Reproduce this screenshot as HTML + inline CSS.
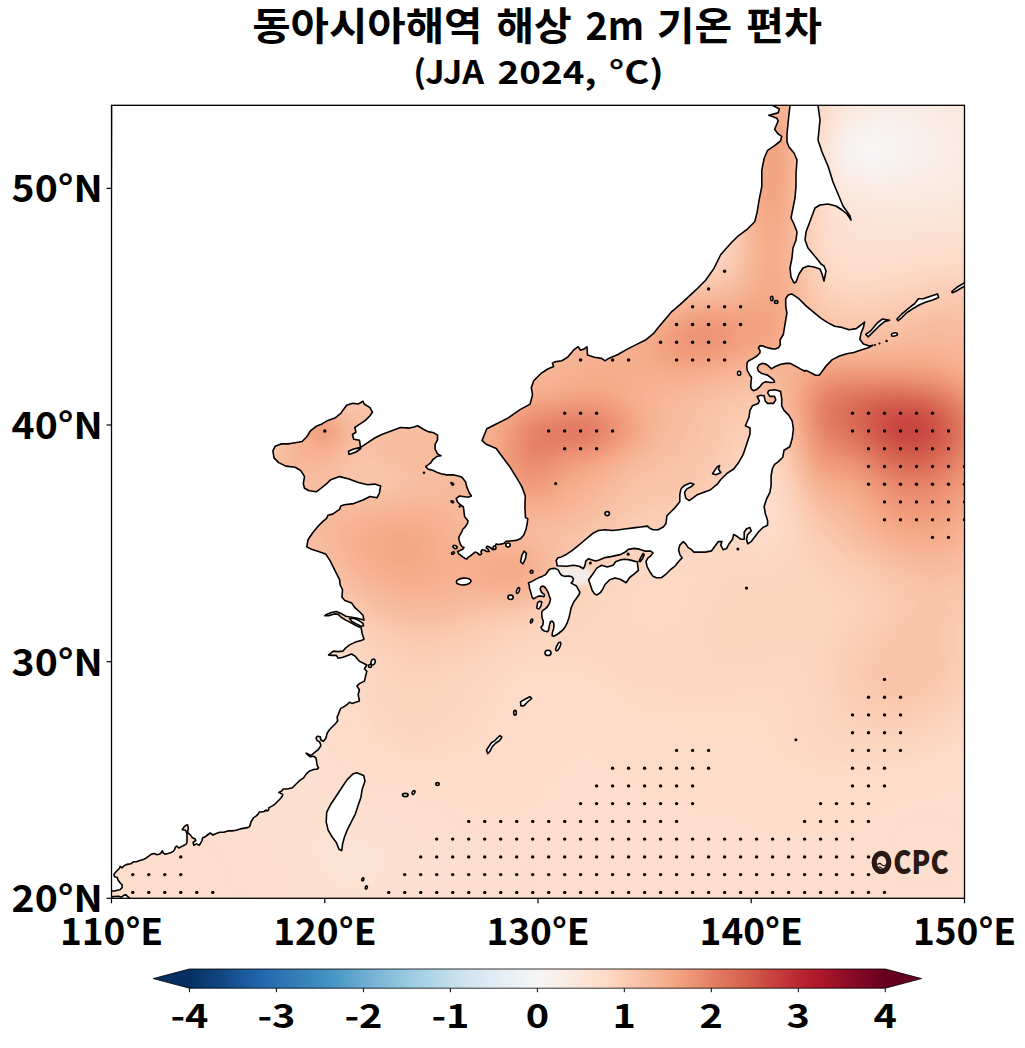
<!DOCTYPE html>
<html><head><meta charset="utf-8"><style>
html,body{margin:0;padding:0;background:#fff;overflow:hidden;width:1025px;height:1048px;}
svg{display:block;}
text{font-family:'Noto Sans CJK KR','Liberation Sans',sans-serif;font-weight:700;fill:#000;}
</style></head><body>
<svg width="1025" height="1048" viewBox="0 0 1025 1048">
<defs>
<clipPath id="ax"><rect x="111.5" y="105.3" width="853.0" height="793.0"/></clipPath>
<filter id="bl" x="40" y="40" width="1000" height="940" filterUnits="userSpaceOnUse"><feGaussianBlur stdDeviation="9"/></filter>
<filter id="bl2" x="500" y="500" width="150" height="150" filterUnits="userSpaceOnUse"><feGaussianBlur stdDeviation="2.5"/></filter>
<linearGradient id="cb" gradientUnits="userSpaceOnUse" x1="189.4" x2="885.3" y1="0" y2="0"><stop offset="0.000" stop-color="#053061"/><stop offset="0.025" stop-color="#0c3d73"/><stop offset="0.050" stop-color="#124984"/><stop offset="0.075" stop-color="#1a5899"/><stop offset="0.100" stop-color="#2065ab"/><stop offset="0.125" stop-color="#2a71b2"/><stop offset="0.150" stop-color="#327cb7"/><stop offset="0.175" stop-color="#3a87bd"/><stop offset="0.200" stop-color="#4393c3"/><stop offset="0.225" stop-color="#569fc9"/><stop offset="0.250" stop-color="#6bacd1"/><stop offset="0.275" stop-color="#7eb8d7"/><stop offset="0.300" stop-color="#90c4dd"/><stop offset="0.325" stop-color="#a2cde3"/><stop offset="0.350" stop-color="#b1d5e7"/><stop offset="0.375" stop-color="#c2ddec"/><stop offset="0.400" stop-color="#d1e5f0"/><stop offset="0.425" stop-color="#dae9f2"/><stop offset="0.450" stop-color="#e4eef4"/><stop offset="0.475" stop-color="#edf2f5"/><stop offset="0.500" stop-color="#f7f6f6"/><stop offset="0.525" stop-color="#f9f0eb"/><stop offset="0.550" stop-color="#fae9df"/><stop offset="0.575" stop-color="#fce2d2"/><stop offset="0.600" stop-color="#fddbc7"/><stop offset="0.625" stop-color="#fbccb4"/><stop offset="0.650" stop-color="#f8bfa4"/><stop offset="0.675" stop-color="#f6b394"/><stop offset="0.700" stop-color="#f3a481"/><stop offset="0.725" stop-color="#ec9374"/><stop offset="0.750" stop-color="#e48066"/><stop offset="0.775" stop-color="#dd7059"/><stop offset="0.800" stop-color="#d6604d"/><stop offset="0.825" stop-color="#cc4c44"/><stop offset="0.850" stop-color="#c43b3c"/><stop offset="0.875" stop-color="#ba2832"/><stop offset="0.900" stop-color="#b1182b"/><stop offset="0.925" stop-color="#9f1228"/><stop offset="0.950" stop-color="#8a0b25"/><stop offset="0.975" stop-color="#790622"/><stop offset="1.000" stop-color="#67001f"/></linearGradient>
</defs>
<text x="252.2" y="40" font-size="39" textLength="230.2" lengthAdjust="spacingAndGlyphs">동아시아해역</text><text x="496.2" y="40" font-size="39" textLength="75.4" lengthAdjust="spacingAndGlyphs">해상</text><text x="585.4" y="40" font-size="39" textLength="58.6" lengthAdjust="spacingAndGlyphs">2m</text><text x="656.8" y="40" font-size="39" textLength="75.4" lengthAdjust="spacingAndGlyphs">기온</text><text x="746.0" y="40" font-size="39" textLength="76.0" lengthAdjust="spacingAndGlyphs">편차</text>
<text x="413.2" y="83.5" font-size="32" textLength="71.0" lengthAdjust="spacingAndGlyphs">(JJA</text><text x="497.6" y="83.5" font-size="32" textLength="98.8" lengthAdjust="spacingAndGlyphs">2024,</text><text x="608.8" y="83.5" font-size="32" textLength="55.0" lengthAdjust="spacingAndGlyphs">°C)</text>
<g clip-path="url(#ax)">
<g filter="url(#bl)"><path fill="#f6f7f7" d="M858 141h12v13h-12zM869 141h12v13h-12z"/><path fill="#f7f6f6" d="M858 153h12v13h-12zM869 153h12v13h-12z"/><path fill="#f7f6f6" d="M879 141h12v13h-12z"/><path fill="#f7f5f4" d="M847 141h12v13h-12zM858 129h12v13h-12zM869 129h12v13h-12zM879 153h12v13h-12z"/><path fill="#f8f4f2" d="M847 153h12v13h-12zM879 129h12v13h-12zM890 141h12v13h-12z"/><path fill="#f8f3f0" d="M890 153h12v13h-12zM890 129h12v13h-12z"/><path fill="#f8f2ef" d="M847 129h12v13h-12zM858 165h12v13h-12zM869 165h12v13h-12zM901 141h12v13h-12z"/><path fill="#f8f2ef" d="M869 117h12v13h-12zM879 165h12v13h-12zM879 117h12v13h-12zM901 153h12v13h-12zM901 129h12v13h-12z"/><path fill="#f8f1ed" d="M837 141h12v13h-12zM847 165h12v13h-12zM858 117h12v13h-12zM890 165h12v13h-12zM890 117h12v13h-12zM911 141h12v13h-12z"/><path fill="#f9f0eb" d="M837 153h12v13h-12zM901 117h12v13h-12zM911 153h12v13h-12zM911 129h12v13h-12z"/><path fill="#f9efe9" d="M901 165h12v13h-12zM911 117h12v13h-12zM922 153h12v13h-12zM922 141h12v13h-12zM922 129h12v13h-12z"/><path fill="#f9eee7" d="M837 129h12v13h-12zM847 117h12v13h-12zM879 106h12v13h-12zM890 106h12v13h-12zM901 106h12v13h-12zM911 165h12v13h-12zM922 117h12v13h-12zM933 153h12v13h-12zM933 141h12v13h-12zM933 129h12v13h-12z"/><path fill="#f9eee7" d="M837 165h12v13h-12zM858 177h12v13h-12zM869 177h12v13h-12zM869 106h12v13h-12zM879 177h12v13h-12zM890 177h12v13h-12zM911 106h12v13h-12zM922 165h12v13h-12zM933 117h12v13h-12zM943 141h12v13h-12z"/><path fill="#f9ede5" d="M858 106h12v13h-12zM901 177h12v13h-12zM911 177h12v13h-12zM922 106h12v13h-12zM933 165h12v13h-12zM943 153h12v13h-12zM943 129h12v13h-12z"/><path fill="#f9ebe3" d="M847 177h12v13h-12zM890 94h12v13h-12zM901 94h12v13h-12zM911 94h12v13h-12zM922 177h12v13h-12zM933 177h12v13h-12zM933 106h12v13h-12zM943 165h12v13h-12zM943 117h12v13h-12zM954 153h12v13h-12zM954 141h12v13h-12zM954 129h12v13h-12z"/><path fill="#faeae1" d="M879 94h12v13h-12zM922 94h12v13h-12zM943 177h12v13h-12zM943 106h12v13h-12zM954 165h12v13h-12zM954 117h12v13h-12z"/><path fill="#fae9df" d="M826 153h12v13h-12zM826 141h12v13h-12zM837 117h12v13h-12zM847 106h12v13h-12zM869 188h12v13h-12zM869 94h12v13h-12zM879 188h12v13h-12zM890 188h12v13h-12zM901 188h12v13h-12zM911 188h12v13h-12zM922 188h12v13h-12zM933 94h12v13h-12zM964 153h12v13h-12zM964 141h12v13h-12zM964 129h12v13h-12z"/><path fill="#fae9df" d="M837 177h12v13h-12zM858 188h12v13h-12zM858 94h12v13h-12zM879 82h12v13h-12zM890 82h12v13h-12zM901 82h12v13h-12zM911 82h12v13h-12zM922 82h12v13h-12zM933 188h12v13h-12zM943 188h12v13h-12zM943 94h12v13h-12zM954 177h12v13h-12zM954 106h12v13h-12zM964 165h12v13h-12zM964 117h12v13h-12z"/><path fill="#fae8de" d="M847 188h12v13h-12zM933 82h12v13h-12zM954 188h12v13h-12zM954 94h12v13h-12zM964 177h12v13h-12zM964 106h12v13h-12zM975 153h12v13h-12zM975 141h12v13h-12zM975 129h12v13h-12z"/><path fill="#fae7dc" d="M826 165h12v13h-12zM826 129h12v13h-12zM869 82h12v13h-12zM879 200h12v13h-12zM890 200h12v13h-12zM901 200h12v13h-12zM901 70h12v13h-12zM911 200h12v13h-12zM911 70h12v13h-12zM922 200h12v13h-12zM933 200h12v13h-12zM943 82h12v13h-12zM975 165h12v13h-12zM975 117h12v13h-12z"/><path fill="#fbe6da" d="M837 188h12v13h-12zM837 106h12v13h-12zM847 94h12v13h-12zM858 200h12v13h-12zM858 82h12v13h-12zM869 200h12v13h-12zM879 70h12v13h-12zM890 70h12v13h-12zM922 70h12v13h-12zM933 70h12v13h-12zM943 200h12v13h-12zM954 82h12v13h-12zM964 188h12v13h-12zM964 94h12v13h-12zM975 177h12v13h-12zM975 106h12v13h-12zM986 165h12v13h-12zM986 153h12v13h-12zM986 141h12v13h-12zM986 129h12v13h-12z"/><path fill="#fbe5d8" d="M847 200h12v13h-12zM869 70h12v13h-12zM890 212h12v13h-12zM901 212h12v13h-12zM911 212h12v13h-12zM922 212h12v13h-12zM943 70h12v13h-12zM954 200h12v13h-12zM964 82h12v13h-12zM975 188h12v13h-12zM975 94h12v13h-12zM986 177h12v13h-12zM986 117h12v13h-12z"/><path fill="#fbe5d8" d="M826 177h12v13h-12zM826 117h12v13h-12zM847 82h12v13h-12zM858 212h12v13h-12zM858 70h12v13h-12zM869 212h12v13h-12zM879 212h12v13h-12zM890 58h12v13h-12zM901 58h12v13h-12zM911 58h12v13h-12zM922 58h12v13h-12zM933 212h12v13h-12zM943 212h12v13h-12zM954 70h12v13h-12zM964 200h12v13h-12zM986 106h12v13h-12zM996 165h12v13h-12zM996 153h12v13h-12zM996 141h12v13h-12zM996 129h12v13h-12z"/><path fill="#fbe4d6" d="M837 200h12v13h-12zM837 94h12v13h-12zM847 212h12v13h-12zM869 58h12v13h-12zM879 58h12v13h-12zM890 224h12v13h-12zM901 224h12v13h-12zM933 58h12v13h-12zM943 58h12v13h-12zM954 212h12v13h-12zM964 70h12v13h-12zM975 200h12v13h-12zM975 82h12v13h-12zM986 188h12v13h-12zM986 94h12v13h-12zM996 177h12v13h-12zM996 117h12v13h-12zM996 106h12v13h-12z"/><path fill="#fbe3d4" d="M826 188h12v13h-12zM837 212h12v13h-12zM847 224h12v13h-12zM847 70h12v13h-12zM858 224h12v13h-12zM858 58h12v13h-12zM869 224h12v13h-12zM879 224h12v13h-12zM890 46h12v13h-12zM901 46h12v13h-12zM911 224h12v13h-12zM911 46h12v13h-12zM922 224h12v13h-12zM922 46h12v13h-12zM933 224h12v13h-12zM954 58h12v13h-12zM964 212h12v13h-12zM975 70h12v13h-12zM986 200h12v13h-12zM986 82h12v13h-12zM996 188h12v13h-12zM996 94h12v13h-12zM1007 177h12v13h-12zM1007 165h12v13h-12zM1007 153h12v13h-12zM1007 141h12v13h-12zM1007 129h12v13h-12zM1007 117h12v13h-12z"/><path fill="#fce2d2" d="M303 851h12v13h-12zM303 839h12v13h-12zM303 827h12v13h-12zM314 875h12v13h-12zM314 863h12v13h-12zM314 851h12v13h-12zM314 839h12v13h-12zM314 827h12v13h-12zM314 815h12v13h-12zM325 875h12v13h-12zM325 863h12v13h-12zM325 851h12v13h-12zM325 839h12v13h-12zM325 827h12v13h-12zM335 886h12v13h-12zM335 875h12v13h-12zM335 863h12v13h-12zM335 851h12v13h-12zM335 839h12v13h-12zM335 827h12v13h-12zM346 886h12v13h-12zM346 875h12v13h-12zM346 863h12v13h-12zM346 851h12v13h-12zM346 839h12v13h-12zM346 827h12v13h-12zM357 886h12v13h-12zM357 875h12v13h-12zM357 863h12v13h-12zM357 851h12v13h-12zM357 839h12v13h-12zM357 827h12v13h-12zM367 875h12v13h-12zM367 863h12v13h-12zM367 851h12v13h-12zM367 839h12v13h-12zM378 875h12v13h-12zM378 863h12v13h-12zM378 851h12v13h-12zM378 839h12v13h-12zM837 224h12v13h-12zM837 82h12v13h-12zM858 236h12v13h-12zM869 236h12v13h-12zM869 46h12v13h-12zM879 236h12v13h-12zM879 46h12v13h-12zM890 236h12v13h-12zM933 46h12v13h-12zM943 224h12v13h-12zM943 46h12v13h-12zM954 224h12v13h-12zM964 58h12v13h-12zM975 212h12v13h-12zM986 212h12v13h-12zM986 70h12v13h-12zM996 200h12v13h-12zM996 82h12v13h-12zM1007 188h12v13h-12zM1007 106h12v13h-12zM1018 165h12v13h-12zM1018 153h12v13h-12zM1018 141h12v13h-12zM1018 129h12v13h-12z"/><path fill="#fce0d0" d="M271 804h12v13h-12zM271 792h12v13h-12zM282 839h12v13h-12zM282 827h12v13h-12zM282 815h12v13h-12zM282 804h12v13h-12zM282 792h12v13h-12zM282 780h12v13h-12zM293 863h12v13h-12zM293 851h12v13h-12zM293 839h12v13h-12zM293 827h12v13h-12zM293 815h12v13h-12zM293 804h12v13h-12zM293 792h12v13h-12zM303 886h12v13h-12zM303 875h12v13h-12zM303 863h12v13h-12zM303 815h12v13h-12zM303 804h12v13h-12zM303 792h12v13h-12zM314 898h12v13h-12zM314 886h12v13h-12zM314 804h12v13h-12zM314 792h12v13h-12zM325 898h12v13h-12zM325 886h12v13h-12zM325 815h12v13h-12zM325 804h12v13h-12zM335 898h12v13h-12zM335 815h12v13h-12zM335 804h12v13h-12zM346 898h12v13h-12zM346 815h12v13h-12zM357 898h12v13h-12zM357 815h12v13h-12zM367 898h12v13h-12zM367 886h12v13h-12zM367 827h12v13h-12zM367 815h12v13h-12zM378 898h12v13h-12zM378 886h12v13h-12zM378 827h12v13h-12zM389 886h12v13h-12zM389 875h12v13h-12zM389 863h12v13h-12zM389 851h12v13h-12zM389 839h12v13h-12zM389 827h12v13h-12zM399 875h12v13h-12zM399 863h12v13h-12zM399 851h12v13h-12zM399 839h12v13h-12zM410 863h12v13h-12zM815 153h12v13h-12zM815 141h12v13h-12zM826 200h12v13h-12zM826 106h12v13h-12zM847 236h12v13h-12zM847 58h12v13h-12zM858 46h12v13h-12zM879 35h12v13h-12zM890 35h12v13h-12zM901 236h12v13h-12zM901 35h12v13h-12zM911 236h12v13h-12zM911 35h12v13h-12zM922 236h12v13h-12zM922 35h12v13h-12zM933 35h12v13h-12zM954 46h12v13h-12zM964 224h12v13h-12zM964 46h12v13h-12zM975 58h12v13h-12zM986 58h12v13h-12zM996 212h12v13h-12zM996 70h12v13h-12zM1007 200h12v13h-12zM1007 94h12v13h-12zM1007 82h12v13h-12zM1018 188h12v13h-12zM1018 177h12v13h-12zM1018 117h12v13h-12zM1018 106h12v13h-12z"/><path fill="#fce0d0" d="M229 780h12v13h-12zM229 768h12v13h-12zM239 792h12v13h-12zM239 780h12v13h-12zM239 768h12v13h-12zM239 756h12v13h-12zM250 815h12v13h-12zM250 804h12v13h-12zM250 792h12v13h-12zM250 780h12v13h-12zM250 768h12v13h-12zM250 756h12v13h-12zM250 744h12v13h-12zM261 827h12v13h-12zM261 815h12v13h-12zM261 804h12v13h-12zM261 792h12v13h-12zM261 780h12v13h-12zM261 768h12v13h-12zM261 756h12v13h-12zM261 744h12v13h-12zM271 851h12v13h-12zM271 839h12v13h-12zM271 827h12v13h-12zM271 815h12v13h-12zM271 780h12v13h-12zM271 768h12v13h-12zM271 756h12v13h-12zM271 744h12v13h-12zM282 886h12v13h-12zM282 875h12v13h-12zM282 863h12v13h-12zM282 851h12v13h-12zM282 768h12v13h-12zM282 756h12v13h-12zM282 744h12v13h-12zM293 910h12v13h-12zM293 898h12v13h-12zM293 886h12v13h-12zM293 875h12v13h-12zM293 780h12v13h-12zM293 768h12v13h-12zM293 756h12v13h-12zM303 910h12v13h-12zM303 898h12v13h-12zM303 780h12v13h-12zM303 768h12v13h-12zM314 922h12v13h-12zM314 910h12v13h-12zM314 780h12v13h-12zM325 922h12v13h-12zM325 910h12v13h-12zM325 792h12v13h-12zM335 922h12v13h-12zM335 910h12v13h-12zM335 792h12v13h-12zM346 922h12v13h-12zM346 910h12v13h-12zM346 804h12v13h-12zM357 922h12v13h-12zM357 910h12v13h-12zM357 804h12v13h-12zM367 922h12v13h-12zM367 910h12v13h-12zM367 804h12v13h-12zM378 910h12v13h-12zM378 815h12v13h-12zM389 910h12v13h-12zM389 898h12v13h-12zM389 815h12v13h-12zM399 910h12v13h-12zM399 898h12v13h-12zM399 886h12v13h-12zM399 827h12v13h-12zM399 815h12v13h-12zM410 898h12v13h-12zM410 886h12v13h-12zM410 875h12v13h-12zM410 851h12v13h-12zM410 839h12v13h-12zM410 827h12v13h-12zM421 886h12v13h-12zM421 875h12v13h-12zM421 863h12v13h-12zM421 851h12v13h-12zM421 839h12v13h-12zM431 875h12v13h-12zM431 863h12v13h-12zM431 851h12v13h-12zM815 165h12v13h-12zM826 224h12v13h-12zM826 212h12v13h-12zM837 236h12v13h-12zM837 70h12v13h-12zM837 58h12v13h-12zM847 248h12v13h-12zM847 46h12v13h-12zM858 248h12v13h-12zM858 35h12v13h-12zM869 248h12v13h-12zM869 35h12v13h-12zM879 248h12v13h-12zM901 23h12v13h-12zM911 23h12v13h-12zM922 23h12v13h-12zM933 236h12v13h-12zM943 236h12v13h-12zM943 35h12v13h-12zM954 35h12v13h-12zM964 35h12v13h-12zM975 224h12v13h-12zM975 46h12v13h-12zM986 224h12v13h-12zM986 46h12v13h-12zM996 58h12v13h-12zM1007 212h12v13h-12zM1007 70h12v13h-12zM1018 200h12v13h-12zM1018 94h12v13h-12zM1018 82h12v13h-12z"/><path fill="#fcdfcf" d="M186 780h12v13h-12zM186 768h12v13h-12zM197 792h12v13h-12zM197 780h12v13h-12zM197 768h12v13h-12zM197 756h12v13h-12zM197 744h12v13h-12zM207 804h12v13h-12zM207 792h12v13h-12zM207 780h12v13h-12zM207 768h12v13h-12zM207 756h12v13h-12zM207 744h12v13h-12zM207 733h12v13h-12zM218 815h12v13h-12zM218 804h12v13h-12zM218 792h12v13h-12zM218 780h12v13h-12zM218 768h12v13h-12zM218 756h12v13h-12zM218 744h12v13h-12zM218 733h12v13h-12zM218 721h12v13h-12zM229 815h12v13h-12zM229 804h12v13h-12zM229 792h12v13h-12zM229 756h12v13h-12zM229 744h12v13h-12zM229 733h12v13h-12zM229 721h12v13h-12zM239 827h12v13h-12zM239 815h12v13h-12zM239 804h12v13h-12zM239 744h12v13h-12zM239 733h12v13h-12zM239 721h12v13h-12zM239 709h12v13h-12zM250 851h12v13h-12zM250 839h12v13h-12zM250 827h12v13h-12zM250 733h12v13h-12zM250 721h12v13h-12zM250 709h12v13h-12zM261 886h12v13h-12zM261 875h12v13h-12zM261 863h12v13h-12zM261 851h12v13h-12zM261 839h12v13h-12zM261 733h12v13h-12zM261 721h12v13h-12zM261 709h12v13h-12zM271 922h12v13h-12zM271 910h12v13h-12zM271 898h12v13h-12zM271 886h12v13h-12zM271 875h12v13h-12zM271 863h12v13h-12zM271 733h12v13h-12zM271 721h12v13h-12zM271 709h12v13h-12zM282 934h12v13h-12zM282 922h12v13h-12zM282 910h12v13h-12zM282 898h12v13h-12zM282 733h12v13h-12zM282 721h12v13h-12zM282 709h12v13h-12zM293 934h12v13h-12zM293 922h12v13h-12zM293 744h12v13h-12zM293 733h12v13h-12zM293 721h12v13h-12zM303 946h12v13h-12zM303 934h12v13h-12zM303 922h12v13h-12zM303 756h12v13h-12zM303 744h12v13h-12zM314 946h12v13h-12zM314 934h12v13h-12zM314 768h12v13h-12zM314 756h12v13h-12zM325 946h12v13h-12zM325 934h12v13h-12zM325 780h12v13h-12zM325 768h12v13h-12zM335 946h12v13h-12zM335 934h12v13h-12zM335 780h12v13h-12zM346 946h12v13h-12zM346 934h12v13h-12zM346 792h12v13h-12zM357 946h12v13h-12zM357 934h12v13h-12zM357 792h12v13h-12zM367 946h12v13h-12zM367 934h12v13h-12zM367 792h12v13h-12zM378 946h12v13h-12zM378 934h12v13h-12zM378 922h12v13h-12zM378 804h12v13h-12zM389 934h12v13h-12zM389 922h12v13h-12zM389 804h12v13h-12zM399 934h12v13h-12zM399 922h12v13h-12zM399 804h12v13h-12zM410 922h12v13h-12zM410 910h12v13h-12zM410 815h12v13h-12zM421 922h12v13h-12zM421 910h12v13h-12zM421 898h12v13h-12zM421 827h12v13h-12zM421 815h12v13h-12zM431 910h12v13h-12zM431 898h12v13h-12zM431 886h12v13h-12zM431 839h12v13h-12zM431 827h12v13h-12zM442 898h12v13h-12zM442 886h12v13h-12zM442 875h12v13h-12zM442 863h12v13h-12zM442 851h12v13h-12zM442 839h12v13h-12zM453 886h12v13h-12zM453 875h12v13h-12zM453 863h12v13h-12zM453 851h12v13h-12zM815 129h12v13h-12zM826 236h12v13h-12zM826 94h12v13h-12zM837 248h12v13h-12zM837 46h12v13h-12zM847 35h12v13h-12zM858 23h12v13h-12zM869 23h12v13h-12zM879 23h12v13h-12zM890 248h12v13h-12zM890 23h12v13h-12zM901 248h12v13h-12zM911 248h12v13h-12zM933 23h12v13h-12zM943 23h12v13h-12zM954 236h12v13h-12zM954 23h12v13h-12zM964 236h12v13h-12zM964 23h12v13h-12zM975 35h12v13h-12zM975 23h12v13h-12zM986 35h12v13h-12zM996 224h12v13h-12zM996 46h12v13h-12zM996 35h12v13h-12zM1007 224h12v13h-12zM1007 58h12v13h-12zM1007 46h12v13h-12zM1018 212h12v13h-12zM1018 70h12v13h-12zM1018 58h12v13h-12z"/><path fill="#fcdecd" d="M122 780h12v13h-12zM122 768h12v13h-12zM122 756h12v13h-12zM133 792h12v13h-12zM133 780h12v13h-12zM133 768h12v13h-12zM133 756h12v13h-12zM133 744h12v13h-12zM133 733h12v13h-12zM143 804h12v13h-12zM143 792h12v13h-12zM143 780h12v13h-12zM143 768h12v13h-12zM143 756h12v13h-12zM143 744h12v13h-12zM143 733h12v13h-12zM143 721h12v13h-12zM154 804h12v13h-12zM154 792h12v13h-12zM154 780h12v13h-12zM154 768h12v13h-12zM154 756h12v13h-12zM154 744h12v13h-12zM154 733h12v13h-12zM154 721h12v13h-12zM154 709h12v13h-12zM165 815h12v13h-12zM165 804h12v13h-12zM165 792h12v13h-12zM165 780h12v13h-12zM165 768h12v13h-12zM165 756h12v13h-12zM165 744h12v13h-12zM165 733h12v13h-12zM165 721h12v13h-12zM165 709h12v13h-12zM165 697h12v13h-12zM175 815h12v13h-12zM175 804h12v13h-12zM175 792h12v13h-12zM175 780h12v13h-12zM175 768h12v13h-12zM175 756h12v13h-12zM175 744h12v13h-12zM175 733h12v13h-12zM175 721h12v13h-12zM175 709h12v13h-12zM175 697h12v13h-12zM175 685h12v13h-12zM186 827h12v13h-12zM186 815h12v13h-12zM186 804h12v13h-12zM186 792h12v13h-12zM186 756h12v13h-12zM186 744h12v13h-12zM186 733h12v13h-12zM186 721h12v13h-12zM186 709h12v13h-12zM186 697h12v13h-12zM186 685h12v13h-12zM197 827h12v13h-12zM197 815h12v13h-12zM197 804h12v13h-12zM197 733h12v13h-12zM197 721h12v13h-12zM197 709h12v13h-12zM197 697h12v13h-12zM197 685h12v13h-12zM197 674h12v13h-12zM207 839h12v13h-12zM207 827h12v13h-12zM207 815h12v13h-12zM207 721h12v13h-12zM207 709h12v13h-12zM207 697h12v13h-12zM207 685h12v13h-12zM207 674h12v13h-12zM218 957h12v13h-12zM218 946h12v13h-12zM218 851h12v13h-12zM218 839h12v13h-12zM218 827h12v13h-12zM218 709h12v13h-12zM218 697h12v13h-12zM218 685h12v13h-12zM218 674h12v13h-12zM229 957h12v13h-12zM229 946h12v13h-12zM229 934h12v13h-12zM229 922h12v13h-12zM229 910h12v13h-12zM229 898h12v13h-12zM229 875h12v13h-12zM229 863h12v13h-12zM229 851h12v13h-12zM229 839h12v13h-12zM229 827h12v13h-12zM229 709h12v13h-12zM229 697h12v13h-12zM229 685h12v13h-12zM229 674h12v13h-12zM229 662h12v13h-12zM239 957h12v13h-12zM239 946h12v13h-12zM239 934h12v13h-12zM239 922h12v13h-12zM239 910h12v13h-12zM239 898h12v13h-12zM239 886h12v13h-12zM239 875h12v13h-12zM239 863h12v13h-12zM239 851h12v13h-12zM239 839h12v13h-12zM239 697h12v13h-12zM239 685h12v13h-12zM239 674h12v13h-12zM239 662h12v13h-12zM239 342h12v13h-12zM239 330h12v13h-12zM250 957h12v13h-12zM250 946h12v13h-12zM250 934h12v13h-12zM250 922h12v13h-12zM250 910h12v13h-12zM250 898h12v13h-12zM250 886h12v13h-12zM250 875h12v13h-12zM250 863h12v13h-12zM250 697h12v13h-12zM250 685h12v13h-12zM250 674h12v13h-12zM250 662h12v13h-12zM250 354h12v13h-12zM250 342h12v13h-12zM250 330h12v13h-12zM250 319h12v13h-12zM261 957h12v13h-12zM261 946h12v13h-12zM261 934h12v13h-12zM261 922h12v13h-12zM261 910h12v13h-12zM261 898h12v13h-12zM261 697h12v13h-12zM261 685h12v13h-12zM261 674h12v13h-12zM261 354h12v13h-12zM261 342h12v13h-12zM261 330h12v13h-12zM261 319h12v13h-12zM271 957h12v13h-12zM271 946h12v13h-12zM271 934h12v13h-12zM271 697h12v13h-12zM271 685h12v13h-12zM271 674h12v13h-12zM271 354h12v13h-12zM271 342h12v13h-12zM271 330h12v13h-12zM271 319h12v13h-12zM282 957h12v13h-12zM282 946h12v13h-12zM282 697h12v13h-12zM282 685h12v13h-12zM282 674h12v13h-12zM293 957h12v13h-12zM293 946h12v13h-12zM293 709h12v13h-12zM293 697h12v13h-12zM293 685h12v13h-12zM303 957h12v13h-12zM303 733h12v13h-12zM303 721h12v13h-12zM303 709h12v13h-12zM303 697h12v13h-12zM314 957h12v13h-12zM314 744h12v13h-12zM314 733h12v13h-12zM314 721h12v13h-12zM325 957h12v13h-12zM325 756h12v13h-12zM325 744h12v13h-12zM335 957h12v13h-12zM335 768h12v13h-12zM346 957h12v13h-12zM346 780h12v13h-12zM357 957h12v13h-12zM357 780h12v13h-12zM367 957h12v13h-12zM378 957h12v13h-12zM378 792h12v13h-12zM389 957h12v13h-12zM389 946h12v13h-12zM389 792h12v13h-12zM399 957h12v13h-12zM399 946h12v13h-12zM399 792h12v13h-12zM410 957h12v13h-12zM410 946h12v13h-12zM410 934h12v13h-12zM410 804h12v13h-12zM421 957h12v13h-12zM421 946h12v13h-12zM421 934h12v13h-12zM421 804h12v13h-12zM431 957h12v13h-12zM431 946h12v13h-12zM431 934h12v13h-12zM431 922h12v13h-12zM431 815h12v13h-12zM431 804h12v13h-12zM442 957h12v13h-12zM442 946h12v13h-12zM442 934h12v13h-12zM442 922h12v13h-12zM442 910h12v13h-12zM442 827h12v13h-12zM442 815h12v13h-12zM453 957h12v13h-12zM453 946h12v13h-12zM453 934h12v13h-12zM453 922h12v13h-12zM453 910h12v13h-12zM453 898h12v13h-12zM453 839h12v13h-12zM453 827h12v13h-12zM453 815h12v13h-12zM463 957h12v13h-12zM463 946h12v13h-12zM463 934h12v13h-12zM463 922h12v13h-12zM463 910h12v13h-12zM463 898h12v13h-12zM463 886h12v13h-12zM463 875h12v13h-12zM463 863h12v13h-12zM463 851h12v13h-12zM463 839h12v13h-12zM463 827h12v13h-12zM474 946h12v13h-12zM474 934h12v13h-12zM474 922h12v13h-12zM474 910h12v13h-12zM474 898h12v13h-12zM474 886h12v13h-12zM474 875h12v13h-12zM474 863h12v13h-12zM474 851h12v13h-12zM474 839h12v13h-12zM474 827h12v13h-12zM485 934h12v13h-12zM485 922h12v13h-12zM485 910h12v13h-12zM485 898h12v13h-12zM485 886h12v13h-12zM485 875h12v13h-12zM485 863h12v13h-12zM485 851h12v13h-12zM485 839h12v13h-12zM495 922h12v13h-12zM495 910h12v13h-12zM495 898h12v13h-12zM495 886h12v13h-12zM495 875h12v13h-12zM495 863h12v13h-12zM495 851h12v13h-12zM495 839h12v13h-12zM506 910h12v13h-12zM506 898h12v13h-12zM506 886h12v13h-12zM506 875h12v13h-12zM506 863h12v13h-12zM506 851h12v13h-12zM517 886h12v13h-12zM517 875h12v13h-12zM517 863h12v13h-12zM815 177h12v13h-12zM826 82h12v13h-12zM826 70h12v13h-12zM837 35h12v13h-12zM837 23h12v13h-12zM847 259h12v13h-12zM847 23h12v13h-12zM858 259h12v13h-12zM869 259h12v13h-12zM890 863h12v13h-12zM890 851h12v13h-12zM890 839h12v13h-12zM890 827h12v13h-12zM901 875h12v13h-12zM901 863h12v13h-12zM901 851h12v13h-12zM901 839h12v13h-12zM901 827h12v13h-12zM901 815h12v13h-12zM911 875h12v13h-12zM911 863h12v13h-12zM911 851h12v13h-12zM911 839h12v13h-12zM911 827h12v13h-12zM911 815h12v13h-12zM922 875h12v13h-12zM922 863h12v13h-12zM922 851h12v13h-12zM922 839h12v13h-12zM922 827h12v13h-12zM922 815h12v13h-12zM922 248h12v13h-12zM933 875h12v13h-12zM933 863h12v13h-12zM933 851h12v13h-12zM933 839h12v13h-12zM933 827h12v13h-12zM933 815h12v13h-12zM943 863h12v13h-12zM943 851h12v13h-12zM943 839h12v13h-12zM943 827h12v13h-12zM943 815h12v13h-12zM954 839h12v13h-12zM954 827h12v13h-12zM975 236h12v13h-12zM986 236h12v13h-12zM986 23h12v13h-12zM996 236h12v13h-12zM996 23h12v13h-12zM1007 236h12v13h-12zM1007 35h12v13h-12zM1007 23h12v13h-12zM1018 236h12v13h-12zM1018 224h12v13h-12zM1018 46h12v13h-12zM1018 35h12v13h-12zM1018 23h12v13h-12z"/><path fill="#fdddcb" d="M48 957h12v13h-12zM48 946h12v13h-12zM48 934h12v13h-12zM48 922h12v13h-12zM48 910h12v13h-12zM48 898h12v13h-12zM48 886h12v13h-12zM48 875h12v13h-12zM48 863h12v13h-12zM48 851h12v13h-12zM48 839h12v13h-12zM48 827h12v13h-12zM48 815h12v13h-12zM48 804h12v13h-12zM48 792h12v13h-12zM48 780h12v13h-12zM48 768h12v13h-12zM48 756h12v13h-12zM48 744h12v13h-12zM48 733h12v13h-12zM48 721h12v13h-12zM48 709h12v13h-12zM48 697h12v13h-12zM48 685h12v13h-12zM48 674h12v13h-12zM48 662h12v13h-12zM48 650h12v13h-12zM48 638h12v13h-12zM48 626h12v13h-12zM48 614h12v13h-12zM48 603h12v13h-12zM48 591h12v13h-12zM48 579h12v13h-12zM48 567h12v13h-12zM48 555h12v13h-12zM48 543h12v13h-12zM48 532h12v13h-12zM48 520h12v13h-12zM48 508h12v13h-12zM48 496h12v13h-12zM48 484h12v13h-12zM48 472h12v13h-12zM48 461h12v13h-12zM48 449h12v13h-12zM48 437h12v13h-12zM48 425h12v13h-12zM48 413h12v13h-12zM48 401h12v13h-12zM48 390h12v13h-12zM48 378h12v13h-12zM48 366h12v13h-12zM48 354h12v13h-12zM48 342h12v13h-12zM48 330h12v13h-12zM48 319h12v13h-12zM48 307h12v13h-12zM48 295h12v13h-12zM48 283h12v13h-12zM48 271h12v13h-12zM48 259h12v13h-12zM48 248h12v13h-12zM48 236h12v13h-12zM48 224h12v13h-12zM48 212h12v13h-12zM48 200h12v13h-12zM48 188h12v13h-12zM48 177h12v13h-12zM48 165h12v13h-12zM48 153h12v13h-12zM48 141h12v13h-12zM48 129h12v13h-12zM48 117h12v13h-12zM48 106h12v13h-12zM48 94h12v13h-12zM48 82h12v13h-12zM48 70h12v13h-12zM48 58h12v13h-12zM48 46h12v13h-12zM48 35h12v13h-12zM48 23h12v13h-12zM58 957h12v13h-12zM58 946h12v13h-12zM58 934h12v13h-12zM58 922h12v13h-12zM58 910h12v13h-12zM58 898h12v13h-12zM58 886h12v13h-12zM58 875h12v13h-12zM58 863h12v13h-12zM58 851h12v13h-12zM58 839h12v13h-12zM58 827h12v13h-12zM58 815h12v13h-12zM58 804h12v13h-12zM58 792h12v13h-12zM58 780h12v13h-12zM58 768h12v13h-12zM58 756h12v13h-12zM58 744h12v13h-12zM58 733h12v13h-12zM58 721h12v13h-12zM58 709h12v13h-12zM58 697h12v13h-12zM58 685h12v13h-12zM58 674h12v13h-12zM58 662h12v13h-12zM58 650h12v13h-12zM58 638h12v13h-12zM58 626h12v13h-12zM58 614h12v13h-12zM58 603h12v13h-12zM58 591h12v13h-12zM58 579h12v13h-12zM58 567h12v13h-12zM58 555h12v13h-12zM58 543h12v13h-12zM58 532h12v13h-12zM58 520h12v13h-12zM58 508h12v13h-12zM58 496h12v13h-12zM58 484h12v13h-12zM58 472h12v13h-12zM58 461h12v13h-12zM58 449h12v13h-12zM58 437h12v13h-12zM58 425h12v13h-12zM58 413h12v13h-12zM58 401h12v13h-12zM58 390h12v13h-12zM58 378h12v13h-12zM58 366h12v13h-12zM58 354h12v13h-12zM58 342h12v13h-12zM58 330h12v13h-12zM58 319h12v13h-12zM58 307h12v13h-12zM58 295h12v13h-12zM58 283h12v13h-12zM58 271h12v13h-12zM58 259h12v13h-12zM58 248h12v13h-12zM58 236h12v13h-12zM58 224h12v13h-12zM58 212h12v13h-12zM58 200h12v13h-12zM58 188h12v13h-12zM58 177h12v13h-12zM58 165h12v13h-12zM58 153h12v13h-12zM58 141h12v13h-12zM58 129h12v13h-12zM58 117h12v13h-12zM58 106h12v13h-12zM58 94h12v13h-12zM58 82h12v13h-12zM58 70h12v13h-12zM58 58h12v13h-12zM58 46h12v13h-12zM58 35h12v13h-12zM58 23h12v13h-12zM69 957h12v13h-12zM69 946h12v13h-12zM69 934h12v13h-12zM69 922h12v13h-12zM69 910h12v13h-12zM69 898h12v13h-12zM69 886h12v13h-12zM69 875h12v13h-12zM69 863h12v13h-12zM69 851h12v13h-12zM69 839h12v13h-12zM69 827h12v13h-12zM69 815h12v13h-12zM69 804h12v13h-12zM69 792h12v13h-12zM69 780h12v13h-12zM69 768h12v13h-12zM69 756h12v13h-12zM69 744h12v13h-12zM69 733h12v13h-12zM69 721h12v13h-12zM69 709h12v13h-12zM69 697h12v13h-12zM69 685h12v13h-12zM69 674h12v13h-12zM69 662h12v13h-12zM69 650h12v13h-12zM69 638h12v13h-12zM69 626h12v13h-12zM69 614h12v13h-12zM69 603h12v13h-12zM69 591h12v13h-12zM69 579h12v13h-12zM69 567h12v13h-12zM69 555h12v13h-12zM69 543h12v13h-12zM69 532h12v13h-12zM69 520h12v13h-12zM69 508h12v13h-12zM69 496h12v13h-12zM69 484h12v13h-12zM69 472h12v13h-12zM69 461h12v13h-12zM69 449h12v13h-12zM69 437h12v13h-12zM69 425h12v13h-12zM69 413h12v13h-12zM69 401h12v13h-12zM69 390h12v13h-12zM69 378h12v13h-12zM69 366h12v13h-12zM69 354h12v13h-12zM69 342h12v13h-12zM69 330h12v13h-12zM69 319h12v13h-12zM69 307h12v13h-12zM69 295h12v13h-12zM69 283h12v13h-12zM69 271h12v13h-12zM69 259h12v13h-12zM69 248h12v13h-12zM69 236h12v13h-12zM69 224h12v13h-12zM69 212h12v13h-12zM69 200h12v13h-12zM69 188h12v13h-12zM69 177h12v13h-12zM69 165h12v13h-12zM69 153h12v13h-12zM69 141h12v13h-12zM69 129h12v13h-12zM69 117h12v13h-12zM69 106h12v13h-12zM69 94h12v13h-12zM69 82h12v13h-12zM69 70h12v13h-12zM69 58h12v13h-12zM69 46h12v13h-12zM69 35h12v13h-12zM69 23h12v13h-12zM80 957h12v13h-12zM80 946h12v13h-12zM80 934h12v13h-12zM80 922h12v13h-12zM80 910h12v13h-12zM80 898h12v13h-12zM80 886h12v13h-12zM80 875h12v13h-12zM80 863h12v13h-12zM80 851h12v13h-12zM80 839h12v13h-12zM80 827h12v13h-12zM80 815h12v13h-12zM80 804h12v13h-12zM80 792h12v13h-12zM80 780h12v13h-12zM80 768h12v13h-12zM80 756h12v13h-12zM80 744h12v13h-12zM80 733h12v13h-12zM80 721h12v13h-12zM80 709h12v13h-12zM80 697h12v13h-12zM80 685h12v13h-12zM80 674h12v13h-12zM80 662h12v13h-12zM80 650h12v13h-12zM80 638h12v13h-12zM80 626h12v13h-12zM80 614h12v13h-12zM80 603h12v13h-12zM80 591h12v13h-12zM80 579h12v13h-12zM80 567h12v13h-12zM80 555h12v13h-12zM80 543h12v13h-12zM80 532h12v13h-12zM80 520h12v13h-12zM80 508h12v13h-12zM80 496h12v13h-12zM80 484h12v13h-12zM80 472h12v13h-12zM80 461h12v13h-12zM80 449h12v13h-12zM80 437h12v13h-12zM80 425h12v13h-12zM80 413h12v13h-12zM80 401h12v13h-12zM80 390h12v13h-12zM80 378h12v13h-12zM80 366h12v13h-12zM80 354h12v13h-12zM80 342h12v13h-12zM80 330h12v13h-12zM80 319h12v13h-12zM80 307h12v13h-12zM80 295h12v13h-12zM80 283h12v13h-12zM80 271h12v13h-12zM80 259h12v13h-12zM80 248h12v13h-12zM80 236h12v13h-12zM80 224h12v13h-12zM80 212h12v13h-12zM80 200h12v13h-12zM80 188h12v13h-12zM80 177h12v13h-12zM80 165h12v13h-12zM80 153h12v13h-12zM80 141h12v13h-12zM80 129h12v13h-12zM80 117h12v13h-12zM80 106h12v13h-12zM80 94h12v13h-12zM80 82h12v13h-12zM80 70h12v13h-12zM80 58h12v13h-12zM80 46h12v13h-12zM80 35h12v13h-12zM80 23h12v13h-12zM90 957h12v13h-12zM90 946h12v13h-12zM90 934h12v13h-12zM90 922h12v13h-12zM90 910h12v13h-12zM90 898h12v13h-12zM90 886h12v13h-12zM90 875h12v13h-12zM90 863h12v13h-12zM90 851h12v13h-12zM90 839h12v13h-12zM90 827h12v13h-12zM90 815h12v13h-12zM90 804h12v13h-12zM90 792h12v13h-12zM90 780h12v13h-12zM90 768h12v13h-12zM90 756h12v13h-12zM90 744h12v13h-12zM90 733h12v13h-12zM90 721h12v13h-12zM90 709h12v13h-12zM90 697h12v13h-12zM90 685h12v13h-12zM90 674h12v13h-12zM90 662h12v13h-12zM90 650h12v13h-12zM90 638h12v13h-12zM90 626h12v13h-12zM90 614h12v13h-12zM90 603h12v13h-12zM90 591h12v13h-12zM90 579h12v13h-12zM90 567h12v13h-12zM90 555h12v13h-12zM90 543h12v13h-12zM90 532h12v13h-12zM90 520h12v13h-12zM90 508h12v13h-12zM90 496h12v13h-12zM90 484h12v13h-12zM90 472h12v13h-12zM90 461h12v13h-12zM90 449h12v13h-12zM90 437h12v13h-12zM90 425h12v13h-12zM90 413h12v13h-12zM90 401h12v13h-12zM90 390h12v13h-12zM90 378h12v13h-12zM90 366h12v13h-12zM90 354h12v13h-12zM90 342h12v13h-12zM90 330h12v13h-12zM90 319h12v13h-12zM90 307h12v13h-12zM90 295h12v13h-12zM90 283h12v13h-12zM90 271h12v13h-12zM90 259h12v13h-12zM90 248h12v13h-12zM90 236h12v13h-12zM90 224h12v13h-12zM90 212h12v13h-12zM90 200h12v13h-12zM90 188h12v13h-12zM90 177h12v13h-12zM90 165h12v13h-12zM90 153h12v13h-12zM90 141h12v13h-12zM90 129h12v13h-12zM90 117h12v13h-12zM90 106h12v13h-12zM90 94h12v13h-12zM90 82h12v13h-12zM90 70h12v13h-12zM90 58h12v13h-12zM90 46h12v13h-12zM90 35h12v13h-12zM90 23h12v13h-12zM101 957h12v13h-12zM101 946h12v13h-12zM101 934h12v13h-12zM101 922h12v13h-12zM101 910h12v13h-12zM101 898h12v13h-12zM101 886h12v13h-12zM101 875h12v13h-12zM101 863h12v13h-12zM101 851h12v13h-12zM101 839h12v13h-12zM101 827h12v13h-12zM101 815h12v13h-12zM101 804h12v13h-12zM101 792h12v13h-12zM101 780h12v13h-12zM101 768h12v13h-12zM101 756h12v13h-12zM101 744h12v13h-12zM101 733h12v13h-12zM101 721h12v13h-12zM101 709h12v13h-12zM101 697h12v13h-12zM101 685h12v13h-12zM101 674h12v13h-12zM101 662h12v13h-12zM101 650h12v13h-12zM101 638h12v13h-12zM101 626h12v13h-12zM101 614h12v13h-12zM101 603h12v13h-12zM101 591h12v13h-12zM101 579h12v13h-12zM101 567h12v13h-12zM101 555h12v13h-12zM101 543h12v13h-12zM101 532h12v13h-12zM101 520h12v13h-12zM101 508h12v13h-12zM101 496h12v13h-12zM101 484h12v13h-12zM101 472h12v13h-12zM101 461h12v13h-12zM101 449h12v13h-12zM101 437h12v13h-12zM101 425h12v13h-12zM101 413h12v13h-12zM101 401h12v13h-12zM101 390h12v13h-12zM101 378h12v13h-12zM101 366h12v13h-12zM101 354h12v13h-12zM101 342h12v13h-12zM101 330h12v13h-12zM101 319h12v13h-12zM101 307h12v13h-12zM101 295h12v13h-12zM101 283h12v13h-12zM101 271h12v13h-12zM101 259h12v13h-12zM101 248h12v13h-12zM101 236h12v13h-12zM101 224h12v13h-12zM101 212h12v13h-12zM101 200h12v13h-12zM101 188h12v13h-12zM101 177h12v13h-12zM101 165h12v13h-12zM101 153h12v13h-12zM101 141h12v13h-12zM101 129h12v13h-12zM101 117h12v13h-12zM101 106h12v13h-12zM101 94h12v13h-12zM101 82h12v13h-12zM101 70h12v13h-12zM101 58h12v13h-12zM101 46h12v13h-12zM101 35h12v13h-12zM101 23h12v13h-12zM112 957h12v13h-12zM112 946h12v13h-12zM112 934h12v13h-12zM112 922h12v13h-12zM112 910h12v13h-12zM112 898h12v13h-12zM112 886h12v13h-12zM112 875h12v13h-12zM112 863h12v13h-12zM112 851h12v13h-12zM112 839h12v13h-12zM112 827h12v13h-12zM112 815h12v13h-12zM112 804h12v13h-12zM112 792h12v13h-12zM112 780h12v13h-12zM112 768h12v13h-12zM112 756h12v13h-12zM112 744h12v13h-12zM112 733h12v13h-12zM112 721h12v13h-12zM112 709h12v13h-12zM112 697h12v13h-12zM112 685h12v13h-12zM112 674h12v13h-12zM112 662h12v13h-12zM112 650h12v13h-12zM112 638h12v13h-12zM112 626h12v13h-12zM112 614h12v13h-12zM112 603h12v13h-12zM112 591h12v13h-12zM112 579h12v13h-12zM112 567h12v13h-12zM112 555h12v13h-12zM112 543h12v13h-12zM112 532h12v13h-12zM112 520h12v13h-12zM112 508h12v13h-12zM112 496h12v13h-12zM112 484h12v13h-12zM112 472h12v13h-12zM112 461h12v13h-12zM112 449h12v13h-12zM112 437h12v13h-12zM112 425h12v13h-12zM112 413h12v13h-12zM112 401h12v13h-12zM112 390h12v13h-12zM112 378h12v13h-12zM112 366h12v13h-12zM112 354h12v13h-12zM112 342h12v13h-12zM112 330h12v13h-12zM112 319h12v13h-12zM112 307h12v13h-12zM112 295h12v13h-12zM112 283h12v13h-12zM112 271h12v13h-12zM112 259h12v13h-12zM112 248h12v13h-12zM112 236h12v13h-12zM112 224h12v13h-12zM112 212h12v13h-12zM112 200h12v13h-12zM112 188h12v13h-12zM112 177h12v13h-12zM112 165h12v13h-12zM112 153h12v13h-12zM112 141h12v13h-12zM112 129h12v13h-12zM112 117h12v13h-12zM112 106h12v13h-12zM112 94h12v13h-12zM112 82h12v13h-12zM112 70h12v13h-12zM112 58h12v13h-12zM112 46h12v13h-12zM112 35h12v13h-12zM112 23h12v13h-12zM122 957h12v13h-12zM122 946h12v13h-12zM122 934h12v13h-12zM122 922h12v13h-12zM122 910h12v13h-12zM122 898h12v13h-12zM122 886h12v13h-12zM122 875h12v13h-12zM122 863h12v13h-12zM122 851h12v13h-12zM122 839h12v13h-12zM122 827h12v13h-12zM122 815h12v13h-12zM122 804h12v13h-12zM122 792h12v13h-12zM122 744h12v13h-12zM122 733h12v13h-12zM122 721h12v13h-12zM122 709h12v13h-12zM122 697h12v13h-12zM122 685h12v13h-12zM122 674h12v13h-12zM122 662h12v13h-12zM122 650h12v13h-12zM122 638h12v13h-12zM122 626h12v13h-12zM122 614h12v13h-12zM122 603h12v13h-12zM122 591h12v13h-12zM122 579h12v13h-12zM122 567h12v13h-12zM122 555h12v13h-12zM122 543h12v13h-12zM122 532h12v13h-12zM122 520h12v13h-12zM122 508h12v13h-12zM122 496h12v13h-12zM122 484h12v13h-12zM122 472h12v13h-12zM122 461h12v13h-12zM122 449h12v13h-12zM122 437h12v13h-12zM122 425h12v13h-12zM122 413h12v13h-12zM122 401h12v13h-12zM122 390h12v13h-12zM122 378h12v13h-12zM122 366h12v13h-12zM122 354h12v13h-12zM122 342h12v13h-12zM122 330h12v13h-12zM122 319h12v13h-12zM122 307h12v13h-12zM122 295h12v13h-12zM122 283h12v13h-12zM122 271h12v13h-12zM122 259h12v13h-12zM122 248h12v13h-12zM122 236h12v13h-12zM122 224h12v13h-12zM122 212h12v13h-12zM122 200h12v13h-12zM122 188h12v13h-12zM122 177h12v13h-12zM122 165h12v13h-12zM122 153h12v13h-12zM122 141h12v13h-12zM122 129h12v13h-12zM122 117h12v13h-12zM122 106h12v13h-12zM122 94h12v13h-12zM122 82h12v13h-12zM122 70h12v13h-12zM122 58h12v13h-12zM122 46h12v13h-12zM122 35h12v13h-12zM122 23h12v13h-12zM133 957h12v13h-12zM133 946h12v13h-12zM133 934h12v13h-12zM133 922h12v13h-12zM133 910h12v13h-12zM133 898h12v13h-12zM133 886h12v13h-12zM133 875h12v13h-12zM133 863h12v13h-12zM133 851h12v13h-12zM133 839h12v13h-12zM133 827h12v13h-12zM133 815h12v13h-12zM133 804h12v13h-12zM133 721h12v13h-12zM133 709h12v13h-12zM133 697h12v13h-12zM133 685h12v13h-12zM133 674h12v13h-12zM133 662h12v13h-12zM133 650h12v13h-12zM133 638h12v13h-12zM133 626h12v13h-12zM133 614h12v13h-12zM133 603h12v13h-12zM133 591h12v13h-12zM133 579h12v13h-12zM133 567h12v13h-12zM133 555h12v13h-12zM133 543h12v13h-12zM133 532h12v13h-12zM133 520h12v13h-12zM133 508h12v13h-12zM133 496h12v13h-12zM133 484h12v13h-12zM133 472h12v13h-12zM133 461h12v13h-12zM133 449h12v13h-12zM133 437h12v13h-12zM133 425h12v13h-12zM133 413h12v13h-12zM133 401h12v13h-12zM133 390h12v13h-12zM133 378h12v13h-12zM133 366h12v13h-12zM133 354h12v13h-12zM133 342h12v13h-12zM133 330h12v13h-12zM133 319h12v13h-12zM133 307h12v13h-12zM133 295h12v13h-12zM133 283h12v13h-12zM133 271h12v13h-12zM133 259h12v13h-12zM133 248h12v13h-12zM133 236h12v13h-12zM133 224h12v13h-12zM133 212h12v13h-12zM133 200h12v13h-12zM133 188h12v13h-12zM133 177h12v13h-12zM133 165h12v13h-12zM133 153h12v13h-12zM133 141h12v13h-12zM133 129h12v13h-12zM133 117h12v13h-12zM133 106h12v13h-12zM133 94h12v13h-12zM133 82h12v13h-12zM133 70h12v13h-12zM133 58h12v13h-12zM133 46h12v13h-12zM133 35h12v13h-12zM133 23h12v13h-12zM143 957h12v13h-12zM143 946h12v13h-12zM143 934h12v13h-12zM143 922h12v13h-12zM143 910h12v13h-12zM143 898h12v13h-12zM143 886h12v13h-12zM143 875h12v13h-12zM143 863h12v13h-12zM143 851h12v13h-12zM143 839h12v13h-12zM143 827h12v13h-12zM143 815h12v13h-12zM143 709h12v13h-12zM143 697h12v13h-12zM143 685h12v13h-12zM143 674h12v13h-12zM143 662h12v13h-12zM143 650h12v13h-12zM143 638h12v13h-12zM143 626h12v13h-12zM143 614h12v13h-12zM143 603h12v13h-12zM143 591h12v13h-12zM143 579h12v13h-12zM143 567h12v13h-12zM143 555h12v13h-12zM143 543h12v13h-12zM143 532h12v13h-12zM143 520h12v13h-12zM143 508h12v13h-12zM143 496h12v13h-12zM143 484h12v13h-12zM143 472h12v13h-12zM143 461h12v13h-12zM143 449h12v13h-12zM143 437h12v13h-12zM143 425h12v13h-12zM143 413h12v13h-12zM143 401h12v13h-12zM143 390h12v13h-12zM143 378h12v13h-12zM143 366h12v13h-12zM143 354h12v13h-12zM143 342h12v13h-12zM143 330h12v13h-12zM143 319h12v13h-12zM143 307h12v13h-12zM143 295h12v13h-12zM143 283h12v13h-12zM143 271h12v13h-12zM143 259h12v13h-12zM143 248h12v13h-12zM143 236h12v13h-12zM143 224h12v13h-12zM143 212h12v13h-12zM143 200h12v13h-12zM143 188h12v13h-12zM143 177h12v13h-12zM143 165h12v13h-12zM143 153h12v13h-12zM143 141h12v13h-12zM143 129h12v13h-12zM143 117h12v13h-12zM143 106h12v13h-12zM143 94h12v13h-12zM143 82h12v13h-12zM143 70h12v13h-12zM143 58h12v13h-12zM143 46h12v13h-12zM143 35h12v13h-12zM143 23h12v13h-12zM154 957h12v13h-12zM154 946h12v13h-12zM154 934h12v13h-12zM154 922h12v13h-12zM154 910h12v13h-12zM154 898h12v13h-12zM154 886h12v13h-12zM154 875h12v13h-12zM154 863h12v13h-12zM154 851h12v13h-12zM154 839h12v13h-12zM154 827h12v13h-12zM154 815h12v13h-12zM154 697h12v13h-12zM154 685h12v13h-12zM154 674h12v13h-12zM154 662h12v13h-12zM154 650h12v13h-12zM154 638h12v13h-12zM154 626h12v13h-12zM154 614h12v13h-12zM154 603h12v13h-12zM154 591h12v13h-12zM154 579h12v13h-12zM154 567h12v13h-12zM154 555h12v13h-12zM154 543h12v13h-12zM154 532h12v13h-12zM154 520h12v13h-12zM154 508h12v13h-12zM154 496h12v13h-12zM154 484h12v13h-12zM154 472h12v13h-12zM154 461h12v13h-12zM154 449h12v13h-12zM154 437h12v13h-12zM154 425h12v13h-12zM154 413h12v13h-12zM154 401h12v13h-12zM154 390h12v13h-12zM154 378h12v13h-12zM154 366h12v13h-12zM154 354h12v13h-12zM154 342h12v13h-12zM154 330h12v13h-12zM154 319h12v13h-12zM154 307h12v13h-12zM154 295h12v13h-12zM154 283h12v13h-12zM154 271h12v13h-12zM154 259h12v13h-12zM154 248h12v13h-12zM154 236h12v13h-12zM154 224h12v13h-12zM154 212h12v13h-12zM154 200h12v13h-12zM154 188h12v13h-12zM154 177h12v13h-12zM154 165h12v13h-12zM154 153h12v13h-12zM154 141h12v13h-12zM154 129h12v13h-12zM154 117h12v13h-12zM154 106h12v13h-12zM154 94h12v13h-12zM154 82h12v13h-12zM154 70h12v13h-12zM154 58h12v13h-12zM154 46h12v13h-12zM154 35h12v13h-12zM154 23h12v13h-12zM165 957h12v13h-12zM165 946h12v13h-12zM165 934h12v13h-12zM165 922h12v13h-12zM165 910h12v13h-12zM165 898h12v13h-12zM165 886h12v13h-12zM165 875h12v13h-12zM165 863h12v13h-12zM165 851h12v13h-12zM165 839h12v13h-12zM165 827h12v13h-12zM165 685h12v13h-12zM165 674h12v13h-12zM165 662h12v13h-12zM165 650h12v13h-12zM165 638h12v13h-12zM165 626h12v13h-12zM165 614h12v13h-12zM165 603h12v13h-12zM165 591h12v13h-12zM165 579h12v13h-12zM165 567h12v13h-12zM165 555h12v13h-12zM165 543h12v13h-12zM165 532h12v13h-12zM165 520h12v13h-12zM165 508h12v13h-12zM165 496h12v13h-12zM165 484h12v13h-12zM165 472h12v13h-12zM165 461h12v13h-12zM165 449h12v13h-12zM165 437h12v13h-12zM165 425h12v13h-12zM165 413h12v13h-12zM165 401h12v13h-12zM165 390h12v13h-12zM165 378h12v13h-12zM165 366h12v13h-12zM165 354h12v13h-12zM165 342h12v13h-12zM165 330h12v13h-12zM165 319h12v13h-12zM165 307h12v13h-12zM165 295h12v13h-12zM165 283h12v13h-12zM165 271h12v13h-12zM165 259h12v13h-12zM165 248h12v13h-12zM165 236h12v13h-12zM165 224h12v13h-12zM165 212h12v13h-12zM165 200h12v13h-12zM165 188h12v13h-12zM165 177h12v13h-12zM165 165h12v13h-12zM165 153h12v13h-12zM165 141h12v13h-12zM165 129h12v13h-12zM165 117h12v13h-12zM165 106h12v13h-12zM165 94h12v13h-12zM165 82h12v13h-12zM165 70h12v13h-12zM165 58h12v13h-12zM165 46h12v13h-12zM165 35h12v13h-12zM165 23h12v13h-12zM175 957h12v13h-12zM175 946h12v13h-12zM175 934h12v13h-12zM175 922h12v13h-12zM175 910h12v13h-12zM175 898h12v13h-12zM175 886h12v13h-12zM175 875h12v13h-12zM175 863h12v13h-12zM175 851h12v13h-12zM175 839h12v13h-12zM175 827h12v13h-12zM175 674h12v13h-12zM175 662h12v13h-12zM175 650h12v13h-12zM175 638h12v13h-12zM175 626h12v13h-12zM175 614h12v13h-12zM175 603h12v13h-12zM175 591h12v13h-12zM175 579h12v13h-12zM175 567h12v13h-12zM175 555h12v13h-12zM175 543h12v13h-12zM175 532h12v13h-12zM175 520h12v13h-12zM175 413h12v13h-12zM175 401h12v13h-12zM175 390h12v13h-12zM175 378h12v13h-12zM175 366h12v13h-12zM175 354h12v13h-12zM175 342h12v13h-12zM175 330h12v13h-12zM175 319h12v13h-12zM175 307h12v13h-12zM175 295h12v13h-12zM175 283h12v13h-12zM175 271h12v13h-12zM175 259h12v13h-12zM175 248h12v13h-12zM175 236h12v13h-12zM175 224h12v13h-12zM175 212h12v13h-12zM175 200h12v13h-12zM175 188h12v13h-12zM175 177h12v13h-12zM175 165h12v13h-12zM175 153h12v13h-12zM175 141h12v13h-12zM175 129h12v13h-12zM175 117h12v13h-12zM175 106h12v13h-12zM175 94h12v13h-12zM175 82h12v13h-12zM175 70h12v13h-12zM175 58h12v13h-12zM175 46h12v13h-12zM175 35h12v13h-12zM175 23h12v13h-12zM186 957h12v13h-12zM186 946h12v13h-12zM186 934h12v13h-12zM186 922h12v13h-12zM186 910h12v13h-12zM186 898h12v13h-12zM186 886h12v13h-12zM186 875h12v13h-12zM186 863h12v13h-12zM186 851h12v13h-12zM186 839h12v13h-12zM186 674h12v13h-12zM186 662h12v13h-12zM186 650h12v13h-12zM186 638h12v13h-12zM186 626h12v13h-12zM186 614h12v13h-12zM186 603h12v13h-12zM186 591h12v13h-12zM186 579h12v13h-12zM186 567h12v13h-12zM186 555h12v13h-12zM186 390h12v13h-12zM186 378h12v13h-12zM186 366h12v13h-12zM186 354h12v13h-12zM186 342h12v13h-12zM186 330h12v13h-12zM186 319h12v13h-12zM186 307h12v13h-12zM186 295h12v13h-12zM186 283h12v13h-12zM186 271h12v13h-12zM186 259h12v13h-12zM186 248h12v13h-12zM186 236h12v13h-12zM186 224h12v13h-12zM186 212h12v13h-12zM186 200h12v13h-12zM186 188h12v13h-12zM186 177h12v13h-12zM186 165h12v13h-12zM186 153h12v13h-12zM186 141h12v13h-12zM186 129h12v13h-12zM186 117h12v13h-12zM186 106h12v13h-12zM186 94h12v13h-12zM186 82h12v13h-12zM186 70h12v13h-12zM186 58h12v13h-12zM186 46h12v13h-12zM186 35h12v13h-12zM186 23h12v13h-12zM197 957h12v13h-12zM197 946h12v13h-12zM197 934h12v13h-12zM197 922h12v13h-12zM197 910h12v13h-12zM197 898h12v13h-12zM197 886h12v13h-12zM197 875h12v13h-12zM197 863h12v13h-12zM197 851h12v13h-12zM197 839h12v13h-12zM197 662h12v13h-12zM197 650h12v13h-12zM197 638h12v13h-12zM197 626h12v13h-12zM197 614h12v13h-12zM197 603h12v13h-12zM197 591h12v13h-12zM197 579h12v13h-12zM197 567h12v13h-12zM197 378h12v13h-12zM197 366h12v13h-12zM197 354h12v13h-12zM197 342h12v13h-12zM197 330h12v13h-12zM197 319h12v13h-12zM197 307h12v13h-12zM197 295h12v13h-12zM197 283h12v13h-12zM197 271h12v13h-12zM197 259h12v13h-12zM197 248h12v13h-12zM197 236h12v13h-12zM197 224h12v13h-12zM197 212h12v13h-12zM197 200h12v13h-12zM197 188h12v13h-12zM197 177h12v13h-12zM197 165h12v13h-12zM197 153h12v13h-12zM197 141h12v13h-12zM197 129h12v13h-12zM197 117h12v13h-12zM197 106h12v13h-12zM197 94h12v13h-12zM197 82h12v13h-12zM197 70h12v13h-12zM197 58h12v13h-12zM197 46h12v13h-12zM197 35h12v13h-12zM197 23h12v13h-12zM207 957h12v13h-12zM207 946h12v13h-12zM207 934h12v13h-12zM207 922h12v13h-12zM207 910h12v13h-12zM207 898h12v13h-12zM207 886h12v13h-12zM207 875h12v13h-12zM207 863h12v13h-12zM207 851h12v13h-12zM207 662h12v13h-12zM207 650h12v13h-12zM207 638h12v13h-12zM207 626h12v13h-12zM207 614h12v13h-12zM207 603h12v13h-12zM207 591h12v13h-12zM207 579h12v13h-12zM207 378h12v13h-12zM207 366h12v13h-12zM207 354h12v13h-12zM207 342h12v13h-12zM207 330h12v13h-12zM207 319h12v13h-12zM207 307h12v13h-12zM207 295h12v13h-12zM207 283h12v13h-12zM207 271h12v13h-12zM207 259h12v13h-12zM207 248h12v13h-12zM207 236h12v13h-12zM207 224h12v13h-12zM207 212h12v13h-12zM207 200h12v13h-12zM207 188h12v13h-12zM207 177h12v13h-12zM207 165h12v13h-12zM207 153h12v13h-12zM207 141h12v13h-12zM207 129h12v13h-12zM207 117h12v13h-12zM207 106h12v13h-12zM207 94h12v13h-12zM207 82h12v13h-12zM207 70h12v13h-12zM207 58h12v13h-12zM207 46h12v13h-12zM207 35h12v13h-12zM207 23h12v13h-12zM218 934h12v13h-12zM218 922h12v13h-12zM218 910h12v13h-12zM218 898h12v13h-12zM218 886h12v13h-12zM218 875h12v13h-12zM218 863h12v13h-12zM218 662h12v13h-12zM218 650h12v13h-12zM218 638h12v13h-12zM218 626h12v13h-12zM218 614h12v13h-12zM218 603h12v13h-12zM218 378h12v13h-12zM218 366h12v13h-12zM218 354h12v13h-12zM218 342h12v13h-12zM218 330h12v13h-12zM218 319h12v13h-12zM218 307h12v13h-12zM218 295h12v13h-12zM218 283h12v13h-12zM218 271h12v13h-12zM218 259h12v13h-12zM218 248h12v13h-12zM218 236h12v13h-12zM218 224h12v13h-12zM218 212h12v13h-12zM218 200h12v13h-12zM218 188h12v13h-12zM218 177h12v13h-12zM218 165h12v13h-12zM218 153h12v13h-12zM218 141h12v13h-12zM218 129h12v13h-12zM218 117h12v13h-12zM218 106h12v13h-12zM218 94h12v13h-12zM218 82h12v13h-12zM218 70h12v13h-12zM218 58h12v13h-12zM218 46h12v13h-12zM218 35h12v13h-12zM218 23h12v13h-12zM229 886h12v13h-12zM229 650h12v13h-12zM229 638h12v13h-12zM229 626h12v13h-12zM229 614h12v13h-12zM229 603h12v13h-12zM229 366h12v13h-12zM229 354h12v13h-12zM229 342h12v13h-12zM229 330h12v13h-12zM229 319h12v13h-12zM229 307h12v13h-12zM229 295h12v13h-12zM229 283h12v13h-12zM229 271h12v13h-12zM229 259h12v13h-12zM229 248h12v13h-12zM229 236h12v13h-12zM229 224h12v13h-12zM229 212h12v13h-12zM229 200h12v13h-12zM229 188h12v13h-12zM229 177h12v13h-12zM229 165h12v13h-12zM229 153h12v13h-12zM229 141h12v13h-12zM229 129h12v13h-12zM229 117h12v13h-12zM229 106h12v13h-12zM229 94h12v13h-12zM229 82h12v13h-12zM229 70h12v13h-12zM229 58h12v13h-12zM229 46h12v13h-12zM229 35h12v13h-12zM229 23h12v13h-12zM239 650h12v13h-12zM239 638h12v13h-12zM239 626h12v13h-12zM239 614h12v13h-12zM239 366h12v13h-12zM239 354h12v13h-12zM239 319h12v13h-12zM239 307h12v13h-12zM239 295h12v13h-12zM239 283h12v13h-12zM239 271h12v13h-12zM239 259h12v13h-12zM239 248h12v13h-12zM239 236h12v13h-12zM239 224h12v13h-12zM239 212h12v13h-12zM239 200h12v13h-12zM239 188h12v13h-12zM239 177h12v13h-12zM239 165h12v13h-12zM239 153h12v13h-12zM239 141h12v13h-12zM239 129h12v13h-12zM239 117h12v13h-12zM239 106h12v13h-12zM239 94h12v13h-12zM239 82h12v13h-12zM239 70h12v13h-12zM239 58h12v13h-12zM239 46h12v13h-12zM239 35h12v13h-12zM239 23h12v13h-12zM250 650h12v13h-12zM250 638h12v13h-12zM250 626h12v13h-12zM250 366h12v13h-12zM250 307h12v13h-12zM250 295h12v13h-12zM250 283h12v13h-12zM250 271h12v13h-12zM250 259h12v13h-12zM250 248h12v13h-12zM250 236h12v13h-12zM250 224h12v13h-12zM250 212h12v13h-12zM250 200h12v13h-12zM250 188h12v13h-12zM250 177h12v13h-12zM250 165h12v13h-12zM250 153h12v13h-12zM250 141h12v13h-12zM250 129h12v13h-12zM250 117h12v13h-12zM250 106h12v13h-12zM250 94h12v13h-12zM250 82h12v13h-12zM250 70h12v13h-12zM250 58h12v13h-12zM250 46h12v13h-12zM250 35h12v13h-12zM250 23h12v13h-12zM261 662h12v13h-12zM261 650h12v13h-12zM261 638h12v13h-12zM261 366h12v13h-12zM261 307h12v13h-12zM261 295h12v13h-12zM261 283h12v13h-12zM261 271h12v13h-12zM261 259h12v13h-12zM261 248h12v13h-12zM261 236h12v13h-12zM261 224h12v13h-12zM261 212h12v13h-12zM261 200h12v13h-12zM261 188h12v13h-12zM261 177h12v13h-12zM261 165h12v13h-12zM261 153h12v13h-12zM261 141h12v13h-12zM261 129h12v13h-12zM261 117h12v13h-12zM261 106h12v13h-12zM261 94h12v13h-12zM261 82h12v13h-12zM261 70h12v13h-12zM261 58h12v13h-12zM261 46h12v13h-12zM261 35h12v13h-12zM261 23h12v13h-12zM271 662h12v13h-12zM271 650h12v13h-12zM271 638h12v13h-12zM271 366h12v13h-12zM271 307h12v13h-12zM271 295h12v13h-12zM271 283h12v13h-12zM271 271h12v13h-12zM271 259h12v13h-12zM271 248h12v13h-12zM271 236h12v13h-12zM271 224h12v13h-12zM271 212h12v13h-12zM271 200h12v13h-12zM271 188h12v13h-12zM271 177h12v13h-12zM271 165h12v13h-12zM271 153h12v13h-12zM271 141h12v13h-12zM271 129h12v13h-12zM271 117h12v13h-12zM271 106h12v13h-12zM271 94h12v13h-12zM271 82h12v13h-12zM271 70h12v13h-12zM271 58h12v13h-12zM271 46h12v13h-12zM271 35h12v13h-12zM271 23h12v13h-12zM282 662h12v13h-12zM282 650h12v13h-12zM282 366h12v13h-12zM282 354h12v13h-12zM282 342h12v13h-12zM282 330h12v13h-12zM282 319h12v13h-12zM282 307h12v13h-12zM282 295h12v13h-12zM282 283h12v13h-12zM282 271h12v13h-12zM282 259h12v13h-12zM282 248h12v13h-12zM282 236h12v13h-12zM282 224h12v13h-12zM282 212h12v13h-12zM282 200h12v13h-12zM282 188h12v13h-12zM282 177h12v13h-12zM282 165h12v13h-12zM282 153h12v13h-12zM282 141h12v13h-12zM282 129h12v13h-12zM282 117h12v13h-12zM282 106h12v13h-12zM282 94h12v13h-12zM282 82h12v13h-12zM282 70h12v13h-12zM282 58h12v13h-12zM282 46h12v13h-12zM282 35h12v13h-12zM282 23h12v13h-12zM293 674h12v13h-12zM293 662h12v13h-12zM293 650h12v13h-12zM293 354h12v13h-12zM293 342h12v13h-12zM293 330h12v13h-12zM293 319h12v13h-12zM293 307h12v13h-12zM293 295h12v13h-12zM293 283h12v13h-12zM293 271h12v13h-12zM293 259h12v13h-12zM293 248h12v13h-12zM293 236h12v13h-12zM293 224h12v13h-12zM293 212h12v13h-12zM293 200h12v13h-12zM293 188h12v13h-12zM293 177h12v13h-12zM293 165h12v13h-12zM293 153h12v13h-12zM293 141h12v13h-12zM293 129h12v13h-12zM293 117h12v13h-12zM293 106h12v13h-12zM293 94h12v13h-12zM293 82h12v13h-12zM293 70h12v13h-12zM293 58h12v13h-12zM293 46h12v13h-12zM293 35h12v13h-12zM293 23h12v13h-12zM303 685h12v13h-12zM303 674h12v13h-12zM303 662h12v13h-12zM303 319h12v13h-12zM303 307h12v13h-12zM303 295h12v13h-12zM303 283h12v13h-12zM303 271h12v13h-12zM303 259h12v13h-12zM303 248h12v13h-12zM303 236h12v13h-12zM303 224h12v13h-12zM303 212h12v13h-12zM303 200h12v13h-12zM303 188h12v13h-12zM303 177h12v13h-12zM303 165h12v13h-12zM303 153h12v13h-12zM303 141h12v13h-12zM303 129h12v13h-12zM303 117h12v13h-12zM303 106h12v13h-12zM303 94h12v13h-12zM303 82h12v13h-12zM303 70h12v13h-12zM303 58h12v13h-12zM303 46h12v13h-12zM303 35h12v13h-12zM303 23h12v13h-12zM314 709h12v13h-12zM314 697h12v13h-12zM314 685h12v13h-12zM314 674h12v13h-12zM314 295h12v13h-12zM314 283h12v13h-12zM314 271h12v13h-12zM314 259h12v13h-12zM314 248h12v13h-12zM314 236h12v13h-12zM314 224h12v13h-12zM314 212h12v13h-12zM314 200h12v13h-12zM314 188h12v13h-12zM314 177h12v13h-12zM314 165h12v13h-12zM314 153h12v13h-12zM314 141h12v13h-12zM314 129h12v13h-12zM314 117h12v13h-12zM314 106h12v13h-12zM314 94h12v13h-12zM314 82h12v13h-12zM314 70h12v13h-12zM314 58h12v13h-12zM314 46h12v13h-12zM314 35h12v13h-12zM314 23h12v13h-12zM325 733h12v13h-12zM325 721h12v13h-12zM325 709h12v13h-12zM325 283h12v13h-12zM325 271h12v13h-12zM325 259h12v13h-12zM325 248h12v13h-12zM325 236h12v13h-12zM325 224h12v13h-12zM325 212h12v13h-12zM325 200h12v13h-12zM325 188h12v13h-12zM325 177h12v13h-12zM325 165h12v13h-12zM325 153h12v13h-12zM325 141h12v13h-12zM325 129h12v13h-12zM325 117h12v13h-12zM325 106h12v13h-12zM325 94h12v13h-12zM325 82h12v13h-12zM325 70h12v13h-12zM325 58h12v13h-12zM325 46h12v13h-12zM325 35h12v13h-12zM325 23h12v13h-12zM335 756h12v13h-12zM335 744h12v13h-12zM335 271h12v13h-12zM335 259h12v13h-12zM335 248h12v13h-12zM335 236h12v13h-12zM335 224h12v13h-12zM335 212h12v13h-12zM335 200h12v13h-12zM335 188h12v13h-12zM335 177h12v13h-12zM335 165h12v13h-12zM335 153h12v13h-12zM335 141h12v13h-12zM335 129h12v13h-12zM335 117h12v13h-12zM335 106h12v13h-12zM335 94h12v13h-12zM335 82h12v13h-12zM335 70h12v13h-12zM335 58h12v13h-12zM335 46h12v13h-12zM335 35h12v13h-12zM335 23h12v13h-12zM346 768h12v13h-12zM346 756h12v13h-12zM346 271h12v13h-12zM346 259h12v13h-12zM346 248h12v13h-12zM346 236h12v13h-12zM346 224h12v13h-12zM346 212h12v13h-12zM346 200h12v13h-12zM346 188h12v13h-12zM346 177h12v13h-12zM346 165h12v13h-12zM346 153h12v13h-12zM346 141h12v13h-12zM346 129h12v13h-12zM346 117h12v13h-12zM346 106h12v13h-12zM346 94h12v13h-12zM346 82h12v13h-12zM346 70h12v13h-12zM346 58h12v13h-12zM346 46h12v13h-12zM346 35h12v13h-12zM346 23h12v13h-12zM357 768h12v13h-12zM357 271h12v13h-12zM357 259h12v13h-12zM357 248h12v13h-12zM357 236h12v13h-12zM357 224h12v13h-12zM357 212h12v13h-12zM357 200h12v13h-12zM357 188h12v13h-12zM357 177h12v13h-12zM357 165h12v13h-12zM357 153h12v13h-12zM357 141h12v13h-12zM357 129h12v13h-12zM357 117h12v13h-12zM357 106h12v13h-12zM357 94h12v13h-12zM357 82h12v13h-12zM357 70h12v13h-12zM357 58h12v13h-12zM357 46h12v13h-12zM357 35h12v13h-12zM357 23h12v13h-12zM367 780h12v13h-12zM367 271h12v13h-12zM367 259h12v13h-12zM367 248h12v13h-12zM367 236h12v13h-12zM367 224h12v13h-12zM367 212h12v13h-12zM367 200h12v13h-12zM367 188h12v13h-12zM367 177h12v13h-12zM367 165h12v13h-12zM367 153h12v13h-12zM367 141h12v13h-12zM367 129h12v13h-12zM367 117h12v13h-12zM367 106h12v13h-12zM367 94h12v13h-12zM367 82h12v13h-12zM367 70h12v13h-12zM367 58h12v13h-12zM367 46h12v13h-12zM367 35h12v13h-12zM367 23h12v13h-12zM378 780h12v13h-12zM378 271h12v13h-12zM378 259h12v13h-12zM378 248h12v13h-12zM378 236h12v13h-12zM378 224h12v13h-12zM378 212h12v13h-12zM378 200h12v13h-12zM378 188h12v13h-12zM378 177h12v13h-12zM378 165h12v13h-12zM378 153h12v13h-12zM378 141h12v13h-12zM378 129h12v13h-12zM378 117h12v13h-12zM378 106h12v13h-12zM378 94h12v13h-12zM378 82h12v13h-12zM378 70h12v13h-12zM378 58h12v13h-12zM378 46h12v13h-12zM378 35h12v13h-12zM378 23h12v13h-12zM389 780h12v13h-12zM389 271h12v13h-12zM389 259h12v13h-12zM389 248h12v13h-12zM389 236h12v13h-12zM389 224h12v13h-12zM389 212h12v13h-12zM389 200h12v13h-12zM389 188h12v13h-12zM389 177h12v13h-12zM389 165h12v13h-12zM389 153h12v13h-12zM389 141h12v13h-12zM389 129h12v13h-12zM389 117h12v13h-12zM389 106h12v13h-12zM389 94h12v13h-12zM389 82h12v13h-12zM389 70h12v13h-12zM389 58h12v13h-12zM389 46h12v13h-12zM389 35h12v13h-12zM389 23h12v13h-12zM399 780h12v13h-12zM399 271h12v13h-12zM399 259h12v13h-12zM399 248h12v13h-12zM399 236h12v13h-12zM399 224h12v13h-12zM399 212h12v13h-12zM399 200h12v13h-12zM399 188h12v13h-12zM399 177h12v13h-12zM399 165h12v13h-12zM399 153h12v13h-12zM399 141h12v13h-12zM399 129h12v13h-12zM399 117h12v13h-12zM399 106h12v13h-12zM399 94h12v13h-12zM399 82h12v13h-12zM399 70h12v13h-12zM399 58h12v13h-12zM399 46h12v13h-12zM399 35h12v13h-12zM399 23h12v13h-12zM410 792h12v13h-12zM410 271h12v13h-12zM410 259h12v13h-12zM410 248h12v13h-12zM410 236h12v13h-12zM410 224h12v13h-12zM410 212h12v13h-12zM410 200h12v13h-12zM410 188h12v13h-12zM410 177h12v13h-12zM410 165h12v13h-12zM410 153h12v13h-12zM410 141h12v13h-12zM410 129h12v13h-12zM410 117h12v13h-12zM410 106h12v13h-12zM410 94h12v13h-12zM410 82h12v13h-12zM410 70h12v13h-12zM410 58h12v13h-12zM410 46h12v13h-12zM410 35h12v13h-12zM410 23h12v13h-12zM421 792h12v13h-12zM421 283h12v13h-12zM421 271h12v13h-12zM421 259h12v13h-12zM421 248h12v13h-12zM421 236h12v13h-12zM421 224h12v13h-12zM421 212h12v13h-12zM421 200h12v13h-12zM421 188h12v13h-12zM421 177h12v13h-12zM421 165h12v13h-12zM421 153h12v13h-12zM421 141h12v13h-12zM421 129h12v13h-12zM421 117h12v13h-12zM421 106h12v13h-12zM421 94h12v13h-12zM421 82h12v13h-12zM421 70h12v13h-12zM421 58h12v13h-12zM421 46h12v13h-12zM421 35h12v13h-12zM421 23h12v13h-12zM431 792h12v13h-12zM431 283h12v13h-12zM431 271h12v13h-12zM431 259h12v13h-12zM431 248h12v13h-12zM431 236h12v13h-12zM431 224h12v13h-12zM431 212h12v13h-12zM431 200h12v13h-12zM431 188h12v13h-12zM431 177h12v13h-12zM431 165h12v13h-12zM431 153h12v13h-12zM431 141h12v13h-12zM431 129h12v13h-12zM431 117h12v13h-12zM431 106h12v13h-12zM431 94h12v13h-12zM431 82h12v13h-12zM431 70h12v13h-12zM431 58h12v13h-12zM431 46h12v13h-12zM431 35h12v13h-12zM431 23h12v13h-12zM442 804h12v13h-12zM442 792h12v13h-12zM442 271h12v13h-12zM442 259h12v13h-12zM442 248h12v13h-12zM442 236h12v13h-12zM442 224h12v13h-12zM442 212h12v13h-12zM442 200h12v13h-12zM442 188h12v13h-12zM442 177h12v13h-12zM442 165h12v13h-12zM442 153h12v13h-12zM442 141h12v13h-12zM442 129h12v13h-12zM442 117h12v13h-12zM442 106h12v13h-12zM442 94h12v13h-12zM442 82h12v13h-12zM442 70h12v13h-12zM442 58h12v13h-12zM442 46h12v13h-12zM442 35h12v13h-12zM442 23h12v13h-12zM453 804h12v13h-12zM453 271h12v13h-12zM453 259h12v13h-12zM453 248h12v13h-12zM453 236h12v13h-12zM453 224h12v13h-12zM453 212h12v13h-12zM453 200h12v13h-12zM453 188h12v13h-12zM453 177h12v13h-12zM453 165h12v13h-12zM453 153h12v13h-12zM453 141h12v13h-12zM453 129h12v13h-12zM453 117h12v13h-12zM453 106h12v13h-12zM453 94h12v13h-12zM453 82h12v13h-12zM453 70h12v13h-12zM453 58h12v13h-12zM453 46h12v13h-12zM453 35h12v13h-12zM453 23h12v13h-12zM463 815h12v13h-12zM463 804h12v13h-12zM463 271h12v13h-12zM463 259h12v13h-12zM463 248h12v13h-12zM463 236h12v13h-12zM463 224h12v13h-12zM463 212h12v13h-12zM463 200h12v13h-12zM463 188h12v13h-12zM463 177h12v13h-12zM463 165h12v13h-12zM463 153h12v13h-12zM463 141h12v13h-12zM463 129h12v13h-12zM463 117h12v13h-12zM463 106h12v13h-12zM463 94h12v13h-12zM463 82h12v13h-12zM463 70h12v13h-12zM463 58h12v13h-12zM463 46h12v13h-12zM463 35h12v13h-12zM463 23h12v13h-12zM474 957h12v13h-12zM474 815h12v13h-12zM474 804h12v13h-12zM474 259h12v13h-12zM474 248h12v13h-12zM474 236h12v13h-12zM474 224h12v13h-12zM474 212h12v13h-12zM474 200h12v13h-12zM474 188h12v13h-12zM474 177h12v13h-12zM474 165h12v13h-12zM474 153h12v13h-12zM474 141h12v13h-12zM474 129h12v13h-12zM474 117h12v13h-12zM474 106h12v13h-12zM474 94h12v13h-12zM474 82h12v13h-12zM474 70h12v13h-12zM474 58h12v13h-12zM474 46h12v13h-12zM474 35h12v13h-12zM474 23h12v13h-12zM485 957h12v13h-12zM485 946h12v13h-12zM485 827h12v13h-12zM485 815h12v13h-12zM485 804h12v13h-12zM485 248h12v13h-12zM485 236h12v13h-12zM485 224h12v13h-12zM485 212h12v13h-12zM485 200h12v13h-12zM485 188h12v13h-12zM485 177h12v13h-12zM485 165h12v13h-12zM485 153h12v13h-12zM485 141h12v13h-12zM485 129h12v13h-12zM485 117h12v13h-12zM485 106h12v13h-12zM485 94h12v13h-12zM485 82h12v13h-12zM485 70h12v13h-12zM485 58h12v13h-12zM485 46h12v13h-12zM485 35h12v13h-12zM485 23h12v13h-12zM495 957h12v13h-12zM495 946h12v13h-12zM495 934h12v13h-12zM495 827h12v13h-12zM495 815h12v13h-12zM495 804h12v13h-12zM495 248h12v13h-12zM495 236h12v13h-12zM495 224h12v13h-12zM495 212h12v13h-12zM495 200h12v13h-12zM495 188h12v13h-12zM495 177h12v13h-12zM495 165h12v13h-12zM495 153h12v13h-12zM495 141h12v13h-12zM495 129h12v13h-12zM495 117h12v13h-12zM495 106h12v13h-12zM495 94h12v13h-12zM495 82h12v13h-12zM495 70h12v13h-12zM495 58h12v13h-12zM495 46h12v13h-12zM495 35h12v13h-12zM495 23h12v13h-12zM506 957h12v13h-12zM506 946h12v13h-12zM506 934h12v13h-12zM506 922h12v13h-12zM506 839h12v13h-12zM506 827h12v13h-12zM506 815h12v13h-12zM506 804h12v13h-12zM506 248h12v13h-12zM506 236h12v13h-12zM506 224h12v13h-12zM506 212h12v13h-12zM506 200h12v13h-12zM506 188h12v13h-12zM506 177h12v13h-12zM506 165h12v13h-12zM506 153h12v13h-12zM506 141h12v13h-12zM506 129h12v13h-12zM506 117h12v13h-12zM506 106h12v13h-12zM506 94h12v13h-12zM506 82h12v13h-12zM506 70h12v13h-12zM506 58h12v13h-12zM506 46h12v13h-12zM506 35h12v13h-12zM506 23h12v13h-12zM517 957h12v13h-12zM517 946h12v13h-12zM517 934h12v13h-12zM517 922h12v13h-12zM517 910h12v13h-12zM517 898h12v13h-12zM517 851h12v13h-12zM517 839h12v13h-12zM517 827h12v13h-12zM517 815h12v13h-12zM517 804h12v13h-12zM517 236h12v13h-12zM517 224h12v13h-12zM517 212h12v13h-12zM517 200h12v13h-12zM517 188h12v13h-12zM517 177h12v13h-12zM517 165h12v13h-12zM517 153h12v13h-12zM517 141h12v13h-12zM517 129h12v13h-12zM517 117h12v13h-12zM517 106h12v13h-12zM517 94h12v13h-12zM517 82h12v13h-12zM517 70h12v13h-12zM517 58h12v13h-12zM517 46h12v13h-12zM517 35h12v13h-12zM517 23h12v13h-12zM527 957h12v13h-12zM527 946h12v13h-12zM527 934h12v13h-12zM527 922h12v13h-12zM527 910h12v13h-12zM527 898h12v13h-12zM527 886h12v13h-12zM527 875h12v13h-12zM527 863h12v13h-12zM527 851h12v13h-12zM527 839h12v13h-12zM527 827h12v13h-12zM527 815h12v13h-12zM527 804h12v13h-12zM527 792h12v13h-12zM527 236h12v13h-12zM527 224h12v13h-12zM527 212h12v13h-12zM527 200h12v13h-12zM527 188h12v13h-12zM527 177h12v13h-12zM527 165h12v13h-12zM527 153h12v13h-12zM527 141h12v13h-12zM527 129h12v13h-12zM527 117h12v13h-12zM527 106h12v13h-12zM527 94h12v13h-12zM527 82h12v13h-12zM527 70h12v13h-12zM527 58h12v13h-12zM527 46h12v13h-12zM527 35h12v13h-12zM527 23h12v13h-12zM538 957h12v13h-12zM538 946h12v13h-12zM538 934h12v13h-12zM538 922h12v13h-12zM538 910h12v13h-12zM538 898h12v13h-12zM538 886h12v13h-12zM538 875h12v13h-12zM538 863h12v13h-12zM538 851h12v13h-12zM538 839h12v13h-12zM538 827h12v13h-12zM538 815h12v13h-12zM538 804h12v13h-12zM538 792h12v13h-12zM538 780h12v13h-12zM538 224h12v13h-12zM538 212h12v13h-12zM538 200h12v13h-12zM538 188h12v13h-12zM538 177h12v13h-12zM538 165h12v13h-12zM538 153h12v13h-12zM538 141h12v13h-12zM538 129h12v13h-12zM538 117h12v13h-12zM538 106h12v13h-12zM538 94h12v13h-12zM538 82h12v13h-12zM538 70h12v13h-12zM538 58h12v13h-12zM538 46h12v13h-12zM538 35h12v13h-12zM538 23h12v13h-12zM549 957h12v13h-12zM549 946h12v13h-12zM549 934h12v13h-12zM549 922h12v13h-12zM549 910h12v13h-12zM549 898h12v13h-12zM549 886h12v13h-12zM549 875h12v13h-12zM549 863h12v13h-12zM549 851h12v13h-12zM549 839h12v13h-12zM549 827h12v13h-12zM549 815h12v13h-12zM549 804h12v13h-12zM549 792h12v13h-12zM549 780h12v13h-12zM549 768h12v13h-12zM549 224h12v13h-12zM549 212h12v13h-12zM549 200h12v13h-12zM549 188h12v13h-12zM549 177h12v13h-12zM549 165h12v13h-12zM549 153h12v13h-12zM549 141h12v13h-12zM549 129h12v13h-12zM549 117h12v13h-12zM549 106h12v13h-12zM549 94h12v13h-12zM549 82h12v13h-12zM549 70h12v13h-12zM549 58h12v13h-12zM549 46h12v13h-12zM549 35h12v13h-12zM549 23h12v13h-12zM559 957h12v13h-12zM559 946h12v13h-12zM559 934h12v13h-12zM559 922h12v13h-12zM559 910h12v13h-12zM559 898h12v13h-12zM559 886h12v13h-12zM559 875h12v13h-12zM559 863h12v13h-12zM559 851h12v13h-12zM559 839h12v13h-12zM559 827h12v13h-12zM559 815h12v13h-12zM559 804h12v13h-12zM559 792h12v13h-12zM559 780h12v13h-12zM559 768h12v13h-12zM559 756h12v13h-12zM559 224h12v13h-12zM559 212h12v13h-12zM559 200h12v13h-12zM559 188h12v13h-12zM559 177h12v13h-12zM559 165h12v13h-12zM559 153h12v13h-12zM559 141h12v13h-12zM559 129h12v13h-12zM559 117h12v13h-12zM559 106h12v13h-12zM559 94h12v13h-12zM559 82h12v13h-12zM559 70h12v13h-12zM559 58h12v13h-12zM559 46h12v13h-12zM559 35h12v13h-12zM559 23h12v13h-12zM570 957h12v13h-12zM570 946h12v13h-12zM570 934h12v13h-12zM570 922h12v13h-12zM570 910h12v13h-12zM570 898h12v13h-12zM570 886h12v13h-12zM570 875h12v13h-12zM570 863h12v13h-12zM570 851h12v13h-12zM570 839h12v13h-12zM570 827h12v13h-12zM570 815h12v13h-12zM570 804h12v13h-12zM570 792h12v13h-12zM570 780h12v13h-12zM570 768h12v13h-12zM570 756h12v13h-12zM570 744h12v13h-12zM570 224h12v13h-12zM570 212h12v13h-12zM570 200h12v13h-12zM570 188h12v13h-12zM570 177h12v13h-12zM570 165h12v13h-12zM570 153h12v13h-12zM570 141h12v13h-12zM570 129h12v13h-12zM570 117h12v13h-12zM570 106h12v13h-12zM570 94h12v13h-12zM570 82h12v13h-12zM570 70h12v13h-12zM570 58h12v13h-12zM570 46h12v13h-12zM570 35h12v13h-12zM570 23h12v13h-12zM581 957h12v13h-12zM581 946h12v13h-12zM581 934h12v13h-12zM581 922h12v13h-12zM581 910h12v13h-12zM581 898h12v13h-12zM581 886h12v13h-12zM581 875h12v13h-12zM581 863h12v13h-12zM581 851h12v13h-12zM581 839h12v13h-12zM581 827h12v13h-12zM581 815h12v13h-12zM581 804h12v13h-12zM581 792h12v13h-12zM581 780h12v13h-12zM581 768h12v13h-12zM581 756h12v13h-12zM581 744h12v13h-12zM581 224h12v13h-12zM581 212h12v13h-12zM581 200h12v13h-12zM581 188h12v13h-12zM581 177h12v13h-12zM581 165h12v13h-12zM581 153h12v13h-12zM581 141h12v13h-12zM581 129h12v13h-12zM581 117h12v13h-12zM581 106h12v13h-12zM581 94h12v13h-12zM581 82h12v13h-12zM581 70h12v13h-12zM581 58h12v13h-12zM581 46h12v13h-12zM581 35h12v13h-12zM581 23h12v13h-12zM591 957h12v13h-12zM591 946h12v13h-12zM591 934h12v13h-12zM591 922h12v13h-12zM591 910h12v13h-12zM591 898h12v13h-12zM591 886h12v13h-12zM591 875h12v13h-12zM591 863h12v13h-12zM591 851h12v13h-12zM591 839h12v13h-12zM591 827h12v13h-12zM591 815h12v13h-12zM591 804h12v13h-12zM591 792h12v13h-12zM591 780h12v13h-12zM591 768h12v13h-12zM591 756h12v13h-12zM591 744h12v13h-12zM591 224h12v13h-12zM591 212h12v13h-12zM591 200h12v13h-12zM591 188h12v13h-12zM591 177h12v13h-12zM591 165h12v13h-12zM591 153h12v13h-12zM591 141h12v13h-12zM591 129h12v13h-12zM591 117h12v13h-12zM591 106h12v13h-12zM591 94h12v13h-12zM591 82h12v13h-12zM591 70h12v13h-12zM591 58h12v13h-12zM591 46h12v13h-12zM591 35h12v13h-12zM591 23h12v13h-12zM602 957h12v13h-12zM602 946h12v13h-12zM602 934h12v13h-12zM602 922h12v13h-12zM602 910h12v13h-12zM602 898h12v13h-12zM602 886h12v13h-12zM602 875h12v13h-12zM602 863h12v13h-12zM602 851h12v13h-12zM602 839h12v13h-12zM602 827h12v13h-12zM602 815h12v13h-12zM602 804h12v13h-12zM602 792h12v13h-12zM602 780h12v13h-12zM602 768h12v13h-12zM602 756h12v13h-12zM602 224h12v13h-12zM602 212h12v13h-12zM602 200h12v13h-12zM602 188h12v13h-12zM602 177h12v13h-12zM602 165h12v13h-12zM602 153h12v13h-12zM602 141h12v13h-12zM602 129h12v13h-12zM602 117h12v13h-12zM602 106h12v13h-12zM602 94h12v13h-12zM602 82h12v13h-12zM602 70h12v13h-12zM602 58h12v13h-12zM602 46h12v13h-12zM602 35h12v13h-12zM602 23h12v13h-12zM613 957h12v13h-12zM613 946h12v13h-12zM613 934h12v13h-12zM613 922h12v13h-12zM613 910h12v13h-12zM613 898h12v13h-12zM613 886h12v13h-12zM613 875h12v13h-12zM613 863h12v13h-12zM613 851h12v13h-12zM613 839h12v13h-12zM613 827h12v13h-12zM613 815h12v13h-12zM613 804h12v13h-12zM613 792h12v13h-12zM613 780h12v13h-12zM613 768h12v13h-12zM613 224h12v13h-12zM613 212h12v13h-12zM613 200h12v13h-12zM613 188h12v13h-12zM613 177h12v13h-12zM613 165h12v13h-12zM613 153h12v13h-12zM613 141h12v13h-12zM613 129h12v13h-12zM613 117h12v13h-12zM613 106h12v13h-12zM613 94h12v13h-12zM613 82h12v13h-12zM613 70h12v13h-12zM613 58h12v13h-12zM613 46h12v13h-12zM613 35h12v13h-12zM613 23h12v13h-12zM623 957h12v13h-12zM623 946h12v13h-12zM623 934h12v13h-12zM623 922h12v13h-12zM623 910h12v13h-12zM623 898h12v13h-12zM623 886h12v13h-12zM623 875h12v13h-12zM623 863h12v13h-12zM623 851h12v13h-12zM623 839h12v13h-12zM623 827h12v13h-12zM623 815h12v13h-12zM623 804h12v13h-12zM623 792h12v13h-12zM623 780h12v13h-12zM623 768h12v13h-12zM623 224h12v13h-12zM623 212h12v13h-12zM623 200h12v13h-12zM623 188h12v13h-12zM623 177h12v13h-12zM623 165h12v13h-12zM623 153h12v13h-12zM623 141h12v13h-12zM623 129h12v13h-12zM623 117h12v13h-12zM623 106h12v13h-12zM623 94h12v13h-12zM623 82h12v13h-12zM623 70h12v13h-12zM623 58h12v13h-12zM623 46h12v13h-12zM623 35h12v13h-12zM623 23h12v13h-12zM634 957h12v13h-12zM634 946h12v13h-12zM634 934h12v13h-12zM634 922h12v13h-12zM634 910h12v13h-12zM634 898h12v13h-12zM634 886h12v13h-12zM634 875h12v13h-12zM634 863h12v13h-12zM634 851h12v13h-12zM634 839h12v13h-12zM634 827h12v13h-12zM634 815h12v13h-12zM634 804h12v13h-12zM634 792h12v13h-12zM634 780h12v13h-12zM634 224h12v13h-12zM634 212h12v13h-12zM634 200h12v13h-12zM634 188h12v13h-12zM634 177h12v13h-12zM634 165h12v13h-12zM634 153h12v13h-12zM634 141h12v13h-12zM634 129h12v13h-12zM634 117h12v13h-12zM634 106h12v13h-12zM634 94h12v13h-12zM634 82h12v13h-12zM634 70h12v13h-12zM634 58h12v13h-12zM634 46h12v13h-12zM634 35h12v13h-12zM634 23h12v13h-12zM645 957h12v13h-12zM645 946h12v13h-12zM645 934h12v13h-12zM645 922h12v13h-12zM645 910h12v13h-12zM645 898h12v13h-12zM645 886h12v13h-12zM645 875h12v13h-12zM645 863h12v13h-12zM645 851h12v13h-12zM645 839h12v13h-12zM645 827h12v13h-12zM645 815h12v13h-12zM645 804h12v13h-12zM645 792h12v13h-12zM645 224h12v13h-12zM645 212h12v13h-12zM645 200h12v13h-12zM645 188h12v13h-12zM645 177h12v13h-12zM645 165h12v13h-12zM645 153h12v13h-12zM645 141h12v13h-12zM645 129h12v13h-12zM645 117h12v13h-12zM645 106h12v13h-12zM645 94h12v13h-12zM645 82h12v13h-12zM645 70h12v13h-12zM645 58h12v13h-12zM645 46h12v13h-12zM645 35h12v13h-12zM645 23h12v13h-12zM655 957h12v13h-12zM655 946h12v13h-12zM655 934h12v13h-12zM655 922h12v13h-12zM655 910h12v13h-12zM655 898h12v13h-12zM655 886h12v13h-12zM655 875h12v13h-12zM655 863h12v13h-12zM655 851h12v13h-12zM655 839h12v13h-12zM655 827h12v13h-12zM655 815h12v13h-12zM655 804h12v13h-12zM655 792h12v13h-12zM655 224h12v13h-12zM655 212h12v13h-12zM655 200h12v13h-12zM655 188h12v13h-12zM655 177h12v13h-12zM655 165h12v13h-12zM655 153h12v13h-12zM655 141h12v13h-12zM655 129h12v13h-12zM655 117h12v13h-12zM655 106h12v13h-12zM655 94h12v13h-12zM655 82h12v13h-12zM655 70h12v13h-12zM655 58h12v13h-12zM655 46h12v13h-12zM655 35h12v13h-12zM655 23h12v13h-12zM666 957h12v13h-12zM666 946h12v13h-12zM666 934h12v13h-12zM666 922h12v13h-12zM666 910h12v13h-12zM666 898h12v13h-12zM666 886h12v13h-12zM666 875h12v13h-12zM666 863h12v13h-12zM666 851h12v13h-12zM666 839h12v13h-12zM666 827h12v13h-12zM666 815h12v13h-12zM666 804h12v13h-12zM666 792h12v13h-12zM666 224h12v13h-12zM666 212h12v13h-12zM666 200h12v13h-12zM666 188h12v13h-12zM666 177h12v13h-12zM666 165h12v13h-12zM666 70h12v13h-12zM666 58h12v13h-12zM666 46h12v13h-12zM666 35h12v13h-12zM666 23h12v13h-12zM677 957h12v13h-12zM677 946h12v13h-12zM677 934h12v13h-12zM677 922h12v13h-12zM677 910h12v13h-12zM677 898h12v13h-12zM677 886h12v13h-12zM677 875h12v13h-12zM677 863h12v13h-12zM677 851h12v13h-12zM677 839h12v13h-12zM677 827h12v13h-12zM677 815h12v13h-12zM677 804h12v13h-12zM677 792h12v13h-12zM677 212h12v13h-12zM677 200h12v13h-12zM677 188h12v13h-12zM677 46h12v13h-12zM677 35h12v13h-12zM677 23h12v13h-12zM687 957h12v13h-12zM687 946h12v13h-12zM687 934h12v13h-12zM687 922h12v13h-12zM687 910h12v13h-12zM687 898h12v13h-12zM687 886h12v13h-12zM687 875h12v13h-12zM687 863h12v13h-12zM687 851h12v13h-12zM687 839h12v13h-12zM687 827h12v13h-12zM687 815h12v13h-12zM687 804h12v13h-12zM687 35h12v13h-12zM687 23h12v13h-12zM698 957h12v13h-12zM698 946h12v13h-12zM698 934h12v13h-12zM698 922h12v13h-12zM698 910h12v13h-12zM698 898h12v13h-12zM698 886h12v13h-12zM698 875h12v13h-12zM698 863h12v13h-12zM698 851h12v13h-12zM698 839h12v13h-12zM698 827h12v13h-12zM698 815h12v13h-12zM698 804h12v13h-12zM698 23h12v13h-12zM709 957h12v13h-12zM709 946h12v13h-12zM709 934h12v13h-12zM709 922h12v13h-12zM709 910h12v13h-12zM709 898h12v13h-12zM709 886h12v13h-12zM709 875h12v13h-12zM709 863h12v13h-12zM709 851h12v13h-12zM709 839h12v13h-12zM709 827h12v13h-12zM709 815h12v13h-12zM709 804h12v13h-12zM719 957h12v13h-12zM719 946h12v13h-12zM719 934h12v13h-12zM719 922h12v13h-12zM719 910h12v13h-12zM719 898h12v13h-12zM719 886h12v13h-12zM719 875h12v13h-12zM719 863h12v13h-12zM719 851h12v13h-12zM719 839h12v13h-12zM719 827h12v13h-12zM719 815h12v13h-12zM719 804h12v13h-12zM730 957h12v13h-12zM730 946h12v13h-12zM730 934h12v13h-12zM730 922h12v13h-12zM730 910h12v13h-12zM730 898h12v13h-12zM730 886h12v13h-12zM730 875h12v13h-12zM730 863h12v13h-12zM730 851h12v13h-12zM730 839h12v13h-12zM730 827h12v13h-12zM730 815h12v13h-12zM730 804h12v13h-12zM741 957h12v13h-12zM741 946h12v13h-12zM741 934h12v13h-12zM741 922h12v13h-12zM741 910h12v13h-12zM741 898h12v13h-12zM741 886h12v13h-12zM741 875h12v13h-12zM741 863h12v13h-12zM741 851h12v13h-12zM741 839h12v13h-12zM741 827h12v13h-12zM741 815h12v13h-12zM751 957h12v13h-12zM751 946h12v13h-12zM751 934h12v13h-12zM751 922h12v13h-12zM751 910h12v13h-12zM751 898h12v13h-12zM751 886h12v13h-12zM751 875h12v13h-12zM751 863h12v13h-12zM751 851h12v13h-12zM751 839h12v13h-12zM751 827h12v13h-12zM751 815h12v13h-12zM762 957h12v13h-12zM762 946h12v13h-12zM762 934h12v13h-12zM762 922h12v13h-12zM762 910h12v13h-12zM762 898h12v13h-12zM762 886h12v13h-12zM762 875h12v13h-12zM762 863h12v13h-12zM762 851h12v13h-12zM762 839h12v13h-12zM762 827h12v13h-12zM773 957h12v13h-12zM773 946h12v13h-12zM773 934h12v13h-12zM773 922h12v13h-12zM773 910h12v13h-12zM773 898h12v13h-12zM773 886h12v13h-12zM773 875h12v13h-12zM773 863h12v13h-12zM773 851h12v13h-12zM773 839h12v13h-12zM773 827h12v13h-12zM783 957h12v13h-12zM783 946h12v13h-12zM783 934h12v13h-12zM783 922h12v13h-12zM783 910h12v13h-12zM783 898h12v13h-12zM783 886h12v13h-12zM783 875h12v13h-12zM783 863h12v13h-12zM783 851h12v13h-12zM783 839h12v13h-12zM783 827h12v13h-12zM794 957h12v13h-12zM794 946h12v13h-12zM794 934h12v13h-12zM794 922h12v13h-12zM794 910h12v13h-12zM794 898h12v13h-12zM794 886h12v13h-12zM794 875h12v13h-12zM794 863h12v13h-12zM794 851h12v13h-12zM794 839h12v13h-12zM794 827h12v13h-12zM805 957h12v13h-12zM805 946h12v13h-12zM805 934h12v13h-12zM805 922h12v13h-12zM805 910h12v13h-12zM805 898h12v13h-12zM805 886h12v13h-12zM805 875h12v13h-12zM805 863h12v13h-12zM805 851h12v13h-12zM805 839h12v13h-12zM805 827h12v13h-12zM815 957h12v13h-12zM815 946h12v13h-12zM815 934h12v13h-12zM815 922h12v13h-12zM815 910h12v13h-12zM815 898h12v13h-12zM815 886h12v13h-12zM815 875h12v13h-12zM815 863h12v13h-12zM815 851h12v13h-12zM815 839h12v13h-12zM815 827h12v13h-12zM815 188h12v13h-12zM815 117h12v13h-12zM826 957h12v13h-12zM826 946h12v13h-12zM826 934h12v13h-12zM826 922h12v13h-12zM826 910h12v13h-12zM826 898h12v13h-12zM826 886h12v13h-12zM826 875h12v13h-12zM826 863h12v13h-12zM826 851h12v13h-12zM826 839h12v13h-12zM826 827h12v13h-12zM826 248h12v13h-12zM826 58h12v13h-12zM826 46h12v13h-12zM826 35h12v13h-12zM826 23h12v13h-12zM837 957h12v13h-12zM837 946h12v13h-12zM837 934h12v13h-12zM837 922h12v13h-12zM837 910h12v13h-12zM837 898h12v13h-12zM837 886h12v13h-12zM837 875h12v13h-12zM837 863h12v13h-12zM837 851h12v13h-12zM837 839h12v13h-12zM837 827h12v13h-12zM837 815h12v13h-12zM837 259h12v13h-12zM847 957h12v13h-12zM847 946h12v13h-12zM847 934h12v13h-12zM847 922h12v13h-12zM847 910h12v13h-12zM847 898h12v13h-12zM847 886h12v13h-12zM847 875h12v13h-12zM847 863h12v13h-12zM847 851h12v13h-12zM847 839h12v13h-12zM847 827h12v13h-12zM847 815h12v13h-12zM858 957h12v13h-12zM858 946h12v13h-12zM858 934h12v13h-12zM858 922h12v13h-12zM858 910h12v13h-12zM858 898h12v13h-12zM858 886h12v13h-12zM858 875h12v13h-12zM858 863h12v13h-12zM858 851h12v13h-12zM858 839h12v13h-12zM858 827h12v13h-12zM858 815h12v13h-12zM869 957h12v13h-12zM869 946h12v13h-12zM869 934h12v13h-12zM869 922h12v13h-12zM869 910h12v13h-12zM869 898h12v13h-12zM869 886h12v13h-12zM869 875h12v13h-12zM869 863h12v13h-12zM869 851h12v13h-12zM869 839h12v13h-12zM869 827h12v13h-12zM869 815h12v13h-12zM869 804h12v13h-12zM879 957h12v13h-12zM879 946h12v13h-12zM879 934h12v13h-12zM879 922h12v13h-12zM879 910h12v13h-12zM879 898h12v13h-12zM879 886h12v13h-12zM879 875h12v13h-12zM879 863h12v13h-12zM879 851h12v13h-12zM879 839h12v13h-12zM879 827h12v13h-12zM879 815h12v13h-12zM879 804h12v13h-12zM879 259h12v13h-12zM890 957h12v13h-12zM890 946h12v13h-12zM890 934h12v13h-12zM890 922h12v13h-12zM890 910h12v13h-12zM890 898h12v13h-12zM890 886h12v13h-12zM890 875h12v13h-12zM890 815h12v13h-12zM890 804h12v13h-12zM890 792h12v13h-12zM890 259h12v13h-12zM901 957h12v13h-12zM901 946h12v13h-12zM901 934h12v13h-12zM901 922h12v13h-12zM901 910h12v13h-12zM901 898h12v13h-12zM901 886h12v13h-12zM901 804h12v13h-12zM901 792h12v13h-12zM911 957h12v13h-12zM911 946h12v13h-12zM911 934h12v13h-12zM911 922h12v13h-12zM911 910h12v13h-12zM911 898h12v13h-12zM911 886h12v13h-12zM911 804h12v13h-12zM911 792h12v13h-12zM922 957h12v13h-12zM922 946h12v13h-12zM922 934h12v13h-12zM922 922h12v13h-12zM922 910h12v13h-12zM922 898h12v13h-12zM922 886h12v13h-12zM922 804h12v13h-12zM922 792h12v13h-12zM933 957h12v13h-12zM933 946h12v13h-12zM933 934h12v13h-12zM933 922h12v13h-12zM933 910h12v13h-12zM933 898h12v13h-12zM933 886h12v13h-12zM933 804h12v13h-12zM933 792h12v13h-12zM933 780h12v13h-12zM933 248h12v13h-12zM943 957h12v13h-12zM943 946h12v13h-12zM943 934h12v13h-12zM943 922h12v13h-12zM943 910h12v13h-12zM943 898h12v13h-12zM943 886h12v13h-12zM943 875h12v13h-12zM943 804h12v13h-12zM943 792h12v13h-12zM943 780h12v13h-12zM943 248h12v13h-12zM954 957h12v13h-12zM954 946h12v13h-12zM954 934h12v13h-12zM954 922h12v13h-12zM954 910h12v13h-12zM954 898h12v13h-12zM954 886h12v13h-12zM954 875h12v13h-12zM954 863h12v13h-12zM954 851h12v13h-12zM954 815h12v13h-12zM954 804h12v13h-12zM954 792h12v13h-12zM954 780h12v13h-12zM964 957h12v13h-12zM964 946h12v13h-12zM964 934h12v13h-12zM964 922h12v13h-12zM964 910h12v13h-12zM964 898h12v13h-12zM964 886h12v13h-12zM964 875h12v13h-12zM964 863h12v13h-12zM964 851h12v13h-12zM964 839h12v13h-12zM964 827h12v13h-12zM964 815h12v13h-12zM964 804h12v13h-12zM964 792h12v13h-12zM964 780h12v13h-12zM975 957h12v13h-12zM975 946h12v13h-12zM975 934h12v13h-12zM975 922h12v13h-12zM975 910h12v13h-12zM975 898h12v13h-12zM975 886h12v13h-12zM975 875h12v13h-12zM975 863h12v13h-12zM975 851h12v13h-12zM975 839h12v13h-12zM975 827h12v13h-12zM975 815h12v13h-12zM975 804h12v13h-12zM975 792h12v13h-12zM975 780h12v13h-12zM975 768h12v13h-12zM986 957h12v13h-12zM986 946h12v13h-12zM986 934h12v13h-12zM986 922h12v13h-12zM986 910h12v13h-12zM986 898h12v13h-12zM986 886h12v13h-12zM986 875h12v13h-12zM986 863h12v13h-12zM986 851h12v13h-12zM986 839h12v13h-12zM986 827h12v13h-12zM986 815h12v13h-12zM986 804h12v13h-12zM986 792h12v13h-12zM986 780h12v13h-12zM986 768h12v13h-12zM986 756h12v13h-12zM996 957h12v13h-12zM996 946h12v13h-12zM996 934h12v13h-12zM996 922h12v13h-12zM996 910h12v13h-12zM996 898h12v13h-12zM996 886h12v13h-12zM996 875h12v13h-12zM996 863h12v13h-12zM996 851h12v13h-12zM996 839h12v13h-12zM996 827h12v13h-12zM996 815h12v13h-12zM996 804h12v13h-12zM996 792h12v13h-12zM996 780h12v13h-12zM996 768h12v13h-12zM996 756h12v13h-12zM1007 957h12v13h-12zM1007 946h12v13h-12zM1007 934h12v13h-12zM1007 922h12v13h-12zM1007 910h12v13h-12zM1007 898h12v13h-12zM1007 886h12v13h-12zM1007 875h12v13h-12zM1007 863h12v13h-12zM1007 851h12v13h-12zM1007 839h12v13h-12zM1007 827h12v13h-12zM1007 815h12v13h-12zM1007 804h12v13h-12zM1007 792h12v13h-12zM1007 780h12v13h-12zM1007 768h12v13h-12zM1007 756h12v13h-12zM1007 744h12v13h-12zM1007 733h12v13h-12zM1018 957h12v13h-12zM1018 946h12v13h-12zM1018 934h12v13h-12zM1018 922h12v13h-12zM1018 910h12v13h-12zM1018 898h12v13h-12zM1018 886h12v13h-12zM1018 875h12v13h-12zM1018 863h12v13h-12zM1018 851h12v13h-12zM1018 839h12v13h-12zM1018 827h12v13h-12zM1018 815h12v13h-12zM1018 804h12v13h-12zM1018 792h12v13h-12zM1018 780h12v13h-12zM1018 768h12v13h-12zM1018 756h12v13h-12zM1018 744h12v13h-12zM1018 733h12v13h-12zM1018 721h12v13h-12z"/><path fill="#fddcc9" d="M175 508h12v13h-12zM175 496h12v13h-12zM175 484h12v13h-12zM175 472h12v13h-12zM175 461h12v13h-12zM175 449h12v13h-12zM175 437h12v13h-12zM175 425h12v13h-12zM186 543h12v13h-12zM186 532h12v13h-12zM186 520h12v13h-12zM186 508h12v13h-12zM186 496h12v13h-12zM186 437h12v13h-12zM186 425h12v13h-12zM186 413h12v13h-12zM186 401h12v13h-12zM197 555h12v13h-12zM197 543h12v13h-12zM197 532h12v13h-12zM197 413h12v13h-12zM197 401h12v13h-12zM197 390h12v13h-12zM207 567h12v13h-12zM207 555h12v13h-12zM207 401h12v13h-12zM207 390h12v13h-12zM218 591h12v13h-12zM218 579h12v13h-12zM218 567h12v13h-12zM218 390h12v13h-12zM229 591h12v13h-12zM229 579h12v13h-12zM229 390h12v13h-12zM229 378h12v13h-12zM239 603h12v13h-12zM239 591h12v13h-12zM239 378h12v13h-12zM250 614h12v13h-12zM250 603h12v13h-12zM250 378h12v13h-12zM261 626h12v13h-12zM261 614h12v13h-12zM261 378h12v13h-12zM271 626h12v13h-12zM271 378h12v13h-12zM282 638h12v13h-12zM282 626h12v13h-12zM293 638h12v13h-12zM293 366h12v13h-12zM303 650h12v13h-12zM303 342h12v13h-12zM303 330h12v13h-12zM314 662h12v13h-12zM314 650h12v13h-12zM314 319h12v13h-12zM314 307h12v13h-12zM325 697h12v13h-12zM325 685h12v13h-12zM325 674h12v13h-12zM325 662h12v13h-12zM325 307h12v13h-12zM325 295h12v13h-12zM335 733h12v13h-12zM335 721h12v13h-12zM335 709h12v13h-12zM335 295h12v13h-12zM335 283h12v13h-12zM346 744h12v13h-12zM346 295h12v13h-12zM346 283h12v13h-12zM357 756h12v13h-12zM357 283h12v13h-12zM367 768h12v13h-12zM367 283h12v13h-12zM378 768h12v13h-12zM378 283h12v13h-12zM389 768h12v13h-12zM389 283h12v13h-12zM399 768h12v13h-12zM399 295h12v13h-12zM399 283h12v13h-12zM410 780h12v13h-12zM410 295h12v13h-12zM410 283h12v13h-12zM421 780h12v13h-12zM421 295h12v13h-12zM431 780h12v13h-12zM431 295h12v13h-12zM442 780h12v13h-12zM442 295h12v13h-12zM442 283h12v13h-12zM453 792h12v13h-12zM453 780h12v13h-12zM453 295h12v13h-12zM453 283h12v13h-12zM463 792h12v13h-12zM463 780h12v13h-12zM463 283h12v13h-12zM474 792h12v13h-12zM474 780h12v13h-12zM474 283h12v13h-12zM474 271h12v13h-12zM485 792h12v13h-12zM485 780h12v13h-12zM485 271h12v13h-12zM485 259h12v13h-12zM495 792h12v13h-12zM495 780h12v13h-12zM495 271h12v13h-12zM495 259h12v13h-12zM506 792h12v13h-12zM506 780h12v13h-12zM506 768h12v13h-12zM506 259h12v13h-12zM517 792h12v13h-12zM517 780h12v13h-12zM517 768h12v13h-12zM517 756h12v13h-12zM517 259h12v13h-12zM517 248h12v13h-12zM527 780h12v13h-12zM527 768h12v13h-12zM527 756h12v13h-12zM527 744h12v13h-12zM527 248h12v13h-12zM538 768h12v13h-12zM538 756h12v13h-12zM538 744h12v13h-12zM538 733h12v13h-12zM538 721h12v13h-12zM538 248h12v13h-12zM538 236h12v13h-12zM549 756h12v13h-12zM549 744h12v13h-12zM549 733h12v13h-12zM549 721h12v13h-12zM549 709h12v13h-12zM549 248h12v13h-12zM549 236h12v13h-12zM559 744h12v13h-12zM559 733h12v13h-12zM559 721h12v13h-12zM559 709h12v13h-12zM559 236h12v13h-12zM570 733h12v13h-12zM570 721h12v13h-12zM570 709h12v13h-12zM570 236h12v13h-12zM581 733h12v13h-12zM581 721h12v13h-12zM581 709h12v13h-12zM581 236h12v13h-12zM591 733h12v13h-12zM591 721h12v13h-12zM591 236h12v13h-12zM602 744h12v13h-12zM602 733h12v13h-12zM602 721h12v13h-12zM602 236h12v13h-12zM613 756h12v13h-12zM613 744h12v13h-12zM613 733h12v13h-12zM613 236h12v13h-12zM623 756h12v13h-12zM623 744h12v13h-12zM623 236h12v13h-12zM634 768h12v13h-12zM634 756h12v13h-12zM634 744h12v13h-12zM634 236h12v13h-12zM645 780h12v13h-12zM645 768h12v13h-12zM645 756h12v13h-12zM645 236h12v13h-12zM655 780h12v13h-12zM655 768h12v13h-12zM655 756h12v13h-12zM655 236h12v13h-12zM666 780h12v13h-12zM666 768h12v13h-12zM666 236h12v13h-12zM666 153h12v13h-12zM666 141h12v13h-12zM666 129h12v13h-12zM666 117h12v13h-12zM666 106h12v13h-12zM666 94h12v13h-12zM666 82h12v13h-12zM677 780h12v13h-12zM677 768h12v13h-12zM677 236h12v13h-12zM677 224h12v13h-12zM677 177h12v13h-12zM677 165h12v13h-12zM677 153h12v13h-12zM677 141h12v13h-12zM677 94h12v13h-12zM677 82h12v13h-12zM677 70h12v13h-12zM677 58h12v13h-12zM687 792h12v13h-12zM687 780h12v13h-12zM687 768h12v13h-12zM687 236h12v13h-12zM687 224h12v13h-12zM687 212h12v13h-12zM687 200h12v13h-12zM687 188h12v13h-12zM687 177h12v13h-12zM687 58h12v13h-12zM687 46h12v13h-12zM698 792h12v13h-12zM698 780h12v13h-12zM698 768h12v13h-12zM698 224h12v13h-12zM698 212h12v13h-12zM698 200h12v13h-12zM698 46h12v13h-12zM698 35h12v13h-12zM709 792h12v13h-12zM709 780h12v13h-12zM709 768h12v13h-12zM709 35h12v13h-12zM709 23h12v13h-12zM719 792h12v13h-12zM719 780h12v13h-12zM719 768h12v13h-12zM719 23h12v13h-12zM730 792h12v13h-12zM730 780h12v13h-12zM741 804h12v13h-12zM741 792h12v13h-12zM741 780h12v13h-12zM751 804h12v13h-12zM751 792h12v13h-12zM751 496h12v13h-12zM762 815h12v13h-12zM762 804h12v13h-12zM762 792h12v13h-12zM762 508h12v13h-12zM762 496h12v13h-12zM762 484h12v13h-12zM773 815h12v13h-12zM773 804h12v13h-12zM783 815h12v13h-12zM783 804h12v13h-12zM794 815h12v13h-12zM794 804h12v13h-12zM805 815h12v13h-12zM805 804h12v13h-12zM815 815h12v13h-12zM815 804h12v13h-12zM815 224h12v13h-12zM815 212h12v13h-12zM815 200h12v13h-12zM815 35h12v13h-12zM815 23h12v13h-12zM826 815h12v13h-12zM826 804h12v13h-12zM837 804h12v13h-12zM837 792h12v13h-12zM847 804h12v13h-12zM847 792h12v13h-12zM858 804h12v13h-12zM858 792h12v13h-12zM869 792h12v13h-12zM879 792h12v13h-12zM879 780h12v13h-12zM890 780h12v13h-12zM901 780h12v13h-12zM901 259h12v13h-12zM911 780h12v13h-12zM911 259h12v13h-12zM922 780h12v13h-12zM922 768h12v13h-12zM933 768h12v13h-12zM943 768h12v13h-12zM954 768h12v13h-12zM954 756h12v13h-12zM954 248h12v13h-12zM964 768h12v13h-12zM964 756h12v13h-12zM964 248h12v13h-12zM975 756h12v13h-12zM975 744h12v13h-12zM975 248h12v13h-12zM986 744h12v13h-12zM986 733h12v13h-12zM986 248h12v13h-12zM996 744h12v13h-12zM996 733h12v13h-12zM996 721h12v13h-12zM996 248h12v13h-12zM1007 721h12v13h-12zM1007 709h12v13h-12zM1007 697h12v13h-12zM1007 248h12v13h-12zM1018 709h12v13h-12zM1018 697h12v13h-12zM1018 685h12v13h-12zM1018 674h12v13h-12zM1018 662h12v13h-12zM1018 650h12v13h-12zM1018 248h12v13h-12z"/><path fill="#fddcc9" d="M186 484h12v13h-12zM186 472h12v13h-12zM186 461h12v13h-12zM186 449h12v13h-12zM197 520h12v13h-12zM197 508h12v13h-12zM197 437h12v13h-12zM197 425h12v13h-12zM207 543h12v13h-12zM207 532h12v13h-12zM207 413h12v13h-12zM218 555h12v13h-12zM218 401h12v13h-12zM229 567h12v13h-12zM229 401h12v13h-12zM239 579h12v13h-12zM239 390h12v13h-12zM250 591h12v13h-12zM250 390h12v13h-12zM261 603h12v13h-12zM271 614h12v13h-12zM282 614h12v13h-12zM282 378h12v13h-12zM293 626h12v13h-12zM303 638h12v13h-12zM303 354h12v13h-12zM314 638h12v13h-12zM314 342h12v13h-12zM314 330h12v13h-12zM325 650h12v13h-12zM325 319h12v13h-12zM335 697h12v13h-12zM335 685h12v13h-12zM335 674h12v13h-12zM335 662h12v13h-12zM335 307h12v13h-12zM346 733h12v13h-12zM346 721h12v13h-12zM346 709h12v13h-12zM346 307h12v13h-12zM357 744h12v13h-12zM357 295h12v13h-12zM367 756h12v13h-12zM367 295h12v13h-12zM378 756h12v13h-12zM378 295h12v13h-12zM389 756h12v13h-12zM389 295h12v13h-12zM399 307h12v13h-12zM410 768h12v13h-12zM410 307h12v13h-12zM421 768h12v13h-12zM421 307h12v13h-12zM431 768h12v13h-12zM431 307h12v13h-12zM442 768h12v13h-12zM442 307h12v13h-12zM453 768h12v13h-12zM453 307h12v13h-12zM463 768h12v13h-12zM463 756h12v13h-12zM463 295h12v13h-12zM474 768h12v13h-12zM474 756h12v13h-12zM474 295h12v13h-12zM485 768h12v13h-12zM485 756h12v13h-12zM485 283h12v13h-12zM495 768h12v13h-12zM495 756h12v13h-12zM495 744h12v13h-12zM495 283h12v13h-12zM506 756h12v13h-12zM506 744h12v13h-12zM506 733h12v13h-12zM506 721h12v13h-12zM506 271h12v13h-12zM517 744h12v13h-12zM517 733h12v13h-12zM517 721h12v13h-12zM517 709h12v13h-12zM517 697h12v13h-12zM517 271h12v13h-12zM527 733h12v13h-12zM527 721h12v13h-12zM527 709h12v13h-12zM527 697h12v13h-12zM527 685h12v13h-12zM527 259h12v13h-12zM538 709h12v13h-12zM538 697h12v13h-12zM538 685h12v13h-12zM538 259h12v13h-12zM549 697h12v13h-12zM549 685h12v13h-12zM549 259h12v13h-12zM559 697h12v13h-12zM559 685h12v13h-12zM559 248h12v13h-12zM570 697h12v13h-12zM570 685h12v13h-12zM570 248h12v13h-12zM581 697h12v13h-12zM581 248h12v13h-12zM591 709h12v13h-12zM591 697h12v13h-12zM591 248h12v13h-12zM602 709h12v13h-12zM602 248h12v13h-12zM613 721h12v13h-12zM613 709h12v13h-12zM613 248h12v13h-12zM623 733h12v13h-12zM623 721h12v13h-12zM623 248h12v13h-12zM634 733h12v13h-12zM634 721h12v13h-12zM634 248h12v13h-12zM645 744h12v13h-12zM645 733h12v13h-12zM645 248h12v13h-12zM655 744h12v13h-12zM655 733h12v13h-12zM655 248h12v13h-12zM666 756h12v13h-12zM666 744h12v13h-12zM666 733h12v13h-12zM666 248h12v13h-12zM677 756h12v13h-12zM677 744h12v13h-12zM677 248h12v13h-12zM677 129h12v13h-12zM677 117h12v13h-12zM677 106h12v13h-12zM687 756h12v13h-12zM687 744h12v13h-12zM687 165h12v13h-12zM687 153h12v13h-12zM687 141h12v13h-12zM687 94h12v13h-12zM687 82h12v13h-12zM687 70h12v13h-12zM698 756h12v13h-12zM698 744h12v13h-12zM698 236h12v13h-12zM698 188h12v13h-12zM698 177h12v13h-12zM698 58h12v13h-12zM709 756h12v13h-12zM709 744h12v13h-12zM709 46h12v13h-12zM719 756h12v13h-12zM719 744h12v13h-12zM719 35h12v13h-12zM730 768h12v13h-12zM730 756h12v13h-12zM730 744h12v13h-12zM730 23h12v13h-12zM741 768h12v13h-12zM741 756h12v13h-12zM741 744h12v13h-12zM751 780h12v13h-12zM751 768h12v13h-12zM751 756h12v13h-12zM751 520h12v13h-12zM751 508h12v13h-12zM751 484h12v13h-12zM751 472h12v13h-12zM762 780h12v13h-12zM762 768h12v13h-12zM762 520h12v13h-12zM762 472h12v13h-12zM773 792h12v13h-12zM773 780h12v13h-12zM773 520h12v13h-12zM773 508h12v13h-12zM773 496h12v13h-12zM773 484h12v13h-12zM783 792h12v13h-12zM783 780h12v13h-12zM794 792h12v13h-12zM794 780h12v13h-12zM805 792h12v13h-12zM805 780h12v13h-12zM805 23h12v13h-12zM815 792h12v13h-12zM815 780h12v13h-12zM815 236h12v13h-12zM815 106h12v13h-12zM815 58h12v13h-12zM815 46h12v13h-12zM826 792h12v13h-12zM826 780h12v13h-12zM826 259h12v13h-12zM837 780h12v13h-12zM837 271h12v13h-12zM847 780h12v13h-12zM847 271h12v13h-12zM858 780h12v13h-12zM858 271h12v13h-12zM869 780h12v13h-12zM869 271h12v13h-12zM879 768h12v13h-12zM890 768h12v13h-12zM901 768h12v13h-12zM911 768h12v13h-12zM922 756h12v13h-12zM922 259h12v13h-12zM933 756h12v13h-12zM943 756h12v13h-12zM954 744h12v13h-12zM964 744h12v13h-12zM964 733h12v13h-12zM975 733h12v13h-12zM975 721h12v13h-12zM986 721h12v13h-12zM986 709h12v13h-12zM996 709h12v13h-12zM996 697h12v13h-12zM1007 685h12v13h-12zM1007 674h12v13h-12zM1007 662h12v13h-12zM1007 650h12v13h-12zM1007 259h12v13h-12zM1018 638h12v13h-12zM1018 626h12v13h-12zM1018 614h12v13h-12zM1018 603h12v13h-12zM1018 591h12v13h-12zM1018 579h12v13h-12zM1018 259h12v13h-12z"/><path fill="#fddbc7" d="M197 496h12v13h-12zM197 484h12v13h-12zM197 472h12v13h-12zM197 461h12v13h-12zM197 449h12v13h-12zM207 520h12v13h-12zM207 508h12v13h-12zM207 437h12v13h-12zM207 425h12v13h-12zM218 543h12v13h-12zM218 413h12v13h-12zM229 555h12v13h-12zM239 567h12v13h-12zM239 401h12v13h-12zM250 579h12v13h-12zM261 591h12v13h-12zM261 390h12v13h-12zM271 603h12v13h-12zM293 614h12v13h-12zM293 378h12v13h-12zM303 626h12v13h-12zM303 366h12v13h-12zM314 354h12v13h-12zM325 638h12v13h-12zM325 330h12v13h-12zM335 650h12v13h-12zM335 319h12v13h-12zM346 697h12v13h-12zM346 685h12v13h-12zM346 674h12v13h-12zM346 662h12v13h-12zM357 733h12v13h-12zM357 721h12v13h-12zM357 709h12v13h-12zM357 307h12v13h-12zM367 744h12v13h-12zM367 733h12v13h-12zM367 307h12v13h-12zM378 744h12v13h-12zM378 307h12v13h-12zM389 744h12v13h-12zM389 307h12v13h-12zM399 756h12v13h-12zM410 756h12v13h-12zM410 319h12v13h-12zM421 756h12v13h-12zM421 319h12v13h-12zM431 756h12v13h-12zM431 319h12v13h-12zM442 756h12v13h-12zM442 744h12v13h-12zM442 319h12v13h-12zM453 756h12v13h-12zM453 744h12v13h-12zM453 319h12v13h-12zM463 744h12v13h-12zM463 307h12v13h-12zM474 744h12v13h-12zM474 733h12v13h-12zM474 307h12v13h-12zM485 744h12v13h-12zM485 733h12v13h-12zM485 721h12v13h-12zM485 709h12v13h-12zM485 295h12v13h-12zM495 733h12v13h-12zM495 721h12v13h-12zM495 709h12v13h-12zM495 697h12v13h-12zM495 685h12v13h-12zM506 709h12v13h-12zM506 697h12v13h-12zM506 685h12v13h-12zM506 674h12v13h-12zM506 283h12v13h-12zM517 685h12v13h-12zM517 674h12v13h-12zM517 662h12v13h-12zM527 674h12v13h-12zM527 662h12v13h-12zM527 271h12v13h-12zM538 674h12v13h-12zM538 662h12v13h-12zM538 271h12v13h-12zM549 674h12v13h-12zM549 662h12v13h-12zM559 674h12v13h-12zM559 662h12v13h-12zM559 259h12v13h-12zM570 674h12v13h-12zM570 662h12v13h-12zM570 259h12v13h-12zM581 685h12v13h-12zM581 674h12v13h-12zM581 259h12v13h-12zM591 685h12v13h-12zM591 674h12v13h-12zM591 259h12v13h-12zM602 697h12v13h-12zM602 685h12v13h-12zM602 259h12v13h-12zM613 697h12v13h-12zM613 685h12v13h-12zM613 259h12v13h-12zM623 709h12v13h-12zM623 697h12v13h-12zM623 259h12v13h-12zM634 709h12v13h-12zM634 697h12v13h-12zM634 259h12v13h-12zM645 721h12v13h-12zM645 709h12v13h-12zM655 721h12v13h-12zM655 709h12v13h-12zM666 721h12v13h-12zM666 709h12v13h-12zM677 733h12v13h-12zM677 721h12v13h-12zM677 709h12v13h-12zM687 733h12v13h-12zM687 721h12v13h-12zM687 709h12v13h-12zM687 248h12v13h-12zM687 129h12v13h-12zM687 117h12v13h-12zM687 106h12v13h-12zM698 733h12v13h-12zM698 721h12v13h-12zM698 709h12v13h-12zM698 165h12v13h-12zM698 153h12v13h-12zM698 82h12v13h-12zM698 70h12v13h-12zM709 733h12v13h-12zM709 721h12v13h-12zM709 709h12v13h-12zM709 224h12v13h-12zM709 212h12v13h-12zM709 200h12v13h-12zM709 58h12v13h-12zM719 733h12v13h-12zM719 721h12v13h-12zM719 709h12v13h-12zM719 46h12v13h-12zM730 733h12v13h-12zM730 721h12v13h-12zM730 709h12v13h-12zM730 35h12v13h-12zM741 733h12v13h-12zM741 721h12v13h-12zM741 709h12v13h-12zM741 532h12v13h-12zM741 520h12v13h-12zM741 508h12v13h-12zM741 496h12v13h-12zM741 23h12v13h-12zM751 744h12v13h-12zM751 733h12v13h-12zM751 721h12v13h-12zM751 709h12v13h-12zM751 532h12v13h-12zM762 756h12v13h-12zM762 744h12v13h-12zM762 733h12v13h-12zM762 721h12v13h-12zM762 709h12v13h-12zM762 543h12v13h-12zM762 532h12v13h-12zM762 461h12v13h-12zM773 768h12v13h-12zM773 756h12v13h-12zM773 744h12v13h-12zM773 733h12v13h-12zM773 532h12v13h-12zM773 472h12v13h-12zM783 768h12v13h-12zM783 756h12v13h-12zM794 768h12v13h-12zM794 756h12v13h-12zM794 23h12v13h-12zM805 768h12v13h-12zM805 35h12v13h-12zM815 768h12v13h-12zM815 248h12v13h-12zM815 94h12v13h-12zM815 82h12v13h-12zM815 70h12v13h-12zM826 768h12v13h-12zM837 768h12v13h-12zM847 768h12v13h-12zM858 768h12v13h-12zM869 768h12v13h-12zM879 271h12v13h-12zM890 756h12v13h-12zM890 271h12v13h-12zM901 756h12v13h-12zM911 756h12v13h-12zM933 744h12v13h-12zM933 259h12v13h-12zM943 744h12v13h-12zM943 259h12v13h-12zM954 733h12v13h-12zM964 721h12v13h-12zM975 709h12v13h-12zM986 697h12v13h-12zM986 259h12v13h-12zM996 685h12v13h-12zM996 674h12v13h-12zM996 662h12v13h-12zM996 259h12v13h-12zM1007 638h12v13h-12zM1007 626h12v13h-12zM1007 614h12v13h-12zM1007 603h12v13h-12zM1018 567h12v13h-12zM1018 555h12v13h-12zM1018 271h12v13h-12z"/><path fill="#fdd9c4" d="M207 496h12v13h-12zM207 484h12v13h-12zM207 472h12v13h-12zM207 461h12v13h-12zM207 449h12v13h-12zM218 532h12v13h-12zM218 520h12v13h-12zM218 425h12v13h-12zM229 543h12v13h-12zM229 413h12v13h-12zM239 555h12v13h-12zM250 567h12v13h-12zM250 401h12v13h-12zM261 579h12v13h-12zM271 591h12v13h-12zM271 390h12v13h-12zM282 603h12v13h-12zM303 614h12v13h-12zM314 626h12v13h-12zM314 366h12v13h-12zM325 342h12v13h-12zM335 638h12v13h-12zM335 330h12v13h-12zM346 650h12v13h-12zM346 319h12v13h-12zM357 697h12v13h-12zM357 685h12v13h-12zM357 674h12v13h-12zM357 662h12v13h-12zM357 319h12v13h-12zM367 721h12v13h-12zM367 709h12v13h-12zM367 319h12v13h-12zM378 733h12v13h-12zM378 319h12v13h-12zM389 733h12v13h-12zM389 319h12v13h-12zM399 744h12v13h-12zM399 319h12v13h-12zM410 744h12v13h-12zM421 744h12v13h-12zM431 744h12v13h-12zM431 733h12v13h-12zM431 330h12v13h-12zM442 733h12v13h-12zM453 733h12v13h-12zM453 721h12v13h-12zM463 733h12v13h-12zM463 721h12v13h-12zM463 709h12v13h-12zM463 319h12v13h-12zM474 721h12v13h-12zM474 709h12v13h-12zM474 697h12v13h-12zM474 685h12v13h-12zM485 697h12v13h-12zM485 685h12v13h-12zM485 674h12v13h-12zM485 307h12v13h-12zM495 674h12v13h-12zM495 662h12v13h-12zM495 295h12v13h-12zM506 662h12v13h-12zM517 650h12v13h-12zM517 283h12v13h-12zM527 650h12v13h-12zM538 650h12v13h-12zM549 650h12v13h-12zM549 271h12v13h-12zM559 650h12v13h-12zM559 271h12v13h-12zM570 650h12v13h-12zM581 662h12v13h-12zM581 650h12v13h-12zM591 662h12v13h-12zM591 650h12v13h-12zM602 674h12v13h-12zM602 662h12v13h-12zM613 674h12v13h-12zM613 662h12v13h-12zM623 685h12v13h-12zM623 674h12v13h-12zM623 614h12v13h-12zM623 603h12v13h-12zM623 591h12v13h-12zM623 579h12v13h-12zM634 685h12v13h-12zM634 674h12v13h-12zM634 626h12v13h-12zM634 614h12v13h-12zM634 603h12v13h-12zM634 591h12v13h-12zM634 579h12v13h-12zM645 697h12v13h-12zM645 685h12v13h-12zM645 674h12v13h-12zM645 626h12v13h-12zM645 614h12v13h-12zM645 603h12v13h-12zM645 591h12v13h-12zM645 579h12v13h-12zM645 567h12v13h-12zM645 259h12v13h-12zM655 697h12v13h-12zM655 685h12v13h-12zM655 674h12v13h-12zM655 626h12v13h-12zM655 614h12v13h-12zM655 603h12v13h-12zM655 591h12v13h-12zM655 579h12v13h-12zM655 567h12v13h-12zM655 259h12v13h-12zM666 697h12v13h-12zM666 685h12v13h-12zM666 626h12v13h-12zM666 614h12v13h-12zM666 603h12v13h-12zM666 591h12v13h-12zM666 579h12v13h-12zM666 567h12v13h-12zM666 259h12v13h-12zM677 697h12v13h-12zM677 685h12v13h-12zM677 614h12v13h-12zM677 603h12v13h-12zM677 591h12v13h-12zM677 579h12v13h-12zM677 567h12v13h-12zM687 697h12v13h-12zM687 685h12v13h-12zM687 603h12v13h-12zM687 591h12v13h-12zM687 579h12v13h-12zM687 567h12v13h-12zM698 697h12v13h-12zM698 685h12v13h-12zM698 579h12v13h-12zM698 567h12v13h-12zM698 248h12v13h-12zM698 141h12v13h-12zM698 129h12v13h-12zM698 117h12v13h-12zM698 106h12v13h-12zM698 94h12v13h-12zM709 697h12v13h-12zM709 685h12v13h-12zM709 236h12v13h-12zM709 188h12v13h-12zM709 177h12v13h-12zM709 70h12v13h-12zM719 697h12v13h-12zM719 685h12v13h-12zM730 697h12v13h-12zM730 685h12v13h-12zM730 543h12v13h-12zM730 532h12v13h-12zM730 520h12v13h-12zM730 508h12v13h-12zM741 697h12v13h-12zM741 685h12v13h-12zM741 674h12v13h-12zM741 543h12v13h-12zM741 484h12v13h-12zM741 472h12v13h-12zM751 697h12v13h-12zM751 685h12v13h-12zM751 674h12v13h-12zM751 555h12v13h-12zM751 543h12v13h-12zM751 461h12v13h-12zM751 23h12v13h-12zM762 697h12v13h-12zM762 685h12v13h-12zM762 674h12v13h-12zM762 555h12v13h-12zM773 721h12v13h-12zM773 709h12v13h-12zM773 697h12v13h-12zM773 685h12v13h-12zM773 674h12v13h-12zM773 543h12v13h-12zM783 744h12v13h-12zM783 733h12v13h-12zM783 721h12v13h-12zM783 709h12v13h-12zM783 697h12v13h-12zM783 685h12v13h-12zM783 674h12v13h-12zM783 520h12v13h-12zM783 23h12v13h-12zM794 744h12v13h-12zM794 733h12v13h-12zM794 721h12v13h-12zM794 709h12v13h-12zM794 697h12v13h-12zM794 35h12v13h-12zM805 756h12v13h-12zM805 744h12v13h-12zM805 733h12v13h-12zM805 46h12v13h-12zM815 756h12v13h-12zM815 744h12v13h-12zM826 756h12v13h-12zM826 271h12v13h-12zM837 756h12v13h-12zM847 756h12v13h-12zM858 756h12v13h-12zM869 756h12v13h-12zM879 756h12v13h-12zM901 271h12v13h-12zM911 744h12v13h-12zM922 744h12v13h-12zM943 733h12v13h-12zM954 721h12v13h-12zM954 259h12v13h-12zM964 259h12v13h-12zM975 697h12v13h-12zM975 259h12v13h-12zM986 685h12v13h-12zM986 674h12v13h-12zM996 650h12v13h-12zM996 638h12v13h-12zM996 626h12v13h-12zM1007 591h12v13h-12zM1007 579h12v13h-12zM1007 271h12v13h-12zM1018 543h12v13h-12zM1018 532h12v13h-12z"/><path fill="#fcd7c2" d="M218 508h12v13h-12zM218 437h12v13h-12zM229 532h12v13h-12zM229 425h12v13h-12zM239 413h12v13h-12zM261 401h12v13h-12zM282 591h12v13h-12zM282 390h12v13h-12zM293 603h12v13h-12zM303 378h12v13h-12zM314 614h12v13h-12zM325 626h12v13h-12zM325 354h12v13h-12zM335 342h12v13h-12zM346 638h12v13h-12zM346 330h12v13h-12zM357 650h12v13h-12zM367 697h12v13h-12zM367 685h12v13h-12zM367 674h12v13h-12zM378 721h12v13h-12zM378 709h12v13h-12zM389 721h12v13h-12zM399 733h12v13h-12zM399 330h12v13h-12zM410 733h12v13h-12zM410 330h12v13h-12zM421 733h12v13h-12zM421 330h12v13h-12zM431 721h12v13h-12zM442 721h12v13h-12zM442 709h12v13h-12zM442 330h12v13h-12zM453 709h12v13h-12zM453 697h12v13h-12zM453 330h12v13h-12zM463 697h12v13h-12zM463 685h12v13h-12zM463 674h12v13h-12zM474 674h12v13h-12zM474 319h12v13h-12zM485 662h12v13h-12zM495 650h12v13h-12zM495 307h12v13h-12zM506 650h12v13h-12zM506 295h12v13h-12zM517 638h12v13h-12zM527 638h12v13h-12zM527 283h12v13h-12zM538 638h12v13h-12zM538 283h12v13h-12zM549 638h12v13h-12zM549 626h12v13h-12zM559 638h12v13h-12zM559 626h12v13h-12zM570 638h12v13h-12zM570 626h12v13h-12zM570 271h12v13h-12zM581 638h12v13h-12zM581 626h12v13h-12zM581 614h12v13h-12zM581 271h12v13h-12zM591 638h12v13h-12zM591 626h12v13h-12zM591 614h12v13h-12zM591 603h12v13h-12zM591 271h12v13h-12zM602 650h12v13h-12zM602 638h12v13h-12zM602 626h12v13h-12zM602 614h12v13h-12zM602 603h12v13h-12zM602 591h12v13h-12zM602 271h12v13h-12zM613 650h12v13h-12zM613 638h12v13h-12zM613 626h12v13h-12zM613 614h12v13h-12zM613 603h12v13h-12zM613 591h12v13h-12zM613 579h12v13h-12zM613 271h12v13h-12zM623 662h12v13h-12zM623 650h12v13h-12zM623 638h12v13h-12zM623 626h12v13h-12zM623 567h12v13h-12zM634 662h12v13h-12zM634 650h12v13h-12zM634 638h12v13h-12zM634 567h12v13h-12zM645 662h12v13h-12zM645 650h12v13h-12zM645 638h12v13h-12zM645 555h12v13h-12zM655 662h12v13h-12zM655 650h12v13h-12zM655 638h12v13h-12zM655 555h12v13h-12zM666 674h12v13h-12zM666 662h12v13h-12zM666 650h12v13h-12zM666 638h12v13h-12zM666 555h12v13h-12zM677 674h12v13h-12zM677 662h12v13h-12zM677 650h12v13h-12zM677 638h12v13h-12zM677 626h12v13h-12zM677 555h12v13h-12zM677 259h12v13h-12zM687 674h12v13h-12zM687 662h12v13h-12zM687 650h12v13h-12zM687 638h12v13h-12zM687 626h12v13h-12zM687 614h12v13h-12zM687 555h12v13h-12zM687 543h12v13h-12zM687 259h12v13h-12zM698 674h12v13h-12zM698 662h12v13h-12zM698 650h12v13h-12zM698 638h12v13h-12zM698 626h12v13h-12zM698 614h12v13h-12zM698 603h12v13h-12zM698 591h12v13h-12zM698 555h12v13h-12zM698 543h12v13h-12zM709 674h12v13h-12zM709 662h12v13h-12zM709 650h12v13h-12zM709 591h12v13h-12zM709 579h12v13h-12zM709 567h12v13h-12zM709 555h12v13h-12zM709 543h12v13h-12zM709 532h12v13h-12zM709 248h12v13h-12zM709 165h12v13h-12zM709 82h12v13h-12zM719 674h12v13h-12zM719 662h12v13h-12zM719 579h12v13h-12zM719 567h12v13h-12zM719 555h12v13h-12zM719 543h12v13h-12zM719 532h12v13h-12zM719 520h12v13h-12zM719 58h12v13h-12zM730 674h12v13h-12zM730 662h12v13h-12zM730 567h12v13h-12zM730 555h12v13h-12zM730 496h12v13h-12zM730 46h12v13h-12zM741 662h12v13h-12zM741 567h12v13h-12zM741 555h12v13h-12zM741 35h12v13h-12zM751 662h12v13h-12zM751 567h12v13h-12zM751 449h12v13h-12zM762 662h12v13h-12zM762 650h12v13h-12zM762 567h12v13h-12zM762 449h12v13h-12zM762 23h12v13h-12zM773 662h12v13h-12zM773 650h12v13h-12zM773 567h12v13h-12zM773 555h12v13h-12zM773 461h12v13h-12zM773 23h12v13h-12zM783 662h12v13h-12zM783 650h12v13h-12zM783 555h12v13h-12zM783 543h12v13h-12zM783 532h12v13h-12zM783 508h12v13h-12zM794 685h12v13h-12zM794 674h12v13h-12zM794 662h12v13h-12zM794 650h12v13h-12zM805 721h12v13h-12zM805 709h12v13h-12zM805 697h12v13h-12zM805 685h12v13h-12zM805 674h12v13h-12zM805 58h12v13h-12zM815 733h12v13h-12zM815 721h12v13h-12zM815 259h12v13h-12zM826 744h12v13h-12zM826 733h12v13h-12zM837 744h12v13h-12zM837 283h12v13h-12zM847 744h12v13h-12zM847 283h12v13h-12zM858 744h12v13h-12zM858 283h12v13h-12zM869 744h12v13h-12zM869 283h12v13h-12zM879 744h12v13h-12zM890 744h12v13h-12zM901 744h12v13h-12zM911 271h12v13h-12zM922 733h12v13h-12zM933 733h12v13h-12zM943 721h12v13h-12zM964 709h12v13h-12zM975 685h12v13h-12zM986 662h12v13h-12zM986 650h12v13h-12zM996 614h12v13h-12zM996 603h12v13h-12zM996 271h12v13h-12zM1007 567h12v13h-12zM1007 555h12v13h-12zM1018 520h12v13h-12zM1018 283h12v13h-12z"/><path fill="#fcd5bf" d="M218 496h12v13h-12zM218 484h12v13h-12zM218 472h12v13h-12zM218 461h12v13h-12zM218 449h12v13h-12zM229 520h12v13h-12zM229 437h12v13h-12zM239 543h12v13h-12zM250 555h12v13h-12zM261 567h12v13h-12zM271 579h12v13h-12zM303 603h12v13h-12zM325 366h12v13h-12zM335 626h12v13h-12zM357 330h12v13h-12zM367 662h12v13h-12zM367 330h12v13h-12zM378 697h12v13h-12zM378 685h12v13h-12zM378 674h12v13h-12zM378 330h12v13h-12zM389 709h12v13h-12zM389 697h12v13h-12zM389 330h12v13h-12zM399 721h12v13h-12zM399 709h12v13h-12zM410 721h12v13h-12zM410 709h12v13h-12zM421 721h12v13h-12zM421 709h12v13h-12zM431 709h12v13h-12zM431 697h12v13h-12zM431 342h12v13h-12zM442 697h12v13h-12zM442 685h12v13h-12zM453 685h12v13h-12zM453 674h12v13h-12zM463 662h12v13h-12zM463 330h12v13h-12zM474 662h12v13h-12zM485 650h12v13h-12zM485 319h12v13h-12zM506 638h12v13h-12zM506 307h12v13h-12zM517 295h12v13h-12zM527 626h12v13h-12zM538 626h12v13h-12zM549 283h12v13h-12zM559 614h12v13h-12zM570 614h12v13h-12zM581 603h12v13h-12zM591 591h12v13h-12zM602 579h12v13h-12zM613 567h12v13h-12zM623 555h12v13h-12zM623 271h12v13h-12zM634 555h12v13h-12zM634 271h12v13h-12zM645 271h12v13h-12zM655 543h12v13h-12zM666 543h12v13h-12zM677 543h12v13h-12zM698 532h12v13h-12zM698 259h12v13h-12zM709 638h12v13h-12zM709 626h12v13h-12zM709 614h12v13h-12zM709 603h12v13h-12zM709 520h12v13h-12zM709 153h12v13h-12zM709 94h12v13h-12zM719 650h12v13h-12zM719 638h12v13h-12zM719 626h12v13h-12zM719 614h12v13h-12zM719 603h12v13h-12zM719 591h12v13h-12zM719 508h12v13h-12zM719 224h12v13h-12zM719 212h12v13h-12zM719 70h12v13h-12zM730 650h12v13h-12zM730 638h12v13h-12zM730 591h12v13h-12zM730 579h12v13h-12zM730 484h12v13h-12zM741 650h12v13h-12zM741 638h12v13h-12zM741 579h12v13h-12zM741 461h12v13h-12zM751 650h12v13h-12zM751 638h12v13h-12zM751 579h12v13h-12zM751 35h12v13h-12zM762 638h12v13h-12zM762 579h12v13h-12zM773 638h12v13h-12zM773 626h12v13h-12zM773 579h12v13h-12zM783 638h12v13h-12zM783 626h12v13h-12zM783 614h12v13h-12zM783 579h12v13h-12zM783 567h12v13h-12zM783 496h12v13h-12zM783 35h12v13h-12zM794 638h12v13h-12zM794 626h12v13h-12zM794 614h12v13h-12zM794 603h12v13h-12zM794 591h12v13h-12zM794 579h12v13h-12zM794 567h12v13h-12zM794 555h12v13h-12zM794 543h12v13h-12zM794 46h12v13h-12zM805 662h12v13h-12zM805 650h12v13h-12zM805 638h12v13h-12zM805 626h12v13h-12zM805 614h12v13h-12zM805 603h12v13h-12zM815 709h12v13h-12zM815 697h12v13h-12zM815 685h12v13h-12zM826 721h12v13h-12zM837 733h12v13h-12zM847 733h12v13h-12zM879 283h12v13h-12zM911 733h12v13h-12zM922 271h12v13h-12zM933 271h12v13h-12zM954 709h12v13h-12zM964 697h12v13h-12zM975 674h12v13h-12zM986 638h12v13h-12zM986 626h12v13h-12zM986 271h12v13h-12zM996 591h12v13h-12zM996 579h12v13h-12zM1007 543h12v13h-12zM1007 283h12v13h-12zM1018 508h12v13h-12zM1018 496h12v13h-12zM1018 295h12v13h-12z"/><path fill="#fcd5bf" d="M229 508h12v13h-12zM239 532h12v13h-12zM239 425h12v13h-12zM250 543h12v13h-12zM250 413h12v13h-12zM271 567h12v13h-12zM271 401h12v13h-12zM282 579h12v13h-12zM293 591h12v13h-12zM293 390h12v13h-12zM314 603h12v13h-12zM314 378h12v13h-12zM325 614h12v13h-12zM335 354h12v13h-12zM346 626h12v13h-12zM346 342h12v13h-12zM357 638h12v13h-12zM367 650h12v13h-12zM378 662h12v13h-12zM389 685h12v13h-12zM389 674h12v13h-12zM399 697h12v13h-12zM399 685h12v13h-12zM399 342h12v13h-12zM410 697h12v13h-12zM410 685h12v13h-12zM410 342h12v13h-12zM421 697h12v13h-12zM421 685h12v13h-12zM421 342h12v13h-12zM431 685h12v13h-12zM431 674h12v13h-12zM442 674h12v13h-12zM442 342h12v13h-12zM453 662h12v13h-12zM453 342h12v13h-12zM474 650h12v13h-12zM474 330h12v13h-12zM495 638h12v13h-12zM495 319h12v13h-12zM517 626h12v13h-12zM527 295h12v13h-12zM549 614h12v13h-12zM559 283h12v13h-12zM570 603h12v13h-12zM570 283h12v13h-12zM581 591h12v13h-12zM591 579h12v13h-12zM602 567h12v13h-12zM613 555h12v13h-12zM634 543h12v13h-12zM645 543h12v13h-12zM655 271h12v13h-12zM666 532h12v13h-12zM677 532h12v13h-12zM687 532h12v13h-12zM698 520h12v13h-12zM709 508h12v13h-12zM709 259h12v13h-12zM709 141h12v13h-12zM709 129h12v13h-12zM709 117h12v13h-12zM709 106h12v13h-12zM719 496h12v13h-12zM719 236h12v13h-12zM719 200h12v13h-12zM719 188h12v13h-12zM730 626h12v13h-12zM730 614h12v13h-12zM730 603h12v13h-12zM730 472h12v13h-12zM730 58h12v13h-12zM741 626h12v13h-12zM741 614h12v13h-12zM741 603h12v13h-12zM741 591h12v13h-12zM741 449h12v13h-12zM741 46h12v13h-12zM751 626h12v13h-12zM751 614h12v13h-12zM751 603h12v13h-12zM751 591h12v13h-12zM751 437h12v13h-12zM762 626h12v13h-12zM762 614h12v13h-12zM762 603h12v13h-12zM762 591h12v13h-12zM762 437h12v13h-12zM762 35h12v13h-12zM773 614h12v13h-12zM773 603h12v13h-12zM773 591h12v13h-12zM773 449h12v13h-12zM773 35h12v13h-12zM783 603h12v13h-12zM783 591h12v13h-12zM783 484h12v13h-12zM794 532h12v13h-12zM805 591h12v13h-12zM805 579h12v13h-12zM805 567h12v13h-12zM805 165h12v13h-12zM805 153h12v13h-12zM805 141h12v13h-12zM805 70h12v13h-12zM815 674h12v13h-12zM815 662h12v13h-12zM815 650h12v13h-12zM815 638h12v13h-12zM815 626h12v13h-12zM815 614h12v13h-12zM815 603h12v13h-12zM815 591h12v13h-12zM815 579h12v13h-12zM815 271h12v13h-12zM826 709h12v13h-12zM826 697h12v13h-12zM826 626h12v13h-12zM826 614h12v13h-12zM826 603h12v13h-12zM826 591h12v13h-12zM826 283h12v13h-12zM837 721h12v13h-12zM837 603h12v13h-12zM858 733h12v13h-12zM869 733h12v13h-12zM879 733h12v13h-12zM890 733h12v13h-12zM890 283h12v13h-12zM901 733h12v13h-12zM901 283h12v13h-12zM922 721h12v13h-12zM933 721h12v13h-12zM943 709h12v13h-12zM943 271h12v13h-12zM954 697h12v13h-12zM954 271h12v13h-12zM964 685h12v13h-12zM964 271h12v13h-12zM975 662h12v13h-12zM975 650h12v13h-12zM975 271h12v13h-12zM986 614h12v13h-12zM986 603h12v13h-12zM996 567h12v13h-12zM996 283h12v13h-12zM1007 532h12v13h-12zM1018 484h12v13h-12zM1018 307h12v13h-12z"/><path fill="#fcd3bc" d="M229 496h12v13h-12zM229 484h12v13h-12zM229 472h12v13h-12zM229 461h12v13h-12zM229 449h12v13h-12zM239 520h12v13h-12zM261 555h12v13h-12zM303 591h12v13h-12zM325 378h12v13h-12zM335 614h12v13h-12zM335 366h12v13h-12zM357 342h12v13h-12zM367 638h12v13h-12zM367 342h12v13h-12zM378 650h12v13h-12zM378 342h12v13h-12zM389 662h12v13h-12zM389 342h12v13h-12zM399 674h12v13h-12zM399 662h12v13h-12zM410 674h12v13h-12zM421 674h12v13h-12zM431 662h12v13h-12zM442 662h12v13h-12zM463 650h12v13h-12zM463 342h12v13h-12zM485 638h12v13h-12zM485 330h12v13h-12zM506 626h12v13h-12zM506 319h12v13h-12zM517 307h12v13h-12zM538 614h12v13h-12zM538 295h12v13h-12zM559 603h12v13h-12zM570 591h12v13h-12zM581 579h12v13h-12zM581 283h12v13h-12zM591 567h12v13h-12zM591 283h12v13h-12zM602 555h12v13h-12zM602 283h12v13h-12zM613 283h12v13h-12zM623 543h12v13h-12zM645 532h12v13h-12zM655 532h12v13h-12zM666 271h12v13h-12zM687 520h12v13h-12zM719 484h12v13h-12zM719 248h12v13h-12zM719 177h12v13h-12zM719 82h12v13h-12zM730 461h12v13h-12zM783 46h12v13h-12zM794 520h12v13h-12zM805 555h12v13h-12zM805 543h12v13h-12zM805 224h12v13h-12zM805 212h12v13h-12zM805 200h12v13h-12zM805 188h12v13h-12zM805 177h12v13h-12zM805 129h12v13h-12zM805 82h12v13h-12zM815 567h12v13h-12zM826 685h12v13h-12zM826 674h12v13h-12zM826 662h12v13h-12zM826 650h12v13h-12zM826 638h12v13h-12zM826 579h12v13h-12zM837 709h12v13h-12zM837 626h12v13h-12zM837 614h12v13h-12zM837 591h12v13h-12zM837 579h12v13h-12zM847 721h12v13h-12zM847 614h12v13h-12zM847 603h12v13h-12zM847 591h12v13h-12zM847 295h12v13h-12zM858 721h12v13h-12zM858 295h12v13h-12zM911 721h12v13h-12zM911 283h12v13h-12zM933 709h12v13h-12zM964 674h12v13h-12zM975 638h12v13h-12zM975 626h12v13h-12zM986 591h12v13h-12zM996 555h12v13h-12zM1007 520h12v13h-12zM1007 295h12v13h-12zM1018 330h12v13h-12zM1018 319h12v13h-12z"/><path fill="#fbd0b9" d="M239 508h12v13h-12zM239 437h12v13h-12zM250 532h12v13h-12zM250 425h12v13h-12zM261 543h12v13h-12zM261 413h12v13h-12zM271 555h12v13h-12zM282 567h12v13h-12zM293 579h12v13h-12zM303 390h12v13h-12zM325 603h12v13h-12zM346 354h12v13h-12zM357 626h12v13h-12zM389 650h12v13h-12zM410 662h12v13h-12zM410 354h12v13h-12zM421 662h12v13h-12zM421 354h12v13h-12zM431 354h12v13h-12zM442 650h12v13h-12zM442 354h12v13h-12zM453 650h12v13h-12zM453 354h12v13h-12zM474 638h12v13h-12zM474 342h12v13h-12zM495 626h12v13h-12zM495 330h12v13h-12zM527 614h12v13h-12zM527 307h12v13h-12zM549 603h12v13h-12zM549 295h12v13h-12zM581 567h12v13h-12zM591 555h12v13h-12zM613 543h12v13h-12zM623 283h12v13h-12zM634 532h12v13h-12zM666 520h12v13h-12zM677 520h12v13h-12zM677 271h12v13h-12zM698 508h12v13h-12zM709 496h12v13h-12zM719 472h12v13h-12zM719 165h12v13h-12zM719 94h12v13h-12zM730 449h12v13h-12zM730 70h12v13h-12zM741 437h12v13h-12zM741 58h12v13h-12zM751 425h12v13h-12zM751 46h12v13h-12zM783 472h12v13h-12zM794 508h12v13h-12zM794 58h12v13h-12zM805 248h12v13h-12zM805 236h12v13h-12zM805 117h12v13h-12zM805 94h12v13h-12zM815 555h12v13h-12zM815 283h12v13h-12zM826 567h12v13h-12zM837 697h12v13h-12zM837 685h12v13h-12zM837 650h12v13h-12zM837 638h12v13h-12zM837 295h12v13h-12zM847 709h12v13h-12zM847 626h12v13h-12zM847 579h12v13h-12zM858 614h12v13h-12zM858 603h12v13h-12zM858 591h12v13h-12zM869 721h12v13h-12zM869 295h12v13h-12zM879 721h12v13h-12zM879 295h12v13h-12zM890 721h12v13h-12zM901 721h12v13h-12zM922 283h12v13h-12zM943 697h12v13h-12zM954 685h12v13h-12zM964 662h12v13h-12zM975 614h12v13h-12zM975 603h12v13h-12zM986 579h12v13h-12zM986 283h12v13h-12zM996 543h12v13h-12zM1007 508h12v13h-12zM1007 307h12v13h-12zM1018 472h12v13h-12zM1018 366h12v13h-12zM1018 354h12v13h-12zM1018 342h12v13h-12z"/><path fill="#fbceb7" d="M239 496h12v13h-12zM239 449h12v13h-12zM282 401h12v13h-12zM314 591h12v13h-12zM314 390h12v13h-12zM335 378h12v13h-12zM346 614h12v13h-12zM346 366h12v13h-12zM357 354h12v13h-12zM367 626h12v13h-12zM378 638h12v13h-12zM389 354h12v13h-12zM399 650h12v13h-12zM399 354h12v13h-12zM410 650h12v13h-12zM421 650h12v13h-12zM431 650h12v13h-12zM463 638h12v13h-12zM463 354h12v13h-12zM485 626h12v13h-12zM485 342h12v13h-12zM517 614h12v13h-12zM517 319h12v13h-12zM538 307h12v13h-12zM559 591h12v13h-12zM559 295h12v13h-12zM570 579h12v13h-12zM570 295h12v13h-12zM602 543h12v13h-12zM623 532h12v13h-12zM634 283h12v13h-12zM645 520h12v13h-12zM655 520h12v13h-12zM677 508h12v13h-12zM687 508h12v13h-12zM687 271h12v13h-12zM698 496h12v13h-12zM709 484h12v13h-12zM719 461h12v13h-12zM719 259h12v13h-12zM719 153h12v13h-12zM719 106h12v13h-12zM730 437h12v13h-12zM741 425h12v13h-12zM762 425h12v13h-12zM762 46h12v13h-12zM773 437h12v13h-12zM773 46h12v13h-12zM805 532h12v13h-12zM805 259h12v13h-12zM805 106h12v13h-12zM815 543h12v13h-12zM826 555h12v13h-12zM826 295h12v13h-12zM837 674h12v13h-12zM837 662h12v13h-12zM837 567h12v13h-12zM847 697h12v13h-12zM847 638h12v13h-12zM858 709h12v13h-12zM858 579h12v13h-12zM869 603h12v13h-12zM869 591h12v13h-12zM890 295h12v13h-12zM922 709h12v13h-12zM933 283h12v13h-12zM954 674h12v13h-12zM964 650h12v13h-12zM964 638h12v13h-12zM964 626h12v13h-12zM975 591h12v13h-12zM975 283h12v13h-12zM986 567h12v13h-12zM996 295h12v13h-12zM1007 496h12v13h-12zM1007 319h12v13h-12zM1018 461h12v13h-12zM1018 378h12v13h-12z"/><path fill="#fbccb4" d="M239 484h12v13h-12zM239 472h12v13h-12zM239 461h12v13h-12zM250 520h12v13h-12zM250 437h12v13h-12zM261 532h12v13h-12zM293 567h12v13h-12zM303 579h12v13h-12zM335 603h12v13h-12zM367 354h12v13h-12zM378 354h12v13h-12zM389 638h12v13h-12zM399 366h12v13h-12zM410 366h12v13h-12zM421 366h12v13h-12zM431 366h12v13h-12zM442 366h12v13h-12zM453 638h12v13h-12zM474 626h12v13h-12zM474 354h12v13h-12zM495 342h12v13h-12zM506 614h12v13h-12zM506 330h12v13h-12zM538 603h12v13h-12zM581 555h12v13h-12zM581 295h12v13h-12zM591 543h12v13h-12zM591 295h12v13h-12zM613 532h12v13h-12zM634 520h12v13h-12zM645 283h12v13h-12zM666 508h12v13h-12zM687 496h12v13h-12zM698 271h12v13h-12zM709 472h12v13h-12zM719 141h12v13h-12zM719 129h12v13h-12zM719 117h12v13h-12zM730 82h12v13h-12zM751 413h12v13h-12zM783 461h12v13h-12zM794 496h12v13h-12zM794 70h12v13h-12zM847 685h12v13h-12zM847 674h12v13h-12zM847 650h12v13h-12zM847 567h12v13h-12zM847 307h12v13h-12zM858 697h12v13h-12zM858 626h12v13h-12zM869 709h12v13h-12zM869 614h12v13h-12zM869 579h12v13h-12zM879 709h12v13h-12zM879 603h12v13h-12zM879 591h12v13h-12zM890 709h12v13h-12zM901 709h12v13h-12zM901 295h12v13h-12zM911 709h12v13h-12zM933 697h12v13h-12zM943 685h12v13h-12zM943 283h12v13h-12zM954 662h12v13h-12zM954 283h12v13h-12zM964 614h12v13h-12zM964 603h12v13h-12zM964 283h12v13h-12zM975 579h12v13h-12zM986 555h12v13h-12zM986 295h12v13h-12zM996 532h12v13h-12zM1007 484h12v13h-12zM1007 354h12v13h-12zM1007 342h12v13h-12zM1007 330h12v13h-12zM1018 449h12v13h-12z"/><path fill="#fbccb4" d="M250 508h12v13h-12zM261 425h12v13h-12zM271 543h12v13h-12zM271 413h12v13h-12zM282 555h12v13h-12zM293 401h12v13h-12zM325 591h12v13h-12zM325 390h12v13h-12zM346 378h12v13h-12zM357 614h12v13h-12zM357 366h12v13h-12zM367 366h12v13h-12zM378 626h12v13h-12zM378 366h12v13h-12zM389 366h12v13h-12zM399 638h12v13h-12zM410 638h12v13h-12zM431 638h12v13h-12zM442 638h12v13h-12zM453 366h12v13h-12zM463 626h12v13h-12zM485 354h12v13h-12zM495 614h12v13h-12zM527 319h12v13h-12zM549 307h12v13h-12zM570 567h12v13h-12zM602 532h12v13h-12zM602 295h12v13h-12zM613 295h12v13h-12zM623 520h12v13h-12zM645 508h12v13h-12zM655 508h12v13h-12zM655 283h12v13h-12zM677 496h12v13h-12zM698 484h12v13h-12zM709 271h12v13h-12zM719 449h12v13h-12zM730 425h12v13h-12zM730 236h12v13h-12zM730 224h12v13h-12zM730 212h12v13h-12zM741 413h12v13h-12zM741 70h12v13h-12zM751 58h12v13h-12zM783 58h12v13h-12zM805 520h12v13h-12zM805 271h12v13h-12zM815 532h12v13h-12zM815 295h12v13h-12zM826 543h12v13h-12zM837 555h12v13h-12zM837 307h12v13h-12zM847 662h12v13h-12zM858 638h12v13h-12zM858 567h12v13h-12zM858 307h12v13h-12zM869 697h12v13h-12zM869 626h12v13h-12zM869 307h12v13h-12zM879 614h12v13h-12zM911 295h12v13h-12zM922 697h12v13h-12zM943 674h12v13h-12zM954 650h12v13h-12zM954 638h12v13h-12zM996 520h12v13h-12zM996 307h12v13h-12zM1007 472h12v13h-12zM1007 366h12v13h-12zM1018 390h12v13h-12z"/><path fill="#facab1" d="M250 496h12v13h-12zM250 484h12v13h-12zM250 461h12v13h-12zM250 449h12v13h-12zM261 520h12v13h-12zM303 567h12v13h-12zM314 579h12v13h-12zM335 390h12v13h-12zM346 603h12v13h-12zM357 378h12v13h-12zM389 378h12v13h-12zM399 378h12v13h-12zM410 378h12v13h-12zM421 638h12v13h-12zM421 378h12v13h-12zM431 378h12v13h-12zM453 626h12v13h-12zM463 366h12v13h-12zM485 614h12v13h-12zM506 342h12v13h-12zM517 330h12v13h-12zM527 603h12v13h-12zM538 319h12v13h-12zM549 591h12v13h-12zM559 579h12v13h-12zM559 307h12v13h-12zM570 555h12v13h-12zM581 543h12v13h-12zM591 532h12v13h-12zM613 520h12v13h-12zM623 295h12v13h-12zM634 508h12v13h-12zM666 496h12v13h-12zM687 484h12v13h-12zM698 472h12v13h-12zM709 461h12v13h-12zM719 437h12v13h-12zM719 425h12v13h-12zM730 413h12v13h-12zM730 248h12v13h-12zM730 200h12v13h-12zM730 94h12v13h-12zM762 413h12v13h-12zM762 58h12v13h-12zM773 425h12v13h-12zM773 58h12v13h-12zM826 307h12v13h-12zM847 555h12v13h-12zM858 685h12v13h-12zM858 674h12v13h-12zM858 662h12v13h-12zM858 650h12v13h-12zM869 638h12v13h-12zM869 567h12v13h-12zM879 697h12v13h-12zM879 626h12v13h-12zM879 579h12v13h-12zM879 307h12v13h-12zM890 614h12v13h-12zM890 603h12v13h-12zM890 591h12v13h-12zM901 697h12v13h-12zM911 697h12v13h-12zM922 295h12v13h-12zM933 685h12v13h-12zM943 662h12v13h-12zM954 626h12v13h-12zM954 614h12v13h-12zM954 603h12v13h-12zM964 591h12v13h-12zM975 567h12v13h-12zM975 295h12v13h-12zM986 543h12v13h-12zM996 508h12v13h-12zM996 319h12v13h-12zM1018 437h12v13h-12zM1018 401h12v13h-12z"/><path fill="#fac8af" d="M250 472h12v13h-12zM261 508h12v13h-12zM261 437h12v13h-12zM271 532h12v13h-12zM282 543h12v13h-12zM293 555h12v13h-12zM335 591h12v13h-12zM346 390h12v13h-12zM367 614h12v13h-12zM367 378h12v13h-12zM378 378h12v13h-12zM389 626h12v13h-12zM389 390h12v13h-12zM399 390h12v13h-12zM410 390h12v13h-12zM421 390h12v13h-12zM442 626h12v13h-12zM442 378h12v13h-12zM474 614h12v13h-12zM474 366h12v13h-12zM495 354h12v13h-12zM517 603h12v13h-12zM527 330h12v13h-12zM570 543h12v13h-12zM570 307h12v13h-12zM581 307h12v13h-12zM623 508h12v13h-12zM645 496h12v13h-12zM655 496h12v13h-12zM666 283h12v13h-12zM677 484h12v13h-12zM698 461h12v13h-12zM709 449h12v13h-12zM719 413h12v13h-12zM719 271h12v13h-12zM730 401h12v13h-12zM730 188h12v13h-12zM741 401h12v13h-12zM751 401h12v13h-12zM783 449h12v13h-12zM794 484h12v13h-12zM794 82h12v13h-12zM805 508h12v13h-12zM805 283h12v13h-12zM826 532h12v13h-12zM837 543h12v13h-12zM869 685h12v13h-12zM869 650h12v13h-12zM890 697h12v13h-12zM890 579h12v13h-12zM890 307h12v13h-12zM901 603h12v13h-12zM901 591h12v13h-12zM922 685h12v13h-12zM933 674h12v13h-12zM933 295h12v13h-12zM943 650h12v13h-12zM943 638h12v13h-12zM943 626h12v13h-12zM943 614h12v13h-12zM954 591h12v13h-12zM964 579h12v13h-12zM964 295h12v13h-12zM986 307h12v13h-12zM996 496h12v13h-12zM996 354h12v13h-12zM996 342h12v13h-12zM996 330h12v13h-12zM1007 461h12v13h-12zM1007 378h12v13h-12zM1018 425h12v13h-12zM1018 413h12v13h-12z"/><path fill="#f9c6ac" d="M261 496h12v13h-12zM271 520h12v13h-12zM282 413h12v13h-12zM303 401h12v13h-12zM325 579h12v13h-12zM357 603h12v13h-12zM357 472h12v13h-12zM357 461h12v13h-12zM357 390h12v13h-12zM367 472h12v13h-12zM367 461h12v13h-12zM367 390h12v13h-12zM378 614h12v13h-12zM378 401h12v13h-12zM378 390h12v13h-12zM389 401h12v13h-12zM399 626h12v13h-12zM399 401h12v13h-12zM410 626h12v13h-12zM410 401h12v13h-12zM421 626h12v13h-12zM431 626h12v13h-12zM431 390h12v13h-12zM453 378h12v13h-12zM463 614h12v13h-12zM485 366h12v13h-12zM517 342h12v13h-12zM549 319h12v13h-12zM559 567h12v13h-12zM581 532h12v13h-12zM591 307h12v13h-12zM602 520h12v13h-12zM634 496h12v13h-12zM634 295h12v13h-12zM655 484h12v13h-12zM666 484h12v13h-12zM677 472h12v13h-12zM677 283h12v13h-12zM687 472h12v13h-12zM698 449h12v13h-12zM709 437h12v13h-12zM709 425h12v13h-12zM719 401h12v13h-12zM730 259h12v13h-12zM730 177h12v13h-12zM730 106h12v13h-12zM741 82h12v13h-12zM751 70h12v13h-12zM762 401h12v13h-12zM783 70h12v13h-12zM815 520h12v13h-12zM815 307h12v13h-12zM826 319h12v13h-12zM837 319h12v13h-12zM847 319h12v13h-12zM858 555h12v13h-12zM858 319h12v13h-12zM869 674h12v13h-12zM869 662h12v13h-12zM869 319h12v13h-12zM879 685h12v13h-12zM879 638h12v13h-12zM879 567h12v13h-12zM890 685h12v13h-12zM890 626h12v13h-12zM901 685h12v13h-12zM901 614h12v13h-12zM901 307h12v13h-12zM911 685h12v13h-12zM911 614h12v13h-12zM911 603h12v13h-12zM933 662h12v13h-12zM933 614h12v13h-12zM943 603h12v13h-12zM943 295h12v13h-12zM954 295h12v13h-12zM975 555h12v13h-12zM986 532h12v13h-12zM986 319h12v13h-12z"/><path fill="#f9c4a9" d="M261 484h12v13h-12zM261 472h12v13h-12zM261 461h12v13h-12zM261 449h12v13h-12zM271 425h12v13h-12zM282 532h12v13h-12zM293 543h12v13h-12zM303 555h12v13h-12zM314 567h12v13h-12zM346 591h12v13h-12zM346 472h12v13h-12zM346 461h12v13h-12zM346 401h12v13h-12zM357 401h12v13h-12zM367 401h12v13h-12zM378 472h12v13h-12zM421 401h12v13h-12zM431 401h12v13h-12zM442 390h12v13h-12zM463 378h12v13h-12zM506 603h12v13h-12zM506 354h12v13h-12zM538 591h12v13h-12zM538 330h12v13h-12zM549 579h12v13h-12zM559 555h12v13h-12zM559 319h12v13h-12zM570 532h12v13h-12zM591 520h12v13h-12zM602 307h12v13h-12zM613 508h12v13h-12zM623 496h12v13h-12zM645 484h12v13h-12zM645 295h12v13h-12zM666 472h12v13h-12zM687 461h12v13h-12zM687 283h12v13h-12zM698 437h12v13h-12zM709 413h12v13h-12zM730 390h12v13h-12zM730 165h12v13h-12zM730 117h12v13h-12zM741 390h12v13h-12zM751 390h12v13h-12zM773 413h12v13h-12zM794 94h12v13h-12zM805 295h12v13h-12zM847 543h12v13h-12zM869 555h12v13h-12zM879 674h12v13h-12zM879 662h12v13h-12zM879 650h12v13h-12zM879 319h12v13h-12zM890 638h12v13h-12zM901 626h12v13h-12zM901 579h12v13h-12zM911 626h12v13h-12zM911 591h12v13h-12zM911 307h12v13h-12zM922 674h12v13h-12zM922 626h12v13h-12zM922 614h12v13h-12zM922 603h12v13h-12zM922 591h12v13h-12zM933 650h12v13h-12zM933 638h12v13h-12zM933 626h12v13h-12zM933 603h12v13h-12zM933 591h12v13h-12zM943 591h12v13h-12zM954 579h12v13h-12zM964 567h12v13h-12zM975 307h12v13h-12zM986 520h12v13h-12zM986 330h12v13h-12zM996 484h12v13h-12zM996 366h12v13h-12zM1007 449h12v13h-12zM1007 390h12v13h-12z"/><path fill="#f9c4a9" d="M271 508h12v13h-12zM282 520h12v13h-12zM314 401h12v13h-12zM335 579h12v13h-12zM335 472h12v13h-12zM335 401h12v13h-12zM346 484h12v13h-12zM357 484h12v13h-12zM357 449h12v13h-12zM357 413h12v13h-12zM367 603h12v13h-12zM367 484h12v13h-12zM367 413h12v13h-12zM378 484h12v13h-12zM378 461h12v13h-12zM378 413h12v13h-12zM389 614h12v13h-12zM389 472h12v13h-12zM389 413h12v13h-12zM399 413h12v13h-12zM410 413h12v13h-12zM421 413h12v13h-12zM453 614h12v13h-12zM453 390h12v13h-12zM474 378h12v13h-12zM495 603h12v13h-12zM495 366h12v13h-12zM527 342h12v13h-12zM559 543h12v13h-12zM570 319h12v13h-12zM602 508h12v13h-12zM613 307h12v13h-12zM634 484h12v13h-12zM645 472h12v13h-12zM655 472h12v13h-12zM666 461h12v13h-12zM677 461h12v13h-12zM687 449h12v13h-12zM698 425h12v13h-12zM698 413h12v13h-12zM698 283h12v13h-12zM709 401h12v13h-12zM719 390h12v13h-12zM730 153h12v13h-12zM730 141h12v13h-12zM730 129h12v13h-12zM762 70h12v13h-12zM773 70h12v13h-12zM783 437h12v13h-12zM794 472h12v13h-12zM794 248h12v13h-12zM794 236h12v13h-12zM794 224h12v13h-12zM794 212h12v13h-12zM805 496h12v13h-12zM815 319h12v13h-12zM826 520h12v13h-12zM837 532h12v13h-12zM890 674h12v13h-12zM890 662h12v13h-12zM890 650h12v13h-12zM890 567h12v13h-12zM890 319h12v13h-12zM901 674h12v13h-12zM901 638h12v13h-12zM911 674h12v13h-12zM911 662h12v13h-12zM911 638h12v13h-12zM911 579h12v13h-12zM922 662h12v13h-12zM922 650h12v13h-12zM922 638h12v13h-12zM922 307h12v13h-12zM943 579h12v13h-12zM964 307h12v13h-12zM975 543h12v13h-12zM986 342h12v13h-12zM996 472h12v13h-12z"/><path fill="#f9c2a7" d="M271 496h12v13h-12zM271 484h12v13h-12zM271 437h12v13h-12zM293 532h12v13h-12zM303 543h12v13h-12zM314 555h12v13h-12zM325 567h12v13h-12zM325 401h12v13h-12zM335 484h12v13h-12zM346 449h12v13h-12zM367 449h12v13h-12zM367 425h12v13h-12zM389 484h12v13h-12zM389 461h12v13h-12zM399 614h12v13h-12zM399 472h12v13h-12zM431 413h12v13h-12zM442 614h12v13h-12zM442 401h12v13h-12zM463 390h12v13h-12zM474 603h12v13h-12zM485 603h12v13h-12zM485 378h12v13h-12zM517 354h12v13h-12zM549 330h12v13h-12zM559 532h12v13h-12zM581 520h12v13h-12zM581 319h12v13h-12zM613 496h12v13h-12zM623 484h12v13h-12zM623 307h12v13h-12zM634 472h12v13h-12zM655 461h12v13h-12zM677 449h12v13h-12zM687 437h12v13h-12zM687 425h12v13h-12zM698 401h12v13h-12zM709 283h12v13h-12zM730 271h12v13h-12zM741 94h12v13h-12zM762 390h12v13h-12zM783 82h12v13h-12zM794 259h12v13h-12zM794 200h12v13h-12zM794 188h12v13h-12zM794 177h12v13h-12zM794 106h12v13h-12zM805 307h12v13h-12zM815 508h12v13h-12zM826 330h12v13h-12zM837 330h12v13h-12zM847 330h12v13h-12zM858 543h12v13h-12zM858 330h12v13h-12zM879 555h12v13h-12zM901 662h12v13h-12zM901 650h12v13h-12zM901 567h12v13h-12zM901 319h12v13h-12zM911 650h12v13h-12zM922 579h12v13h-12zM933 579h12v13h-12zM933 307h12v13h-12zM943 307h12v13h-12zM954 567h12v13h-12zM954 307h12v13h-12zM964 555h12v13h-12zM975 319h12v13h-12zM986 508h12v13h-12zM986 354h12v13h-12zM996 378h12v13h-12zM1007 437h12v13h-12zM1007 401h12v13h-12z"/><path fill="#f8bfa4" d="M271 472h12v13h-12zM271 461h12v13h-12zM271 449h12v13h-12zM282 508h12v13h-12zM282 496h12v13h-12zM282 425h12v13h-12zM293 520h12v13h-12zM293 413h12v13h-12zM325 484h12v13h-12zM325 472h12v13h-12zM335 461h12v13h-12zM346 413h12v13h-12zM357 591h12v13h-12zM357 437h12v13h-12zM357 425h12v13h-12zM367 437h12v13h-12zM378 603h12v13h-12zM378 449h12v13h-12zM378 425h12v13h-12zM399 484h12v13h-12zM410 614h12v13h-12zM410 472h12v13h-12zM421 614h12v13h-12zM431 614h12v13h-12zM442 413h12v13h-12zM453 401h12v13h-12zM463 603h12v13h-12zM506 366h12v13h-12zM527 591h12v13h-12zM538 342h12v13h-12zM549 567h12v13h-12zM549 543h12v13h-12zM570 520h12v13h-12zM591 508h12v13h-12zM591 319h12v13h-12zM645 461h12v13h-12zM655 295h12v13h-12zM666 449h12v13h-12zM677 437h12v13h-12zM687 413h12v13h-12zM709 390h12v13h-12zM741 378h12v13h-12zM751 378h12v13h-12zM751 82h12v13h-12zM773 401h12v13h-12zM794 271h12v13h-12zM794 165h12v13h-12zM794 153h12v13h-12zM794 141h12v13h-12zM794 129h12v13h-12zM794 117h12v13h-12zM815 330h12v13h-12zM837 520h12v13h-12zM847 532h12v13h-12zM869 330h12v13h-12zM879 330h12v13h-12zM911 567h12v13h-12zM911 319h12v13h-12zM964 319h12v13h-12zM975 532h12v13h-12zM975 330h12v13h-12zM986 496h12v13h-12zM986 366h12v13h-12zM1007 425h12v13h-12zM1007 413h12v13h-12z"/><path fill="#f8bda1" d="M282 484h12v13h-12zM293 508h12v13h-12zM293 496h12v13h-12zM303 532h12v13h-12zM314 484h12v13h-12zM335 496h12v13h-12zM346 579h12v13h-12zM346 496h12v13h-12zM346 437h12v13h-12zM357 496h12v13h-12zM378 437h12v13h-12zM389 425h12v13h-12zM399 461h12v13h-12zM399 425h12v13h-12zM410 484h12v13h-12zM410 461h12v13h-12zM410 425h12v13h-12zM421 472h12v13h-12zM421 461h12v13h-12zM421 425h12v13h-12zM431 425h12v13h-12zM453 603h12v13h-12zM474 390h12v13h-12zM495 378h12v13h-12zM527 354h12v13h-12zM549 555h12v13h-12zM549 532h12v13h-12zM559 520h12v13h-12zM559 330h12v13h-12zM602 496h12v13h-12zM602 319h12v13h-12zM613 484h12v13h-12zM623 472h12v13h-12zM634 461h12v13h-12zM634 307h12v13h-12zM655 449h12v13h-12zM666 437h12v13h-12zM677 425h12v13h-12zM677 413h12v13h-12zM687 401h12v13h-12zM698 390h12v13h-12zM719 283h12v13h-12zM730 378h12v13h-12zM741 248h12v13h-12zM741 236h12v13h-12zM741 224h12v13h-12zM783 425h12v13h-12zM794 461h12v13h-12zM794 283h12v13h-12zM805 319h12v13h-12zM826 508h12v13h-12zM869 543h12v13h-12zM890 555h12v13h-12zM890 330h12v13h-12zM922 567h12v13h-12zM922 319h12v13h-12zM933 567h12v13h-12zM943 567h12v13h-12zM954 319h12v13h-12zM964 543h12v13h-12zM975 342h12v13h-12zM996 461h12v13h-12zM996 390h12v13h-12z"/><path fill="#f8bb9e" d="M282 472h12v13h-12zM293 484h12v13h-12zM303 520h12v13h-12zM303 508h12v13h-12zM303 496h12v13h-12zM303 484h12v13h-12zM314 543h12v13h-12zM314 496h12v13h-12zM314 472h12v13h-12zM325 555h12v13h-12zM325 496h12v13h-12zM325 461h12v13h-12zM335 567h12v13h-12zM335 449h12v13h-12zM346 425h12v13h-12zM367 591h12v13h-12zM367 496h12v13h-12zM389 603h12v13h-12zM389 449h12v13h-12zM421 484h12v13h-12zM421 437h12v13h-12zM431 472h12v13h-12zM431 461h12v13h-12zM431 449h12v13h-12zM431 437h12v13h-12zM442 603h12v13h-12zM442 425h12v13h-12zM453 413h12v13h-12zM463 401h12v13h-12zM485 520h12v13h-12zM485 390h12v13h-12zM495 520h12v13h-12zM517 591h12v13h-12zM517 366h12v13h-12zM538 579h12v13h-12zM538 532h12v13h-12zM549 520h12v13h-12zM549 342h12v13h-12zM570 330h12v13h-12zM581 508h12v13h-12zM613 319h12v13h-12zM645 449h12v13h-12zM666 425h12v13h-12zM666 295h12v13h-12zM677 401h12v13h-12zM719 378h12v13h-12zM741 259h12v13h-12zM741 212h12v13h-12zM741 200h12v13h-12zM741 106h12v13h-12zM762 378h12v13h-12zM773 390h12v13h-12zM773 82h12v13h-12zM794 295h12v13h-12zM805 484h12v13h-12zM805 330h12v13h-12zM858 532h12v13h-12zM901 555h12v13h-12zM901 330h12v13h-12zM933 319h12v13h-12zM943 319h12v13h-12zM954 555h12v13h-12zM964 330h12v13h-12zM975 520h12v13h-12zM975 354h12v13h-12zM986 484h12v13h-12z"/><path fill="#f8bb9e" d="M282 461h12v13h-12zM282 437h12v13h-12zM293 472h12v13h-12zM303 472h12v13h-12zM314 532h12v13h-12zM314 508h12v13h-12zM357 579h12v13h-12zM378 496h12v13h-12zM389 437h12v13h-12zM399 603h12v13h-12zM399 449h12v13h-12zM399 437h12v13h-12zM410 603h12v13h-12zM410 449h12v13h-12zM410 437h12v13h-12zM421 603h12v13h-12zM421 449h12v13h-12zM431 603h12v13h-12zM431 484h12v13h-12zM442 472h12v13h-12zM442 461h12v13h-12zM442 449h12v13h-12zM442 437h12v13h-12zM453 425h12v13h-12zM474 520h12v13h-12zM474 508h12v13h-12zM474 401h12v13h-12zM485 508h12v13h-12zM495 508h12v13h-12zM506 520h12v13h-12zM506 378h12v13h-12zM527 532h12v13h-12zM527 366h12v13h-12zM538 543h12v13h-12zM538 520h12v13h-12zM538 354h12v13h-12zM570 508h12v13h-12zM581 330h12v13h-12zM591 496h12v13h-12zM602 484h12v13h-12zM613 472h12v13h-12zM623 461h12v13h-12zM655 437h12v13h-12zM666 413h12v13h-12zM687 390h12v13h-12zM709 378h12v13h-12zM730 283h12v13h-12zM741 188h12v13h-12zM762 82h12v13h-12zM783 413h12v13h-12zM783 94h12v13h-12zM815 496h12v13h-12zM826 342h12v13h-12zM837 508h12v13h-12zM847 520h12v13h-12zM879 543h12v13h-12zM911 330h12v13h-12zM943 555h12v13h-12zM954 330h12v13h-12zM964 342h12v13h-12zM986 378h12v13h-12zM996 449h12v13h-12z"/><path fill="#f7b99c" d="M282 449h12v13h-12zM314 520h12v13h-12zM314 461h12v13h-12zM325 543h12v13h-12zM325 508h12v13h-12zM335 555h12v13h-12zM335 508h12v13h-12zM346 567h12v13h-12zM378 591h12v13h-12zM389 496h12v13h-12zM399 496h12v13h-12zM442 484h12v13h-12zM453 496h12v13h-12zM453 484h12v13h-12zM453 472h12v13h-12zM453 461h12v13h-12zM453 449h12v13h-12zM453 437h12v13h-12zM463 591h12v13h-12zM463 520h12v13h-12zM463 508h12v13h-12zM463 496h12v13h-12zM463 413h12v13h-12zM474 591h12v13h-12zM474 532h12v13h-12zM474 496h12v13h-12zM485 591h12v13h-12zM485 532h12v13h-12zM485 496h12v13h-12zM495 591h12v13h-12zM495 532h12v13h-12zM495 390h12v13h-12zM506 591h12v13h-12zM506 532h12v13h-12zM517 532h12v13h-12zM517 520h12v13h-12zM527 520h12v13h-12zM559 342h12v13h-12zM591 330h12v13h-12zM623 319h12v13h-12zM645 307h12v13h-12zM655 425h12v13h-12zM666 401h12v13h-12zM677 390h12v13h-12zM677 295h12v13h-12zM741 271h12v13h-12zM741 177h12v13h-12zM741 117h12v13h-12zM751 366h12v13h-12zM751 94h12v13h-12zM773 378h12v13h-12zM794 307h12v13h-12zM805 342h12v13h-12zM815 342h12v13h-12zM837 342h12v13h-12zM847 342h12v13h-12zM858 342h12v13h-12zM869 342h12v13h-12zM911 555h12v13h-12zM922 555h12v13h-12zM922 330h12v13h-12zM933 555h12v13h-12zM933 330h12v13h-12zM943 330h12v13h-12zM954 543h12v13h-12zM964 532h12v13h-12zM975 508h12v13h-12zM975 366h12v13h-12zM986 472h12v13h-12zM996 401h12v13h-12z"/><path fill="#f7b799" d="M293 461h12v13h-12zM293 425h12v13h-12zM303 461h12v13h-12zM325 532h12v13h-12zM325 520h12v13h-12zM325 449h12v13h-12zM335 413h12v13h-12zM346 508h12v13h-12zM367 579h12v13h-12zM389 591h12v13h-12zM410 496h12v13h-12zM421 496h12v13h-12zM431 496h12v13h-12zM442 591h12v13h-12zM442 496h12v13h-12zM453 591h12v13h-12zM453 520h12v13h-12zM453 508h12v13h-12zM463 532h12v13h-12zM463 484h12v13h-12zM463 472h12v13h-12zM463 425h12v13h-12zM474 484h12v13h-12zM485 401h12v13h-12zM506 508h12v13h-12zM517 378h12v13h-12zM538 567h12v13h-12zM538 555h12v13h-12zM538 366h12v13h-12zM549 354h12v13h-12zM559 508h12v13h-12zM570 342h12v13h-12zM581 496h12v13h-12zM591 484h12v13h-12zM602 472h12v13h-12zM602 330h12v13h-12zM634 449h12v13h-12zM645 437h12v13h-12zM655 413h12v13h-12zM655 401h12v13h-12zM666 390h12v13h-12zM698 378h12v13h-12zM741 366h12v13h-12zM741 165h12v13h-12zM741 153h12v13h-12zM741 129h12v13h-12zM762 366h12v13h-12zM794 449h12v13h-12zM794 330h12v13h-12zM794 319h12v13h-12zM826 496h12v13h-12zM869 532h12v13h-12zM879 342h12v13h-12zM890 543h12v13h-12zM890 342h12v13h-12zM954 342h12v13h-12zM964 354h12v13h-12zM996 437h12v13h-12z"/><path fill="#f7b596" d="M293 449h12v13h-12zM303 413h12v13h-12zM335 543h12v13h-12zM335 520h12v13h-12zM335 437h12v13h-12zM357 508h12v13h-12zM399 591h12v13h-12zM431 591h12v13h-12zM442 508h12v13h-12zM453 532h12v13h-12zM463 461h12v13h-12zM463 449h12v13h-12zM463 437h12v13h-12zM474 413h12v13h-12zM495 496h12v13h-12zM527 579h12v13h-12zM527 543h12v13h-12zM549 508h12v13h-12zM559 354h12v13h-12zM570 496h12v13h-12zM581 342h12v13h-12zM613 461h12v13h-12zM613 330h12v13h-12zM634 319h12v13h-12zM655 390h12v13h-12zM687 378h12v13h-12zM687 295h12v13h-12zM730 366h12v13h-12zM741 141h12v13h-12zM773 366h12v13h-12zM773 94h12v13h-12zM783 401h12v13h-12zM783 259h12v13h-12zM783 106h12v13h-12zM794 342h12v13h-12zM805 472h12v13h-12zM837 496h12v13h-12zM847 508h12v13h-12zM858 520h12v13h-12zM901 543h12v13h-12zM901 342h12v13h-12zM911 342h12v13h-12zM922 342h12v13h-12zM933 342h12v13h-12zM943 342h12v13h-12zM975 496h12v13h-12zM996 425h12v13h-12zM996 413h12v13h-12z"/><path fill="#f6b394" d="M293 437h12v13h-12zM303 449h12v13h-12zM314 449h12v13h-12zM335 532h12v13h-12zM346 555h12v13h-12zM357 567h12v13h-12zM367 508h12v13h-12zM378 579h12v13h-12zM410 591h12v13h-12zM421 591h12v13h-12zM431 508h12v13h-12zM442 520h12v13h-12zM453 579h12v13h-12zM463 543h12v13h-12zM474 543h12v13h-12zM474 472h12v13h-12zM474 425h12v13h-12zM485 543h12v13h-12zM485 484h12v13h-12zM506 390h12v13h-12zM517 543h12v13h-12zM517 508h12v13h-12zM527 508h12v13h-12zM527 378h12v13h-12zM538 508h12v13h-12zM549 366h12v13h-12zM581 484h12v13h-12zM591 342h12v13h-12zM623 330h12v13h-12zM645 401h12v13h-12zM645 390h12v13h-12zM655 307h12v13h-12zM677 378h12v13h-12zM698 295h12v13h-12zM709 295h12v13h-12zM719 366h12v13h-12zM741 283h12v13h-12zM751 106h12v13h-12zM762 94h12v13h-12zM783 390h12v13h-12zM783 366h12v13h-12zM783 354h12v13h-12zM783 283h12v13h-12zM783 271h12v13h-12zM783 248h12v13h-12zM783 236h12v13h-12zM783 224h12v13h-12zM794 354h12v13h-12zM815 484h12v13h-12zM879 532h12v13h-12zM943 543h12v13h-12zM954 532h12v13h-12zM954 354h12v13h-12zM964 520h12v13h-12zM986 461h12v13h-12zM986 390h12v13h-12z"/><path fill="#f6b394" d="M346 520h12v13h-12zM378 508h12v13h-12zM389 508h12v13h-12zM421 508h12v13h-12zM442 579h12v13h-12zM442 532h12v13h-12zM453 543h12v13h-12zM463 579h12v13h-12zM474 461h12v13h-12zM474 449h12v13h-12zM474 437h12v13h-12zM485 413h12v13h-12zM495 543h12v13h-12zM495 401h12v13h-12zM506 543h12v13h-12zM538 378h12v13h-12zM559 496h12v13h-12zM559 366h12v13h-12zM570 354h12v13h-12zM591 472h12v13h-12zM602 342h12v13h-12zM613 342h12v13h-12zM623 449h12v13h-12zM645 425h12v13h-12zM645 413h12v13h-12zM655 378h12v13h-12zM666 378h12v13h-12zM719 295h12v13h-12zM751 248h12v13h-12zM762 354h12v13h-12zM773 354h12v13h-12zM783 378h12v13h-12zM783 342h12v13h-12zM783 295h12v13h-12zM783 212h12v13h-12zM783 117h12v13h-12zM794 437h12v13h-12zM805 354h12v13h-12zM847 496h12v13h-12zM911 543h12v13h-12zM922 543h12v13h-12zM933 543h12v13h-12zM964 366h12v13h-12zM975 484h12v13h-12zM975 378h12v13h-12z"/><path fill="#f6b191" d="M346 543h12v13h-12zM346 532h12v13h-12zM357 555h12v13h-12zM357 520h12v13h-12zM367 567h12v13h-12zM389 579h12v13h-12zM399 508h12v13h-12zM410 508h12v13h-12zM421 579h12v13h-12zM431 579h12v13h-12zM431 520h12v13h-12zM442 567h12v13h-12zM442 543h12v13h-12zM453 567h12v13h-12zM453 555h12v13h-12zM463 555h12v13h-12zM474 579h12v13h-12zM485 472h12v13h-12zM495 484h12v13h-12zM506 496h12v13h-12zM517 579h12v13h-12zM517 390h12v13h-12zM527 567h12v13h-12zM527 555h12v13h-12zM549 378h12v13h-12zM570 484h12v13h-12zM581 354h12v13h-12zM591 354h12v13h-12zM602 461h12v13h-12zM634 437h12v13h-12zM634 390h12v13h-12zM634 378h12v13h-12zM634 330h12v13h-12zM645 378h12v13h-12zM645 319h12v13h-12zM709 366h12v13h-12zM730 295h12v13h-12zM751 354h12v13h-12zM751 259h12v13h-12zM751 236h12v13h-12zM751 224h12v13h-12zM783 330h12v13h-12zM783 319h12v13h-12zM783 307h12v13h-12zM783 200h12v13h-12zM783 188h12v13h-12zM783 129h12v13h-12zM815 354h12v13h-12zM826 484h12v13h-12zM858 508h12v13h-12zM869 520h12v13h-12zM890 532h12v13h-12zM943 354h12v13h-12zM964 508h12v13h-12z"/><path fill="#f6af8e" d="M303 437h12v13h-12zM335 425h12v13h-12zM367 520h12v13h-12zM399 579h12v13h-12zM410 579h12v13h-12zM431 567h12v13h-12zM442 555h12v13h-12zM463 567h12v13h-12zM474 555h12v13h-12zM485 579h12v13h-12zM485 461h12v13h-12zM485 425h12v13h-12zM549 496h12v13h-12zM559 378h12v13h-12zM570 366h12v13h-12zM581 472h12v13h-12zM581 366h12v13h-12zM602 354h12v13h-12zM613 354h12v13h-12zM623 390h12v13h-12zM623 378h12v13h-12zM623 366h12v13h-12zM623 342h12v13h-12zM634 401h12v13h-12zM634 366h12v13h-12zM666 307h12v13h-12zM698 366h12v13h-12zM741 354h12v13h-12zM751 271h12v13h-12zM751 212h12v13h-12zM751 117h12v13h-12zM762 106h12v13h-12zM773 342h12v13h-12zM773 106h12v13h-12zM783 177h12v13h-12zM783 165h12v13h-12zM783 153h12v13h-12zM783 141h12v13h-12zM794 425h12v13h-12zM794 366h12v13h-12zM826 354h12v13h-12zM837 484h12v13h-12zM837 354h12v13h-12zM933 354h12v13h-12zM943 532h12v13h-12zM954 520h12v13h-12zM986 449h12v13h-12z"/><path fill="#f5ac8b" d="M357 543h12v13h-12zM357 532h12v13h-12zM367 555h12v13h-12zM378 567h12v13h-12zM421 567h12v13h-12zM421 520h12v13h-12zM431 555h12v13h-12zM431 543h12v13h-12zM431 532h12v13h-12zM474 567h12v13h-12zM485 449h12v13h-12zM485 437h12v13h-12zM495 579h12v13h-12zM506 579h12v13h-12zM506 401h12v13h-12zM517 555h12v13h-12zM517 496h12v13h-12zM527 390h12v13h-12zM559 484h12v13h-12zM570 378h12v13h-12zM591 461h12v13h-12zM591 366h12v13h-12zM602 366h12v13h-12zM613 449h12v13h-12zM613 378h12v13h-12zM613 366h12v13h-12zM623 354h12v13h-12zM634 354h12v13h-12zM634 342h12v13h-12zM645 366h12v13h-12zM655 366h12v13h-12zM687 366h12v13h-12zM751 283h12v13h-12zM751 200h12v13h-12zM751 188h12v13h-12zM805 461h12v13h-12zM847 354h12v13h-12zM858 354h12v13h-12zM869 354h12v13h-12zM879 520h12v13h-12zM879 354h12v13h-12zM890 354h12v13h-12zM901 532h12v13h-12zM901 354h12v13h-12zM911 354h12v13h-12zM922 354h12v13h-12zM954 366h12v13h-12zM964 496h12v13h-12zM975 472h12v13h-12zM986 401h12v13h-12z"/><path fill="#f5aa89" d="M378 520h12v13h-12zM389 567h12v13h-12zM389 520h12v13h-12zM410 567h12v13h-12zM410 520h12v13h-12zM485 555h12v13h-12zM495 472h12v13h-12zM495 413h12v13h-12zM517 567h12v13h-12zM538 496h12v13h-12zM570 472h12v13h-12zM581 378h12v13h-12zM591 378h12v13h-12zM602 378h12v13h-12zM613 390h12v13h-12zM634 425h12v13h-12zM634 413h12v13h-12zM645 330h12v13h-12zM655 319h12v13h-12zM666 366h12v13h-12zM677 366h12v13h-12zM730 354h12v13h-12zM741 295h12v13h-12zM751 177h12v13h-12zM751 129h12v13h-12zM762 342h12v13h-12zM762 259h12v13h-12zM773 330h12v13h-12zM773 283h12v13h-12zM773 271h12v13h-12zM773 259h12v13h-12zM773 248h12v13h-12zM815 472h12v13h-12zM847 484h12v13h-12zM858 496h12v13h-12zM869 508h12v13h-12zM911 532h12v13h-12zM922 532h12v13h-12zM933 532h12v13h-12zM986 437h12v13h-12z"/><path fill="#f5aa89" d="M303 425h12v13h-12zM325 437h12v13h-12zM367 543h12v13h-12zM367 532h12v13h-12zM378 555h12v13h-12zM399 567h12v13h-12zM399 520h12v13h-12zM421 555h12v13h-12zM421 543h12v13h-12zM421 532h12v13h-12zM485 567h12v13h-12zM495 555h12v13h-12zM506 555h12v13h-12zM506 484h12v13h-12zM527 496h12v13h-12zM538 390h12v13h-12zM549 390h12v13h-12zM623 401h12v13h-12zM645 354h12v13h-12zM677 307h12v13h-12zM751 165h12v13h-12zM751 153h12v13h-12zM751 141h12v13h-12zM762 271h12v13h-12zM762 248h12v13h-12zM762 236h12v13h-12zM762 117h12v13h-12zM773 295h12v13h-12zM773 236h12v13h-12zM773 224h12v13h-12zM773 117h12v13h-12zM794 413h12v13h-12zM794 378h12v13h-12zM805 366h12v13h-12zM943 520h12v13h-12zM954 508h12v13h-12zM964 378h12v13h-12zM975 390h12v13h-12zM986 413h12v13h-12z"/><path fill="#f5a886" d="M314 437h12v13h-12zM314 413h12v13h-12zM325 413h12v13h-12zM378 543h12v13h-12zM378 532h12v13h-12zM389 555h12v13h-12zM410 555h12v13h-12zM410 532h12v13h-12zM495 567h12v13h-12zM495 461h12v13h-12zM495 425h12v13h-12zM506 567h12v13h-12zM549 484h12v13h-12zM559 472h12v13h-12zM559 390h12v13h-12zM581 461h12v13h-12zM602 390h12v13h-12zM623 437h12v13h-12zM645 342h12v13h-12zM655 354h12v13h-12zM719 354h12v13h-12zM751 342h12v13h-12zM751 295h12v13h-12zM762 283h12v13h-12zM762 224h12v13h-12zM773 319h12v13h-12zM773 307h12v13h-12zM773 212h12v13h-12zM794 401h12v13h-12zM794 390h12v13h-12zM826 472h12v13h-12zM837 472h12v13h-12zM890 520h12v13h-12zM943 366h12v13h-12zM964 484h12v13h-12zM975 461h12v13h-12zM986 425h12v13h-12z"/><path fill="#f4a683" d="M389 543h12v13h-12zM389 532h12v13h-12zM399 555h12v13h-12zM399 543h12v13h-12zM399 532h12v13h-12zM410 543h12v13h-12zM495 449h12v13h-12zM517 401h12v13h-12zM570 390h12v13h-12zM591 390h12v13h-12zM602 449h12v13h-12zM687 307h12v13h-12zM719 307h12v13h-12zM730 307h12v13h-12zM741 342h12v13h-12zM762 330h12v13h-12zM762 295h12v13h-12zM762 212h12v13h-12zM773 200h12v13h-12zM773 129h12v13h-12zM805 449h12v13h-12zM858 484h12v13h-12zM869 496h12v13h-12zM879 508h12v13h-12zM901 520h12v13h-12zM933 520h12v13h-12z"/><path fill="#f3a481" d="M495 437h12v13h-12zM570 461h12v13h-12zM581 390h12v13h-12zM613 401h12v13h-12zM655 342h12v13h-12zM655 330h12v13h-12zM666 354h12v13h-12zM666 319h12v13h-12zM698 307h12v13h-12zM709 354h12v13h-12zM709 307h12v13h-12zM741 307h12v13h-12zM762 319h12v13h-12zM762 307h12v13h-12zM762 200h12v13h-12zM762 129h12v13h-12zM773 188h12v13h-12zM773 177h12v13h-12zM773 141h12v13h-12zM815 366h12v13h-12zM847 472h12v13h-12zM911 520h12v13h-12zM922 520h12v13h-12zM933 366h12v13h-12zM954 496h12v13h-12z"/><path fill="#f2a17f" d="M506 472h12v13h-12zM506 413h12v13h-12zM517 484h12v13h-12zM538 484h12v13h-12zM623 425h12v13h-12zM623 413h12v13h-12zM677 354h12v13h-12zM687 354h12v13h-12zM698 354h12v13h-12zM730 342h12v13h-12zM751 330h12v13h-12zM751 307h12v13h-12zM762 188h12v13h-12zM762 177h12v13h-12zM762 141h12v13h-12zM773 165h12v13h-12zM773 153h12v13h-12zM815 461h12v13h-12zM943 508h12v13h-12zM954 378h12v13h-12zM964 472h12v13h-12zM975 449h12v13h-12z"/><path fill="#f2a17f" d="M527 484h12v13h-12zM527 401h12v13h-12zM549 472h12v13h-12zM559 461h12v13h-12zM741 330h12v13h-12zM741 319h12v13h-12zM751 319h12v13h-12zM762 165h12v13h-12zM762 153h12v13h-12zM805 437h12v13h-12zM890 508h12v13h-12zM922 366h12v13h-12zM975 401h12v13h-12z"/><path fill="#f19e7d" d="M591 449h12v13h-12zM613 437h12v13h-12zM666 342h12v13h-12zM666 330h12v13h-12zM677 319h12v13h-12zM719 342h12v13h-12zM730 319h12v13h-12zM805 378h12v13h-12zM826 461h12v13h-12zM826 366h12v13h-12zM869 484h12v13h-12zM879 496h12v13h-12zM901 508h12v13h-12zM901 366h12v13h-12zM911 366h12v13h-12zM933 508h12v13h-12zM954 484h12v13h-12zM964 390h12v13h-12z"/><path fill="#f09c7b" d="M506 461h12v13h-12zM538 401h12v13h-12zM602 401h12v13h-12zM730 330h12v13h-12zM837 461h12v13h-12zM837 366h12v13h-12zM847 366h12v13h-12zM858 472h12v13h-12zM858 366h12v13h-12zM869 366h12v13h-12zM879 366h12v13h-12zM890 366h12v13h-12zM911 508h12v13h-12zM922 508h12v13h-12zM943 496h12v13h-12zM975 437h12v13h-12z"/><path fill="#ef9979" d="M506 425h12v13h-12zM517 472h12v13h-12zM538 472h12v13h-12zM549 401h12v13h-12zM677 342h12v13h-12zM687 319h12v13h-12zM709 342h12v13h-12zM719 319h12v13h-12zM805 425h12v13h-12zM964 461h12v13h-12zM975 413h12v13h-12z"/><path fill="#ee9677" d="M506 449h12v13h-12zM506 437h12v13h-12zM517 413h12v13h-12zM549 461h12v13h-12zM559 401h12v13h-12zM581 449h12v13h-12zM591 401h12v13h-12zM613 413h12v13h-12zM677 330h12v13h-12zM687 342h12v13h-12zM698 342h12v13h-12zM698 319h12v13h-12zM709 319h12v13h-12zM719 330h12v13h-12zM815 449h12v13h-12zM847 461h12v13h-12zM890 496h12v13h-12zM933 496h12v13h-12zM943 378h12v13h-12zM975 425h12v13h-12z"/><path fill="#ee9677" d="M527 472h12v13h-12zM570 449h12v13h-12zM570 401h12v13h-12zM581 401h12v13h-12zM613 425h12v13h-12zM805 413h12v13h-12zM805 390h12v13h-12zM879 484h12v13h-12zM943 484h12v13h-12zM954 472h12v13h-12z"/><path fill="#ec9374" d="M325 425h12v13h-12zM602 437h12v13h-12zM687 330h12v13h-12zM709 330h12v13h-12zM805 401h12v13h-12zM815 378h12v13h-12zM869 472h12v13h-12zM901 496h12v13h-12zM911 496h12v13h-12zM922 496h12v13h-12z"/><path fill="#eb9172" d="M314 425h12v13h-12zM517 461h12v13h-12zM538 461h12v13h-12zM559 449h12v13h-12zM698 330h12v13h-12zM826 449h12v13h-12zM858 461h12v13h-12zM933 378h12v13h-12zM954 390h12v13h-12zM964 449h12v13h-12zM964 401h12v13h-12z"/><path fill="#ea8e70" d="M815 437h12v13h-12zM837 449h12v13h-12zM890 484h12v13h-12zM933 484h12v13h-12z"/><path fill="#e98b6e" d="M527 461h12v13h-12zM527 413h12v13h-12zM549 449h12v13h-12zM602 413h12v13h-12zM954 461h12v13h-12z"/><path fill="#e98b6e" d="M517 449h12v13h-12zM517 425h12v13h-12zM826 378h12v13h-12zM847 449h12v13h-12zM901 484h12v13h-12zM922 484h12v13h-12zM922 378h12v13h-12zM943 472h12v13h-12z"/><path fill="#e8896c" d="M517 437h12v13h-12zM538 413h12v13h-12zM591 437h12v13h-12zM602 425h12v13h-12zM837 378h12v13h-12zM879 472h12v13h-12zM911 484h12v13h-12zM911 378h12v13h-12zM964 437h12v13h-12zM964 413h12v13h-12z"/><path fill="#e6866a" d="M538 449h12v13h-12zM549 413h12v13h-12zM815 425h12v13h-12zM815 390h12v13h-12zM826 437h12v13h-12zM847 378h12v13h-12zM858 378h12v13h-12zM869 378h12v13h-12zM901 378h12v13h-12zM964 425h12v13h-12z"/><path fill="#e58368" d="M527 449h12v13h-12zM581 437h12v13h-12zM591 413h12v13h-12zM869 461h12v13h-12zM879 378h12v13h-12zM890 378h12v13h-12zM933 472h12v13h-12zM943 390h12v13h-12z"/><path fill="#e48066" d="M527 425h12v13h-12zM559 413h12v13h-12zM815 413h12v13h-12zM815 401h12v13h-12zM837 437h12v13h-12zM890 472h12v13h-12zM954 449h12v13h-12zM954 401h12v13h-12z"/><path fill="#e48066" d="M527 437h12v13h-12zM549 437h12v13h-12zM559 437h12v13h-12zM570 437h12v13h-12zM570 413h12v13h-12zM581 413h12v13h-12zM858 449h12v13h-12zM943 461h12v13h-12z"/><path fill="#e37e64" d="M538 437h12v13h-12zM591 425h12v13h-12zM826 390h12v13h-12zM901 472h12v13h-12zM922 472h12v13h-12z"/><path fill="#e27b62" d="M538 425h12v13h-12zM549 425h12v13h-12zM826 425h12v13h-12zM847 437h12v13h-12zM911 472h12v13h-12zM933 390h12v13h-12z"/><path fill="#e17860" d="M559 425h12v13h-12zM879 461h12v13h-12z"/><path fill="#df765e" d="M570 425h12v13h-12zM581 425h12v13h-12zM826 413h12v13h-12zM826 401h12v13h-12zM837 425h12v13h-12zM837 390h12v13h-12zM933 461h12v13h-12zM954 437h12v13h-12zM954 413h12v13h-12z"/><path fill="#df765e" d="M847 390h12v13h-12zM869 449h12v13h-12z"/><path fill="#de735c" d="M890 461h12v13h-12zM922 390h12v13h-12zM943 449h12v13h-12zM943 401h12v13h-12zM954 425h12v13h-12z"/><path fill="#dd7059" d="M837 413h12v13h-12zM837 401h12v13h-12zM847 425h12v13h-12zM858 437h12v13h-12zM858 390h12v13h-12zM922 461h12v13h-12z"/><path fill="#dc6e57" d="M869 390h12v13h-12zM901 461h12v13h-12zM911 390h12v13h-12z"/><path fill="#db6b55" d="M879 390h12v13h-12zM911 461h12v13h-12z"/><path fill="#db6b55" d="M847 413h12v13h-12zM847 401h12v13h-12zM890 390h12v13h-12zM901 390h12v13h-12z"/><path fill="#da6853" d="M879 449h12v13h-12zM933 449h12v13h-12zM943 437h12v13h-12z"/><path fill="#d86551" d="M858 425h12v13h-12zM933 401h12v13h-12zM943 413h12v13h-12z"/><path fill="#d7634f" d="M858 401h12v13h-12zM869 437h12v13h-12zM943 425h12v13h-12z"/><path fill="#d6604d" d="M890 449h12v13h-12z"/><path fill="#d6604d" d="M858 413h12v13h-12zM922 449h12v13h-12z"/><path fill="#d55d4c" d="M869 401h12v13h-12zM901 449h12v13h-12zM922 401h12v13h-12z"/><path fill="#d35a4a" d="M911 449h12v13h-12zM933 437h12v13h-12z"/><path fill="#d25849" d="M869 425h12v13h-12zM879 437h12v13h-12zM879 401h12v13h-12zM933 413h12v13h-12z"/><path fill="#d05548" d="M869 413h12v13h-12zM911 401h12v13h-12z"/><path fill="#d05548" d="M890 401h12v13h-12zM901 401h12v13h-12zM933 425h12v13h-12z"/><path fill="#cf5246" d="M922 437h12v13h-12z"/><path fill="#ce4f45" d="M890 437h12v13h-12z"/><path fill="#cc4c44" d="M879 425h12v13h-12zM879 413h12v13h-12zM922 413h12v13h-12z"/><path fill="#cb4942" d="M901 437h12v13h-12zM911 437h12v13h-12zM922 425h12v13h-12z"/><path fill="#c94741" d="M890 425h12v13h-12zM890 413h12v13h-12zM911 413h12v13h-12z"/><path fill="#c84440" d="M901 413h12v13h-12zM911 425h12v13h-12z"/><path fill="#c6413e" d="M901 425h12v13h-12z"/></g>
<path d="M556,566 L575,565 L588,568 L592,575 L590,583 L575,586 L565,582 L556,575 Z" fill="#f4ece8" filter="url(#bl2)"/>
<g fill="#fff" stroke="#000" stroke-width="1.6" stroke-linejoin="round"><path d="M349.6,618.7 L353.5,618.2 L358.2,620.1 L363.0,623.4 L363.5,625.8 L361.1,626.3 L356.3,623.9 L351.6,621.1 Z"/><path d="M111.5,105.3 L772.3,105.2 L779.3,108.9 L778.1,112.9 L768.8,115.2 L777.0,118.3 L778.1,121.1 L774.6,129.3 L778.1,133.9 L781.7,136.3 L780.5,141.0 L774.6,145.7 L767.6,150.3 L764.1,158.5 L761.8,170.2 L761.8,186.6 L759.4,198.3 L757.1,212.4 L754.7,221.8 L747.7,228.8 L738.3,235.8 L731.3,242.8 L720.8,254.5 L713.8,268.6 L705.6,280.3 L696.2,289.7 L680.0,304.6 L671.8,311.6 L664.8,319.8 L658.9,326.8 L653.1,333.9 L646.0,339.7 L636.7,344.4 L627.3,349.1 L617.9,354.5 L608.6,358.4 L605.1,360.8 L601.6,358.4 L594.5,357.3 L587.5,354.9 L587.0,346.7 L584.0,349.1 L580.5,350.2 L578.1,346.7 L573.5,350.2 L567.6,357.3 L561.8,360.8 L554.7,361.9 L552.4,363.1 L553.6,366.6 L547.7,369.0 L540.7,373.7 L533.7,380.7 L531.3,387.7 L532.5,394.7 L530.1,404.1 L519.6,409.9 L507.9,418.1 L496.2,424.0 L486.8,428.7 L484.5,434.5 L482.1,440.4 L485.7,443.9 L496.2,448.6 L503.2,457.9 L510.2,467.3 L517.3,478.9 L521.8,486.6 L525.3,496.0 L524.9,507.0 L525.5,517.6 L527.8,518.7 L527.2,523.4 L526.0,529.3 L523.7,535.1 L520.8,538.6 L516.1,540.4 L510.2,541.0 L506.1,541.2 L504.4,543.3 L502.0,543.9 L498.5,544.5 L496.2,543.9 L495.0,546.2 L495.6,549.2 L493.3,549.8 L490.9,548.0 L489.2,546.8 L486.8,546.2 L486.2,548.0 L488.0,549.2 L489.2,551.5 L486.8,551.5 L484.5,550.3 L482.1,549.8 L481.0,551.5 L481.6,553.9 L479.8,555.0 L476.9,552.7 L475.1,552.1 L473.4,553.3 L471.6,555.0 L469.9,556.2 L468.1,557.4 L466.9,559.1 L465.2,558.5 L463.4,557.4 L461.7,556.2 L460.5,555.0 L458.7,553.9 L457.6,551.5 L460.5,550.3 L462.8,549.2 L464.0,547.4 L462.2,546.8 L460.5,544.5 L459.3,541.0 L458.7,537.5 L459.9,535.1 L461.7,532.2 L462.8,529.3 L465.2,526.9 L467.5,523.4 L468.1,521.1 L466.3,518.7 L464.6,516.4 L464.0,511.7 L463.4,507.0 L459.7,504.2 L457.4,501.8 L456.2,498.3 L459.7,496.0 L467.9,497.2 L471.4,496.0 L469.1,492.5 L466.7,486.6 L465.6,481.9 L462.0,477.3 L458.5,476.1 L453.9,474.9 L446.8,474.9 L441.0,473.8 L437.5,472.6 L432.8,470.2 L428.1,469.1 L425.8,466.7 L430.4,463.2 L432.8,459.7 L437.5,456.2 L441.0,455.7 L437.5,453.9 L435.1,449.2 L435.1,444.5 L437.5,439.8 L437.5,435.1 L433.9,432.8 L428.1,431.6 L423.4,429.3 L417.6,425.8 L414.0,426.9 L409.4,428.1 L400.5,427.5 L391.1,431.0 L381.8,434.5 L374.7,438.0 L367.7,442.7 L360.7,447.4 L353.7,449.0 L348.5,451.3 L349.0,454.4 L356.0,452.0 L360.7,448.5 L359.5,440.3 L353.7,439.2 L352.5,434.5 L356.0,432.1 L354.8,427.5 L358.3,425.1 L365.4,420.4 L370.0,415.8 L372.4,412.2 L370.0,407.6 L364.2,404.0 L363.0,401.2 L358.3,404.0 L352.5,403.3 L346.6,405.2 L343.1,409.9 L340.8,413.4 L334.9,418.1 L327.9,420.4 L322.0,423.9 L316.2,426.3 L310.3,431.0 L306.8,436.8 L302.1,441.5 L295.1,442.7 L288.1,443.9 L281.1,443.9 L275.2,446.2 L272.9,450.9 L274.0,457.9 L278.7,462.6 L285.8,466.1 L295.1,467.3 L301.0,470.8 L304.5,476.6 L303.3,483.7 L304.5,488.3 L309.2,490.7 L316.2,491.8 L320.9,488.3 L326.7,483.7 L330.2,480.1 L339.6,476.6 L349.0,479.0 L358.3,482.5 L367.7,484.8 L374.7,484.1 L380.6,486.0 L379.4,493.0 L377.1,497.7 L370.0,496.5 L363.0,500.0 L353.7,503.6 L344.3,504.7 L340.8,505.9 L339.6,509.4 L332.6,514.1 L327.9,515.3 L326.7,518.3 L323.2,521.1 L318.5,525.8 L312.7,532.8 L308.0,539.8 L306.8,546.9 L311.5,549.2 L318.5,551.6 L325.6,553.9 L330.2,560.9 L334.9,570.3 L339.6,579.7 L340.1,584.8 L342.5,589.5 L342.0,597.2 L344.9,600.5 L351.6,602.9 L354.9,607.7 L359.2,611.5 L363.0,615.3 L364.0,620.1 L357.3,618.2 L351.6,617.2 L345.8,616.3 L341.1,613.4 L336.3,611.5 L331.5,612.5 L325.8,614.8 L324.8,615.8 L328.6,615.8 L334.4,613.9 L338.2,614.4 L341.1,617.2 L345.8,620.1 L351.6,623.0 L356.3,625.8 L361.1,627.7 L362.1,633.5 L364.0,639.2 L361.1,640.6 L355.4,642.1 L349.6,644.9 L345.8,647.8 L343.0,651.1 L338.2,651.6 L333.4,651.1 L328.6,654.9 L331.5,655.4 L336.3,655.4 L338.2,658.3 L343.0,657.3 L347.7,655.4 L351.6,654.0 L355.4,656.4 L359.2,661.1 L364.9,664.0 L366.8,665.0 L364.4,668.7 L366.8,671.2 L365.6,676.1 L364.4,681.1 L359.4,683.6 L356.9,686.1 L359.4,689.8 L358.2,694.7 L359.4,700.9 L355.7,702.2 L352.0,703.4 L349.5,702.2 L347.0,704.7 L343.3,707.1 L340.8,708.4 L339.6,710.9 L338.3,714.6 L337.1,717.1 L337.7,720.8 L335.8,723.3 L332.1,727.0 L329.6,729.5 L327.1,733.2 L325.9,738.2 L323.4,741.3 L320.9,740.0 L320.3,736.9 L317.2,736.3 L316.0,738.2 L317.2,740.6 L319.7,741.9 L320.9,745.6 L318.5,749.3 L314.7,752.4 L311.0,755.5 L308.5,754.3 L306.1,753.1 L308.5,755.5 L310.4,756.8 L313.5,756.2 L316.0,758.0 L316.6,761.7 L317.2,765.5 L318.5,767.9 L317.2,769.2 L314.7,769.2 L311.0,770.4 L308.5,771.7 L306.1,774.1 L303.6,777.9 L299.9,780.3 L297.4,782.8 L294.9,785.3 L292.4,787.8 L287.4,789.0 L283.2,789.0 L281.7,791.0 L278.8,792.4 L280.7,793.4 L282.7,794.4 L282.2,796.3 L280.7,798.3 L278.8,800.2 L276.8,802.2 L274.9,804.1 L272.9,805.6 L271.0,806.6 L269.0,807.6 L268.5,810.0 L267.1,811.0 L266.1,810.0 L264.1,811.5 L261.2,812.0 L259.3,812.0 L258.3,813.9 L256.3,815.9 L253.4,817.8 L252.4,819.8 L251.0,821.7 L250.5,824.1 L249.5,826.6 L247.6,827.6 L240.2,828.9 L236.1,830.2 L232.0,830.9 L227.9,830.9 L223.8,832.3 L219.7,832.3 L215.6,833.7 L212.9,835.0 L210.2,833.0 L207.4,835.0 L204.7,837.1 L202.7,837.8 L202.0,840.5 L200.6,843.2 L199.2,845.3 L196.5,843.9 L193.8,845.3 L193.1,842.5 L195.8,840.5 L195.2,839.1 L192.4,837.8 L190.4,835.0 L187.6,832.3 L188.3,828.2 L187.6,824.8 L185.6,825.5 L184.2,826.8 L182.2,829.6 L185.6,830.2 L187.0,833.7 L187.0,837.8 L187.0,841.9 L186.3,843.9 L184.2,845.3 L181.5,846.6 L178.8,848.0 L176.7,846.0 L175.3,847.3 L174.7,849.4 L173.3,851.4 L170.6,852.8 L167.8,853.5 L165.1,854.1 L163.1,852.8 L162.4,850.7 L161.0,852.8 L159.6,854.1 L156.9,854.8 L154.2,853.5 L151.4,854.1 L148.7,856.2 L146.0,858.2 L143.2,859.6 L140.5,860.3 L136.4,861.7 L133.7,861.7 L131.0,863.7 L126.9,864.4 L124.1,865.8 L122.1,867.8 L120.0,866.4 L119.3,868.5 L117.3,870.5 L115.2,872.6 L113.9,874.6 L114.6,876.7 L117.3,877.4 L118.0,880.1 L120.0,882.8 L122.1,884.9 L122.1,887.6 L120.0,889.7 L117.3,890.3 L114.6,891.0 L109.5,891.0 Z"/><path d="M110.5,898.1 L113.2,896.5 L118.7,896.2 L121.4,897.2 L124.1,895.1 L126.2,894.9 L127.5,896.5 L130.3,898.7 L130.0,900.0 L110.0,900.0 Z"/><path d="M790.0,104.0 L790.0,105.6 L789.0,114.0 L788.0,124.0 L787.0,134.0 L787.0,142.0 L789.0,147.0 L794.0,153.0 L797.0,160.0 L796.0,174.0 L796.0,186.0 L795.0,198.0 L793.0,208.0 L791.0,218.0 L794.0,224.0 L797.0,232.0 L796.0,240.0 L793.0,248.0 L792.0,258.0 L790.0,268.0 L791.0,277.0 L794.0,283.0 L796.0,282.0 L799.0,274.0 L803.0,268.0 L808.0,266.0 L814.0,267.0 L820.0,269.0 L822.0,274.0 L824.0,281.0 L826.0,271.0 L824.0,266.0 L821.0,264.0 L818.0,260.0 L813.0,254.0 L808.0,248.0 L805.0,240.0 L806.0,232.0 L809.0,224.0 L812.0,216.0 L815.0,208.0 L820.0,205.0 L828.0,204.0 L836.0,206.0 L842.0,210.0 L847.0,214.0 L851.0,220.0 L850.0,216.0 L848.0,213.0 L843.0,206.0 L838.0,194.0 L833.0,182.0 L828.0,166.0 L822.0,152.0 L818.0,140.0 L819.0,130.0 L820.0,120.0 L818.0,105.6 L818.0,104.0 Z"/><path d="M791.7,293.9 L798.9,298.7 L806.0,305.9 L813.2,311.8 L820.4,317.8 L827.6,322.6 L834.7,326.2 L841.9,327.4 L849.1,329.8 L856.2,328.6 L861.0,325.0 L864.6,322.1 L863.4,327.4 L861.0,333.3 L859.8,339.3 L863.4,344.1 L869.4,346.0 L873.0,345.3 L868.2,347.7 L861.0,350.1 L853.8,352.5 L846.7,353.7 L839.5,356.0 L832.3,359.6 L826.4,365.6 L822.8,370.4 L819.2,375.2 L815.6,375.2 L810.8,372.8 L806.0,370.4 L804.9,371.2 L800.3,368.9 L794.8,365.8 L790.1,363.4 L786.2,363.4 L780.7,364.2 L775.3,366.5 L771.4,368.9 L768.3,365.8 L765.1,363.8 L762.0,363.4 L758.9,365.0 L757.3,368.1 L758.5,371.2 L761.2,373.2 L764.3,374.3 L767.5,375.1 L770.6,377.5 L773.7,379.8 L774.5,382.2 L770.6,382.5 L765.9,381.8 L762.8,382.9 L759.7,386.8 L756.5,389.6 L753.4,390.7 L751.5,389.2 L750.7,386.1 L751.1,381.4 L751.5,377.5 L749.5,374.3 L747.2,370.4 L746.8,366.5 L747.2,362.6 L748.7,360.7 L752.6,358.7 L756.5,356.4 L759.7,353.3 L760.1,350.9 L758.5,347.8 L759.7,345.9 L762.8,345.9 L767.5,347.8 L771.4,348.6 L775.3,349.0 L778.4,347.8 L780.4,344.7 L780.0,340.0 L783.3,334.5 L784.5,327.4 L785.7,320.2 L786.9,313.0 L785.7,305.9 L785.7,298.7 L788.1,295.1 Z"/><path d="M865.8,334.5 L870.6,330.9 L877.7,322.6 L882.5,319.0 L889.7,320.2 L884.9,321.4 L878.9,326.2 L873.0,332.1 L868.2,336.9 Z"/><path d="M896.9,319.0 L901.6,314.2 L908.8,308.2 L914.8,303.5 L918.4,298.7 L923.2,298.7 L930.3,296.3 L937.5,293.9 L938.7,297.5 L932.7,299.9 L925.5,302.3 L919.6,304.7 L913.6,308.2 L906.4,313.0 L901.6,317.8 L898.1,320.7 Z"/><path d="M951.8,291.5 L957.8,286.7 L963.8,283.1 L968.6,280.0 L968.6,284.3 L962.6,287.2 L955.4,291.5 L952.3,292.7 Z"/><path d="M780.5,391.2 L781.7,398.7 L781.7,405.8 L784.0,410.4 L788.7,415.1 L792.2,421.0 L793.4,429.2 L792.2,438.5 L789.8,446.7 L784.0,450.2 L782.8,457.3 L778.1,461.9 L774.6,464.3 L772.3,469.0 L771.1,476.0 L771.1,485.4 L769.9,492.4 L766.4,499.4 L764.1,506.4 L765.3,513.5 L767.6,520.5 L767.6,525.2 L762.9,527.5 L758.2,532.2 L754.7,536.9 L751.2,541.6 L747.7,543.9 L746.5,539.2 L747.7,534.5 L751.2,531.0 L750.0,527.5 L746.5,528.7 L744.2,532.2 L744.2,539.2 L740.7,539.2 L736.0,535.7 L733.7,534.5 L732.5,539.2 L729.0,543.9 L726.6,548.6 L723.1,549.7 L720.8,545.1 L721.9,541.6 L718.4,541.6 L714.9,546.2 L711.4,550.9 L705.6,552.1 L699.7,552.1 L693.9,552.1 L691.5,549.7 L688.0,547.4 L685.7,543.9 L683.3,541.6 L679.8,545.1 L678.6,549.7 L679.8,554.4 L682.1,557.9 L678.6,561.5 L675.1,566.1 L670.4,569.7 L665.8,574.3 L661.1,577.8 L656.4,577.8 L653.0,576.3 L650.1,572.2 L647.2,566.9 L646.0,561.7 L647.8,558.1 L650.7,555.8 L653.0,552.9 L650.7,551.1 L644.8,551.1 L640.1,549.4 L634.3,548.4 L628.4,549.4 L624.9,552.3 L620.2,554.6 L612.0,556.4 L605.0,557.6 L599.2,559.9 L595.7,561.1 L592.1,559.9 L588.6,558.7 L585.7,561.1 L585.1,565.2 L583.4,568.7 L579.3,566.3 L573.4,565.2 L566.4,566.3 L557.0,565.8 L557.1,564.8 L556.2,560.4 L558.0,557.8 L561.5,556.9 L566.7,554.2 L572.0,550.7 L577.3,546.3 L582.5,542.0 L587.8,537.6 L593.1,533.2 L598.3,530.5 L605.4,529.7 L612.4,530.5 L619.4,529.7 L626.4,528.8 L633.5,527.9 L640.5,527.0 L647.5,526.1 L649.3,527.9 L652.8,529.7 L658.1,529.7 L663.3,527.0 L666.0,523.5 L666.9,515.8 L670.4,512.3 L675.1,507.6 L679.8,501.8 L679.8,494.7 L681.0,488.9 L684.5,485.4 L690.3,483.0 L693.9,484.2 L691.5,486.5 L686.8,488.9 L684.5,492.4 L685.7,498.2 L689.2,500.6 L692.7,498.2 L697.4,494.7 L703.2,492.4 L710.2,490.0 L717.3,484.2 L720.8,479.5 L726.6,473.7 L733.7,469.0 L738.3,463.1 L743.0,454.9 L745.4,447.9 L747.7,440.9 L750.0,433.9 L750.0,428.0 L745.4,425.7 L748.9,417.5 L750.0,410.4 L752.4,405.8 L758.2,403.4 L759.4,401.1 L757.1,396.4 L760.6,395.2 L764.1,395.9 L765.3,401.1 L767.6,403.4 L773.5,403.4 L775.8,399.9 L774.6,396.4 L769.9,396.4 L767.6,392.9 L768.8,390.5 L774.6,389.8 Z"/><path d="M550.5,568.8 L555.1,568.4 L558.2,569.9 L559.7,573.0 L561.6,575.3 L565.0,576.4 L568.9,576.0 L571.9,576.8 L573.4,579.1 L572.7,581.4 L571.1,582.9 L573.4,584.4 L576.5,586.0 L578.0,589.0 L579.9,592.1 L578.8,595.1 L576.5,598.2 L574.2,601.2 L572.7,604.3 L571.1,608.1 L570.0,613.4 L568.9,618.0 L567.3,622.6 L565.0,627.2 L562.7,630.2 L559.7,632.5 L556.6,634.8 L553.6,636.3 L552.1,635.6 L552.4,632.5 L553.6,628.7 L554.0,625.6 L553.6,622.6 L552.1,621.1 L550.5,621.8 L549.8,624.1 L549.0,627.2 L548.6,630.2 L547.5,631.8 L544.4,631.0 L542.1,629.5 L541.0,627.2 L542.9,624.9 L543.3,621.1 L542.1,618.0 L541.8,614.2 L541.8,611.9 L542.9,610.4 L545.2,608.9 L547.5,606.6 L549.4,603.5 L550.2,600.5 L550.5,598.9 L549.4,596.6 L548.6,593.6 L547.1,590.5 L545.2,587.5 L542.9,586.0 L541.0,586.7 L540.2,589.0 L541.4,592.1 L542.9,593.6 L544.4,594.4 L544.4,596.3 L542.9,596.6 L540.6,595.9 L538.3,596.3 L536.0,597.4 L533.7,598.9 L532.2,597.4 L531.1,593.6 L530.3,590.5 L529.5,588.2 L529.2,585.2 L528.4,582.9 L530.7,582.1 L533.4,580.6 L536.0,579.1 L539.1,577.6 L542.1,576.4 L545.2,574.9 L547.1,572.6 L548.2,570.7 Z"/><path d="M588.6,579.8 L592.1,575.1 L596.8,568.1 L601.5,565.2 L607.4,566.9 L613.2,565.2 L615.6,561.7 L620.2,559.9 L624.9,559.3 L629.6,559.9 L634.3,561.1 L637.2,561.7 L637.8,565.8 L638.4,570.4 L634.3,573.9 L629.6,577.5 L626.1,582.7 L620.2,579.2 L615.0,578.0 L609.7,579.8 L605.0,584.5 L602.7,589.2 L600.3,592.7 L596.8,595.0 L594.5,593.9 L592.1,590.3 L591.0,586.8 L589.8,583.3 Z"/><path d="M537.6,602.7 L539.8,601.2 L541.8,602.0 L541.0,605.8 L539.1,608.9 L536.8,608.1 Z"/><path d="M639.0,561.1 L640.7,557.6 L643.1,553.5 L644.2,554.6 L642.5,558.7 L640.1,561.7 Z"/><path d="M356.8,772.8 L363.6,775.5 L365.0,781.0 L362.2,789.2 L360.9,797.4 L358.1,805.6 L355.4,813.8 L351.3,821.9 L347.2,830.1 L344.5,837.0 L342.6,843.8 L341.7,850.6 L339.0,849.3 L336.3,842.4 L332.2,837.0 L328.1,830.1 L326.2,821.9 L326.7,812.4 L330.8,804.2 L336.3,796.0 L341.7,787.8 L347.2,779.6 L352.7,774.1 Z"/><path d="M524.1,551.0 L526.4,553.4 L525.3,559.2 L522.9,563.9 L520.6,561.6 L521.8,555.7 Z"/><path d="M712.6,473.7 L714.9,470.1 L717.3,466.6 L719.6,465.5 L718.4,469.0 L720.8,472.5 L716.1,474.8 Z"/><path d="M487.7,753.6 L486.5,750.0 L488.9,746.5 L491.2,743.0 L494.7,740.7 L497.1,738.3 L499.9,735.5 L501.8,737.2 L499.4,740.7 L495.9,743.0 L492.4,746.5 L490.0,751.2 Z"/><path d="M520.5,702.0 L524.0,699.7 L529.8,696.7 L531.7,698.5 L527.5,702.0 L524.0,705.6 L521.0,706.0 Z"/><ellipse cx="463.7" cy="581.5" rx="7.4" ry="3.4" transform="rotate(-5 463.7 581.5)"/><ellipse cx="548.0" cy="652.9" rx="3.0" ry="2.6" transform="rotate(0 548.0 652.9)"/><ellipse cx="558.3" cy="646.5" rx="1.6" ry="4.6" transform="rotate(25 558.3 646.5)"/><ellipse cx="515.0" cy="712.8" rx="1.3" ry="2.4" transform="rotate(0 515.0 712.8)"/><ellipse cx="437.5" cy="784.0" rx="1.8" ry="1.4" transform="rotate(0 437.5 784.0)"/><ellipse cx="405.3" cy="795.0" rx="2.8" ry="1.6" transform="rotate(0 405.3 795.0)"/><ellipse cx="413.5" cy="792.5" rx="1.2" ry="2.0" transform="rotate(30 413.5 792.5)"/><ellipse cx="607.2" cy="513.6" rx="2.2" ry="2.0" transform="rotate(0 607.2 513.6)"/><ellipse cx="531.6" cy="571.8" rx="1.4" ry="1.4" transform="rotate(0 531.6 571.8)"/><ellipse cx="518.0" cy="590.5" rx="1.3" ry="3.0" transform="rotate(20 518.0 590.5)"/><ellipse cx="510.6" cy="597.3" rx="2.6" ry="2.2" transform="rotate(0 510.6 597.3)"/><ellipse cx="531.6" cy="621.0" rx="1.0" ry="2.0" transform="rotate(20 531.6 621.0)"/><ellipse cx="894.4" cy="334.5" rx="3.0" ry="1.6" transform="rotate(-10 894.4 334.5)"/><ellipse cx="771.8" cy="298.5" rx="1.2" ry="2.2" transform="rotate(0 771.8 298.5)"/><ellipse cx="776.2" cy="302.0" rx="1.8" ry="1.4" transform="rotate(0 776.2 302.0)"/><ellipse cx="739.1" cy="373.3" rx="1.6" ry="2.0" transform="rotate(0 739.1 373.3)"/><ellipse cx="362.8" cy="879.3" rx="1.0" ry="1.6" transform="rotate(20 362.8 879.3)"/><ellipse cx="366.3" cy="887.5" rx="1.0" ry="1.6" transform="rotate(20 366.3 887.5)"/><ellipse cx="373.1" cy="662.0" rx="2.0" ry="3.0" transform="rotate(20 373.1 662.0)"/><ellipse cx="370.0" cy="666.0" rx="1.5" ry="1.5" transform="rotate(0 370.0 666.0)"/><ellipse cx="508.0" cy="545.0" rx="2.2" ry="2.0" transform="rotate(0 508.0 545.0)"/><ellipse cx="455.0" cy="547.0" rx="2.2" ry="1.4" transform="rotate(30 455.0 547.0)"/><ellipse cx="494.5" cy="547.5" rx="1.5" ry="1.5" transform="rotate(0 494.5 547.5)"/><ellipse cx="453.0" cy="553.0" rx="1.6" ry="1.0" transform="rotate(-30 453.0 553.0)"/></g>
<g fill="#000"><circle cx="737.9" cy="549.0" r="1.5"/><circle cx="555.7" cy="483.6" r="1.6"/><circle cx="746.5" cy="588.1" r="1.6"/><circle cx="795.9" cy="739.8" r="1.5"/><circle cx="886.6" cy="341.0" r="1.2"/><circle cx="879.5" cy="343.5" r="1.0"/><circle cx="875.0" cy="345.0" r="1.0"/><circle cx="590.4" cy="563.0" r="1.5"/><circle cx="628.2" cy="554.2" r="1.6"/><circle cx="451.5" cy="483.1" r="1.4"/><circle cx="451.5" cy="501.2" r="1.3"/><circle cx="459.7" cy="506.5" r="1.2"/><circle cx="424.0" cy="472.7" r="1.3"/></g>
<g fill="#000"><circle cx="724.6" cy="271.2" r="1.7"/><circle cx="708.6" cy="289.0" r="1.7"/><circle cx="692.6" cy="306.7" r="1.7"/><circle cx="708.6" cy="306.7" r="1.7"/><circle cx="724.6" cy="306.7" r="1.7"/><circle cx="740.6" cy="306.7" r="1.7"/><circle cx="676.6" cy="324.5" r="1.7"/><circle cx="692.6" cy="324.5" r="1.7"/><circle cx="708.6" cy="324.5" r="1.7"/><circle cx="724.6" cy="324.5" r="1.7"/><circle cx="740.6" cy="324.5" r="1.7"/><circle cx="660.6" cy="342.2" r="1.7"/><circle cx="676.6" cy="342.2" r="1.7"/><circle cx="692.6" cy="342.2" r="1.7"/><circle cx="708.6" cy="342.2" r="1.7"/><circle cx="724.6" cy="342.2" r="1.7"/><circle cx="580.6" cy="360.0" r="1.7"/><circle cx="612.6" cy="360.0" r="1.7"/><circle cx="628.6" cy="360.0" r="1.7"/><circle cx="676.6" cy="360.0" r="1.7"/><circle cx="692.6" cy="360.0" r="1.7"/><circle cx="708.6" cy="360.0" r="1.7"/><circle cx="724.6" cy="360.0" r="1.7"/><circle cx="564.7" cy="413.2" r="1.7"/><circle cx="580.6" cy="413.2" r="1.7"/><circle cx="596.6" cy="413.2" r="1.7"/><circle cx="852.5" cy="413.2" r="1.7"/><circle cx="868.5" cy="413.2" r="1.7"/><circle cx="884.5" cy="413.2" r="1.7"/><circle cx="900.5" cy="413.2" r="1.7"/><circle cx="916.5" cy="413.2" r="1.7"/><circle cx="932.5" cy="413.2" r="1.7"/><circle cx="324.8" cy="431.0" r="1.7"/><circle cx="548.7" cy="431.0" r="1.7"/><circle cx="564.7" cy="431.0" r="1.7"/><circle cx="580.6" cy="431.0" r="1.7"/><circle cx="596.6" cy="431.0" r="1.7"/><circle cx="612.6" cy="431.0" r="1.7"/><circle cx="852.5" cy="431.0" r="1.7"/><circle cx="868.5" cy="431.0" r="1.7"/><circle cx="884.5" cy="431.0" r="1.7"/><circle cx="900.5" cy="431.0" r="1.7"/><circle cx="916.5" cy="431.0" r="1.7"/><circle cx="932.5" cy="431.0" r="1.7"/><circle cx="948.5" cy="431.0" r="1.7"/><circle cx="564.7" cy="448.7" r="1.7"/><circle cx="580.6" cy="448.7" r="1.7"/><circle cx="596.6" cy="448.7" r="1.7"/><circle cx="868.5" cy="448.7" r="1.7"/><circle cx="884.5" cy="448.7" r="1.7"/><circle cx="900.5" cy="448.7" r="1.7"/><circle cx="916.5" cy="448.7" r="1.7"/><circle cx="932.5" cy="448.7" r="1.7"/><circle cx="948.5" cy="448.7" r="1.7"/><circle cx="868.5" cy="466.5" r="1.7"/><circle cx="884.5" cy="466.5" r="1.7"/><circle cx="900.5" cy="466.5" r="1.7"/><circle cx="916.5" cy="466.5" r="1.7"/><circle cx="932.5" cy="466.5" r="1.7"/><circle cx="948.5" cy="466.5" r="1.7"/><circle cx="964.5" cy="466.5" r="1.7"/><circle cx="452.7" cy="484.2" r="1.7"/><circle cx="868.5" cy="484.2" r="1.7"/><circle cx="884.5" cy="484.2" r="1.7"/><circle cx="900.5" cy="484.2" r="1.7"/><circle cx="916.5" cy="484.2" r="1.7"/><circle cx="932.5" cy="484.2" r="1.7"/><circle cx="948.5" cy="484.2" r="1.7"/><circle cx="964.5" cy="484.2" r="1.7"/><circle cx="452.7" cy="501.9" r="1.7"/><circle cx="884.5" cy="501.9" r="1.7"/><circle cx="900.5" cy="501.9" r="1.7"/><circle cx="916.5" cy="501.9" r="1.7"/><circle cx="932.5" cy="501.9" r="1.7"/><circle cx="948.5" cy="501.9" r="1.7"/><circle cx="964.5" cy="501.9" r="1.7"/><circle cx="884.5" cy="519.7" r="1.7"/><circle cx="900.5" cy="519.7" r="1.7"/><circle cx="916.5" cy="519.7" r="1.7"/><circle cx="932.5" cy="519.7" r="1.7"/><circle cx="948.5" cy="519.7" r="1.7"/><circle cx="964.5" cy="519.7" r="1.7"/><circle cx="932.5" cy="537.4" r="1.7"/><circle cx="948.5" cy="537.4" r="1.7"/><circle cx="884.5" cy="679.4" r="1.7"/><circle cx="868.5" cy="697.2" r="1.7"/><circle cx="884.5" cy="697.2" r="1.7"/><circle cx="900.5" cy="697.2" r="1.7"/><circle cx="852.5" cy="714.9" r="1.7"/><circle cx="868.5" cy="714.9" r="1.7"/><circle cx="884.5" cy="714.9" r="1.7"/><circle cx="900.5" cy="714.9" r="1.7"/><circle cx="852.5" cy="732.7" r="1.7"/><circle cx="868.5" cy="732.7" r="1.7"/><circle cx="884.5" cy="732.7" r="1.7"/><circle cx="900.5" cy="732.7" r="1.7"/><circle cx="676.6" cy="750.4" r="1.7"/><circle cx="692.6" cy="750.4" r="1.7"/><circle cx="708.6" cy="750.4" r="1.7"/><circle cx="852.5" cy="750.4" r="1.7"/><circle cx="868.5" cy="750.4" r="1.7"/><circle cx="884.5" cy="750.4" r="1.7"/><circle cx="900.5" cy="750.4" r="1.7"/><circle cx="612.6" cy="768.2" r="1.7"/><circle cx="628.6" cy="768.2" r="1.7"/><circle cx="644.6" cy="768.2" r="1.7"/><circle cx="660.6" cy="768.2" r="1.7"/><circle cx="676.6" cy="768.2" r="1.7"/><circle cx="692.6" cy="768.2" r="1.7"/><circle cx="708.6" cy="768.2" r="1.7"/><circle cx="852.5" cy="768.2" r="1.7"/><circle cx="868.5" cy="768.2" r="1.7"/><circle cx="884.5" cy="768.2" r="1.7"/><circle cx="596.6" cy="785.9" r="1.7"/><circle cx="612.6" cy="785.9" r="1.7"/><circle cx="628.6" cy="785.9" r="1.7"/><circle cx="644.6" cy="785.9" r="1.7"/><circle cx="660.6" cy="785.9" r="1.7"/><circle cx="676.6" cy="785.9" r="1.7"/><circle cx="692.6" cy="785.9" r="1.7"/><circle cx="852.5" cy="785.9" r="1.7"/><circle cx="868.5" cy="785.9" r="1.7"/><circle cx="884.5" cy="785.9" r="1.7"/><circle cx="580.6" cy="803.6" r="1.7"/><circle cx="596.6" cy="803.6" r="1.7"/><circle cx="612.6" cy="803.6" r="1.7"/><circle cx="628.6" cy="803.6" r="1.7"/><circle cx="644.6" cy="803.6" r="1.7"/><circle cx="660.6" cy="803.6" r="1.7"/><circle cx="676.6" cy="803.6" r="1.7"/><circle cx="692.6" cy="803.6" r="1.7"/><circle cx="820.6" cy="803.6" r="1.7"/><circle cx="836.5" cy="803.6" r="1.7"/><circle cx="852.5" cy="803.6" r="1.7"/><circle cx="868.5" cy="803.6" r="1.7"/><circle cx="468.7" cy="821.4" r="1.7"/><circle cx="484.7" cy="821.4" r="1.7"/><circle cx="500.7" cy="821.4" r="1.7"/><circle cx="516.7" cy="821.4" r="1.7"/><circle cx="532.7" cy="821.4" r="1.7"/><circle cx="548.7" cy="821.4" r="1.7"/><circle cx="564.7" cy="821.4" r="1.7"/><circle cx="580.6" cy="821.4" r="1.7"/><circle cx="596.6" cy="821.4" r="1.7"/><circle cx="612.6" cy="821.4" r="1.7"/><circle cx="628.6" cy="821.4" r="1.7"/><circle cx="644.6" cy="821.4" r="1.7"/><circle cx="660.6" cy="821.4" r="1.7"/><circle cx="676.6" cy="821.4" r="1.7"/><circle cx="804.6" cy="821.4" r="1.7"/><circle cx="820.6" cy="821.4" r="1.7"/><circle cx="836.5" cy="821.4" r="1.7"/><circle cx="852.5" cy="821.4" r="1.7"/><circle cx="868.5" cy="821.4" r="1.7"/><circle cx="436.7" cy="839.1" r="1.7"/><circle cx="452.7" cy="839.1" r="1.7"/><circle cx="468.7" cy="839.1" r="1.7"/><circle cx="484.7" cy="839.1" r="1.7"/><circle cx="500.7" cy="839.1" r="1.7"/><circle cx="516.7" cy="839.1" r="1.7"/><circle cx="532.7" cy="839.1" r="1.7"/><circle cx="548.7" cy="839.1" r="1.7"/><circle cx="564.7" cy="839.1" r="1.7"/><circle cx="580.6" cy="839.1" r="1.7"/><circle cx="596.6" cy="839.1" r="1.7"/><circle cx="612.6" cy="839.1" r="1.7"/><circle cx="628.6" cy="839.1" r="1.7"/><circle cx="644.6" cy="839.1" r="1.7"/><circle cx="660.6" cy="839.1" r="1.7"/><circle cx="676.6" cy="839.1" r="1.7"/><circle cx="692.6" cy="839.1" r="1.7"/><circle cx="708.6" cy="839.1" r="1.7"/><circle cx="724.6" cy="839.1" r="1.7"/><circle cx="740.6" cy="839.1" r="1.7"/><circle cx="756.6" cy="839.1" r="1.7"/><circle cx="772.6" cy="839.1" r="1.7"/><circle cx="788.6" cy="839.1" r="1.7"/><circle cx="804.6" cy="839.1" r="1.7"/><circle cx="820.6" cy="839.1" r="1.7"/><circle cx="836.5" cy="839.1" r="1.7"/><circle cx="852.5" cy="839.1" r="1.7"/><circle cx="180.8" cy="856.9" r="1.7"/><circle cx="420.7" cy="856.9" r="1.7"/><circle cx="436.7" cy="856.9" r="1.7"/><circle cx="452.7" cy="856.9" r="1.7"/><circle cx="468.7" cy="856.9" r="1.7"/><circle cx="484.7" cy="856.9" r="1.7"/><circle cx="500.7" cy="856.9" r="1.7"/><circle cx="516.7" cy="856.9" r="1.7"/><circle cx="532.7" cy="856.9" r="1.7"/><circle cx="548.7" cy="856.9" r="1.7"/><circle cx="564.7" cy="856.9" r="1.7"/><circle cx="580.6" cy="856.9" r="1.7"/><circle cx="596.6" cy="856.9" r="1.7"/><circle cx="612.6" cy="856.9" r="1.7"/><circle cx="628.6" cy="856.9" r="1.7"/><circle cx="644.6" cy="856.9" r="1.7"/><circle cx="660.6" cy="856.9" r="1.7"/><circle cx="676.6" cy="856.9" r="1.7"/><circle cx="692.6" cy="856.9" r="1.7"/><circle cx="708.6" cy="856.9" r="1.7"/><circle cx="724.6" cy="856.9" r="1.7"/><circle cx="740.6" cy="856.9" r="1.7"/><circle cx="756.6" cy="856.9" r="1.7"/><circle cx="772.6" cy="856.9" r="1.7"/><circle cx="788.6" cy="856.9" r="1.7"/><circle cx="804.6" cy="856.9" r="1.7"/><circle cx="820.6" cy="856.9" r="1.7"/><circle cx="836.5" cy="856.9" r="1.7"/><circle cx="852.5" cy="856.9" r="1.7"/><circle cx="868.5" cy="856.9" r="1.7"/><circle cx="132.8" cy="874.6" r="1.7"/><circle cx="148.8" cy="874.6" r="1.7"/><circle cx="164.8" cy="874.6" r="1.7"/><circle cx="180.8" cy="874.6" r="1.7"/><circle cx="404.7" cy="874.6" r="1.7"/><circle cx="420.7" cy="874.6" r="1.7"/><circle cx="436.7" cy="874.6" r="1.7"/><circle cx="452.7" cy="874.6" r="1.7"/><circle cx="468.7" cy="874.6" r="1.7"/><circle cx="484.7" cy="874.6" r="1.7"/><circle cx="500.7" cy="874.6" r="1.7"/><circle cx="516.7" cy="874.6" r="1.7"/><circle cx="532.7" cy="874.6" r="1.7"/><circle cx="548.7" cy="874.6" r="1.7"/><circle cx="564.7" cy="874.6" r="1.7"/><circle cx="580.6" cy="874.6" r="1.7"/><circle cx="596.6" cy="874.6" r="1.7"/><circle cx="612.6" cy="874.6" r="1.7"/><circle cx="628.6" cy="874.6" r="1.7"/><circle cx="644.6" cy="874.6" r="1.7"/><circle cx="660.6" cy="874.6" r="1.7"/><circle cx="676.6" cy="874.6" r="1.7"/><circle cx="692.6" cy="874.6" r="1.7"/><circle cx="708.6" cy="874.6" r="1.7"/><circle cx="724.6" cy="874.6" r="1.7"/><circle cx="740.6" cy="874.6" r="1.7"/><circle cx="756.6" cy="874.6" r="1.7"/><circle cx="772.6" cy="874.6" r="1.7"/><circle cx="788.6" cy="874.6" r="1.7"/><circle cx="804.6" cy="874.6" r="1.7"/><circle cx="820.6" cy="874.6" r="1.7"/><circle cx="836.5" cy="874.6" r="1.7"/><circle cx="852.5" cy="874.6" r="1.7"/><circle cx="868.5" cy="874.6" r="1.7"/><circle cx="132.8" cy="892.4" r="1.7"/><circle cx="148.8" cy="892.4" r="1.7"/><circle cx="164.8" cy="892.4" r="1.7"/><circle cx="180.8" cy="892.4" r="1.7"/><circle cx="196.8" cy="892.4" r="1.7"/><circle cx="212.8" cy="892.4" r="1.7"/><circle cx="388.7" cy="892.4" r="1.7"/><circle cx="404.7" cy="892.4" r="1.7"/><circle cx="420.7" cy="892.4" r="1.7"/><circle cx="436.7" cy="892.4" r="1.7"/><circle cx="452.7" cy="892.4" r="1.7"/><circle cx="468.7" cy="892.4" r="1.7"/><circle cx="484.7" cy="892.4" r="1.7"/><circle cx="500.7" cy="892.4" r="1.7"/><circle cx="516.7" cy="892.4" r="1.7"/><circle cx="532.7" cy="892.4" r="1.7"/><circle cx="548.7" cy="892.4" r="1.7"/><circle cx="564.7" cy="892.4" r="1.7"/><circle cx="580.6" cy="892.4" r="1.7"/><circle cx="596.6" cy="892.4" r="1.7"/><circle cx="612.6" cy="892.4" r="1.7"/><circle cx="628.6" cy="892.4" r="1.7"/><circle cx="644.6" cy="892.4" r="1.7"/><circle cx="660.6" cy="892.4" r="1.7"/><circle cx="676.6" cy="892.4" r="1.7"/><circle cx="692.6" cy="892.4" r="1.7"/><circle cx="708.6" cy="892.4" r="1.7"/><circle cx="724.6" cy="892.4" r="1.7"/><circle cx="740.6" cy="892.4" r="1.7"/><circle cx="756.6" cy="892.4" r="1.7"/><circle cx="772.6" cy="892.4" r="1.7"/><circle cx="788.6" cy="892.4" r="1.7"/><circle cx="804.6" cy="892.4" r="1.7"/><circle cx="820.6" cy="892.4" r="1.7"/><circle cx="836.5" cy="892.4" r="1.7"/><circle cx="852.5" cy="892.4" r="1.7"/><circle cx="868.5" cy="892.4" r="1.7"/><circle cx="884.5" cy="892.4" r="1.7"/></g>
<ellipse cx="881.5" cy="862.4" rx="7.3" ry="9.1" fill="none" stroke="#2a1a16" stroke-width="5.2"/>
<path d="M877.3,864.6 q2.2,-2.2 4.4,0 t4.4,0 M877.3,868.2 q2.2,-2.2 4.4,0 t4.4,0" fill="none" stroke="#2a1a16" stroke-width="1.2"/>
<text x="893.3" y="874" font-size="32" textLength="55.5" lengthAdjust="spacingAndGlyphs" style="fill:#2a1a16;font-weight:900">CPC</text>
</g>
<rect x="111.5" y="105.3" width="853.0" height="793.0" fill="none" stroke="#000" stroke-width="1.3"/>
<line x1="106.5" y1="188.4" x2="111.5" y2="188.4" stroke="#000" stroke-width="1.2"/><text x="11.6" y="202.4" font-size="37" textLength="91.2" lengthAdjust="spacingAndGlyphs">50°N</text><line x1="106.5" y1="425.0" x2="111.5" y2="425.0" stroke="#000" stroke-width="1.2"/><text x="11.6" y="439.0" font-size="37" textLength="91.2" lengthAdjust="spacingAndGlyphs">40°N</text><line x1="106.5" y1="661.7" x2="111.5" y2="661.7" stroke="#000" stroke-width="1.2"/><text x="11.6" y="675.7" font-size="37" textLength="91.2" lengthAdjust="spacingAndGlyphs">30°N</text><line x1="106.5" y1="898.3" x2="111.5" y2="898.3" stroke="#000" stroke-width="1.2"/><text x="11.6" y="912.3" font-size="37" textLength="91.2" lengthAdjust="spacingAndGlyphs">20°N</text><line x1="111.5" y1="898.3" x2="111.5" y2="903.3" stroke="#000" stroke-width="1.2"/><text x="111.5" y="945" font-size="37" text-anchor="middle">110°E</text><line x1="324.8" y1="898.3" x2="324.8" y2="903.3" stroke="#000" stroke-width="1.2"/><text x="324.8" y="945" font-size="37" text-anchor="middle">120°E</text><line x1="538.0" y1="898.3" x2="538.0" y2="903.3" stroke="#000" stroke-width="1.2"/><text x="538.0" y="945" font-size="37" text-anchor="middle">130°E</text><line x1="751.2" y1="898.3" x2="751.2" y2="903.3" stroke="#000" stroke-width="1.2"/><text x="751.2" y="945" font-size="37" text-anchor="middle">140°E</text><line x1="964.5" y1="898.3" x2="964.5" y2="903.3" stroke="#000" stroke-width="1.2"/><text x="964.5" y="945" font-size="37" text-anchor="middle">150°E</text><path d="M153.2,978.6 L189.4,969.0 L885.3,969.0 L921.5,978.6 L885.3,988.2 L189.4,988.2 Z" fill="url(#cb)" stroke="#000" stroke-width="0.8"/><line x1="189.4" y1="988.2" x2="189.4" y2="992.2" stroke="#000" stroke-width="1"/><text transform="translate(189.4,1028) scale(1.2,1)" font-size="33" text-anchor="middle">-4</text><line x1="276.4" y1="988.2" x2="276.4" y2="992.2" stroke="#000" stroke-width="1"/><text transform="translate(276.4,1028) scale(1.2,1)" font-size="33" text-anchor="middle">-3</text><line x1="363.4" y1="988.2" x2="363.4" y2="992.2" stroke="#000" stroke-width="1"/><text transform="translate(363.4,1028) scale(1.2,1)" font-size="33" text-anchor="middle">-2</text><line x1="450.4" y1="988.2" x2="450.4" y2="992.2" stroke="#000" stroke-width="1"/><text transform="translate(450.4,1028) scale(1.2,1)" font-size="33" text-anchor="middle">-1</text><line x1="537.4" y1="988.2" x2="537.4" y2="992.2" stroke="#000" stroke-width="1"/><text transform="translate(537.4,1028) scale(1.2,1)" font-size="33" text-anchor="middle">0</text><line x1="624.3" y1="988.2" x2="624.3" y2="992.2" stroke="#000" stroke-width="1"/><text transform="translate(624.3,1028) scale(1.2,1)" font-size="33" text-anchor="middle">1</text><line x1="711.3" y1="988.2" x2="711.3" y2="992.2" stroke="#000" stroke-width="1"/><text transform="translate(711.3,1028) scale(1.2,1)" font-size="33" text-anchor="middle">2</text><line x1="798.3" y1="988.2" x2="798.3" y2="992.2" stroke="#000" stroke-width="1"/><text transform="translate(798.3,1028) scale(1.2,1)" font-size="33" text-anchor="middle">3</text><line x1="885.3" y1="988.2" x2="885.3" y2="992.2" stroke="#000" stroke-width="1"/><text transform="translate(885.3,1028) scale(1.2,1)" font-size="33" text-anchor="middle">4</text></svg></body></html>
